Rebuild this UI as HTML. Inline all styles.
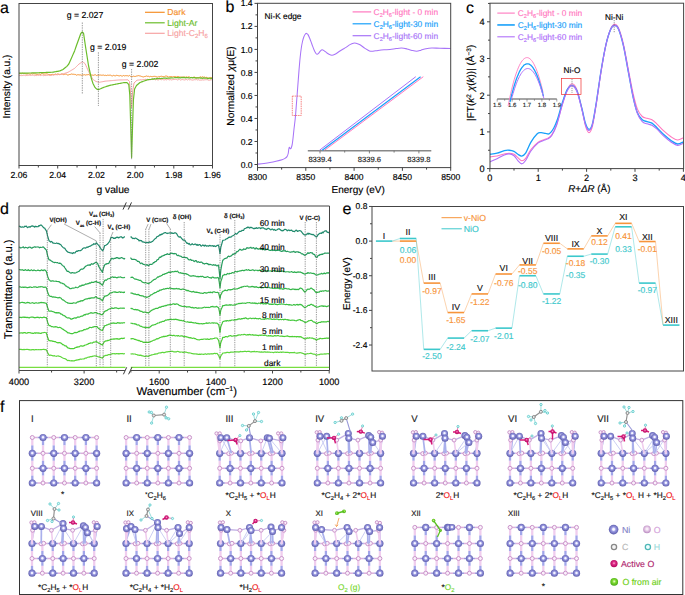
<!DOCTYPE html>
<html><head><meta charset="utf-8"><style>
html,body{margin:0;padding:0;background:#fff;}
svg{display:block;}
text{font-family:"Liberation Sans", sans-serif;stroke-width:0.15px;text-rendering:geometricPrecision;}
</style></head><body>
<svg width="685" height="595" viewBox="0 0 685 595">
<rect width="685" height="595" fill="#fff"/>
<text x="0" y="12.6" font-size="16" text-anchor="start" fill="#000"  stroke="#000">a</text>
<text x="225.6" y="12.4" font-size="16" text-anchor="start" fill="#000"  stroke="#000">b</text>
<text x="466" y="12.6" font-size="16" text-anchor="start" fill="#000"  stroke="#000">c</text>
<text x="0" y="214" font-size="16" text-anchor="start" fill="#000"  stroke="#000">d</text>
<text x="342.6" y="214" font-size="16" text-anchor="start" fill="#000"  stroke="#000">e</text>
<text x="0" y="411.6" font-size="16" text-anchor="start" fill="#000"  stroke="#000">f</text>
<path d="M19,73.36 L19.6,73.53 L20.2,73.46 L20.8,73.64 L21.4,73.76 L22,73.31 L22.6,73.05 L23.2,73.66 L23.8,73.45 L24.4,73.33 L25,73.96 L25.6,73.81 L26.2,74.06 L26.8,73.87 L27.4,73.93 L28,73.52 L28.6,73.76 L29.2,74.09 L29.8,73.95 L30.4,74.08 L31,74.09 L31.6,73.55 L32.2,73.91 L32.8,73.94 L33.4,73.7 L34,73.34 L34.6,73.92 L35.2,73.86 L35.8,74.05 L36.4,74.3 L37,74.28 L37.6,74.46 L38.2,74.08 L38.8,74.26 L39.4,74.03 L40,74.37 L40.6,74.49 L41.2,73.85 L41.8,73.57 L42.4,73.5 L43,74.15 L43.6,74 L44.2,74.1 L44.8,73.87 L45.4,73.94 L46,73.87 L46.6,73.81 L47.2,73.99 L47.8,74.09 L48.4,74.43 L49,74.4 L49.6,74.61 L50.2,74.66 L50.8,74.81 L51.4,74.6 L52,74.04 L52.6,74.4 L53.2,74.67 L53.8,74.76 L54.4,74.5 L55,74.51 L55.6,74.07 L56.2,74.41 L56.8,74.35 L57.4,74.07 L58,73.73 L58.6,74.28 L59.2,74.68 L59.8,74.07 L60.4,74.42 L61,74.25 L61.6,73.94 L62.2,73.92 L62.8,74.35 L63.4,74.67 L64,74.09 L64.6,74.32 L65.2,73.93 L65.8,74.35 L66.4,74.22 L67,74.66 L67.6,74.97 L68.2,74.71 L68.8,75.03 L69.4,74.58 L70,74.16 L70.6,74.42 L71.2,74.05 L71.8,74.02 L72.4,74.21 L73,74.49 L73.6,74.23 L74.2,74.01 L74.8,74.65 L75.4,74.48 L76,74.98 L76.6,75.18 L77.2,74.83 L77.8,74.73 L78.4,74.74 L79,74.87 L79.6,74.9 L80.2,74.89 L80.8,74.95 L81.4,75.27 L82,75.05 L82.6,74.88 L83.2,75.07 L83.8,74.73 L84.4,74.63 L85,75.2 L85.6,75.08 L86.2,75.05 L86.8,74.56 L87.4,74.69 L88,74.91 L88.6,74.52 L89.2,74.88 L89.8,75.08 L90.4,74.67 L91,74.98 L91.6,75 L92.2,75.21 L92.8,75.03 L93.4,75.27 L94,75.43 L94.6,74.87 L95.2,74.63 L95.8,75.07 L96.4,75.56 L97,75.17 L97.6,75.17 L98.2,75.3 L98.8,75.13 L99.4,75.09 L100,75.04 L100.6,75.06 L101.2,75.29 L101.8,75.14 L102.4,75.14 L103,75.51 L103.6,75.02 L104.2,75.28 L104.8,75.56 L105.4,75.32 L106,75.14 L106.6,75.57 L107.2,75.29 L107.8,75.1 L108.4,75.24 L109,75.56 L109.6,75.18 L110.2,75.2 L110.8,75.23 L111.4,75.69 L112,75.58 L112.6,75.91 L113.2,75.46 L113.8,75.39 L114.4,75.65 L115,75.99 L115.6,75.78 L116.2,75.48 L116.8,75.24 L117.4,75.49 L118,75.32 L118.6,75.8 L119.2,76.07 L119.8,75.63 L120.4,75.49 L121,75.91 L121.6,75.98 L122.2,76.17 L122.8,75.85 L123.4,75.51 L124,75.49 L124.6,75.93 L125.2,75.7 L125.8,75.65 L126.4,75.7 L127,75.73 L127.6,75.74 L128.2,76.22 L128.8,75.77 L129.4,75.42 L130,76.1 L130.6,76.38 L131.2,76.63 L131.8,76.26 L132.4,76.55 L133,76.68 L133.6,76.12 L134.2,76.31 L134.8,76.5 L135.4,76.44 L136,76.29 L136.6,76.01 L137.2,75.93 L137.8,75.79 L138.4,75.59 L139,75.96 L139.6,75.88 L140.2,76.32 L140.8,75.85 L141.4,76.4 L142,76.49 L142.6,76.75 L143.2,76.87 L143.8,76.93 L144.4,76.68 L145,76.05 L145.6,76.41 L146.2,76.07 L146.8,76.03 L147.4,76.34 L148,76.38 L148.6,76.3 L149.2,76.74 L149.8,76.68 L150.4,76.41 L151,76.2 L151.6,76.64 L152.2,76.53 L152.8,76.75 L153.4,76.48 L154,76.21 L154.6,76.39 L155.2,76.74 L155.8,76.33 L156.4,76.7 L157,77 L157.6,77.06 L158.2,77.1 L158.8,76.4 L159.4,76.61 L160,76.94 L160.6,76.37 L161.2,76.29 L161.8,76.26 L162.4,76.48 L163,76.5 L163.6,76.56 L164.2,76.87 L164.8,76.34 L165.4,76.12 L166,76.09 L166.6,76.07 L167.2,76.02 L167.8,76.82 L168.4,77.11 L169,76.57 L169.6,76.68 L170.2,76.58 L170.8,76.53 L171.4,76.54 L172,76.82 L172.6,76.91 L173.2,76.76 L173.8,76.54 L174.4,76.56 L175,76.39 L175.6,76.7 L176.2,77 L176.8,76.86 L177.4,76.52 L178,76.45 L178.6,76.59 L179.2,76.88 L179.8,77.19 L180.4,76.99 L181,77.27 L181.6,77.26 L182.2,77.08 L182.8,76.95 L183.4,77 L184,77.22 L184.6,77.08 L185.2,77.26 L185.8,77.15 L186.4,76.9 L187,77.05 L187.6,77.27 L188.2,76.82 L188.8,76.93 L189.4,76.98 L190,77.43 L190.6,77.7 L191.2,77.34 L191.8,77.64 L192.4,77.7 L193,77.26 L193.6,77.22 L194.2,76.91 L194.8,77.37 L195.4,77.48 L196,77.74 L196.6,77.79 L197.2,77.71 L197.8,77.73 L198.4,77.6 L199,77.12 L199.6,77.33 L200.2,76.91 L200.8,76.83 L201.4,77.37 L202,76.98 L202.6,76.84 L203.2,76.78 L203.8,77.46 L204.4,77.17 L205,76.9 L205.6,77.5 L206.2,77.16 L206.8,77.64 L207.4,77.74 L208,77.94 L208.6,78.15 L209.2,77.92 L209.8,78.02 L210.4,77.38 L211,77.73 L211.6,77.68 L212.2,77.84" fill="none" stroke="#f5902a" stroke-width="1" stroke-linejoin="round" />
<path d="M19,75.39 L19.81,75.47 L20.62,75.51 L21.42,75.62 L22.23,75.48 L23.04,75.61 L23.85,74.99 L24.65,75.3 L25.46,75.64 L26.27,75.44 L27.08,75.62 L27.88,75.07 L28.69,75.32 L29.5,75.17 L30.31,75.38 L31.12,75.41 L31.92,75.02 L32.73,75.17 L33.54,75.21 L34.35,75.66 L35.15,75.56 L35.96,75.14 L36.77,75.59 L37.58,75.14 L38.38,75.47 L39.19,75.13 L40,75.05 L40.83,75.64 L41.67,75.15 L42.5,75.13 L43.33,75.65 L44.17,75.55 L45,75.12 L45.83,75.57 L46.67,75.25 L47.5,75.32 L48.33,74.97 L49.17,75.46 L50,75.27 L50.83,75.44 L51.67,75.36 L52.5,74.93 L53.33,74.95 L54.17,74.79 L55,74.75 L55.88,74.6 L56.75,74.66 L57.62,74.77 L58.5,74.25 L59.38,74.62 L60.25,74.4 L61.12,74.3 L62,74.2 L62.86,73.93 L63.71,73.66 L64.57,73.39 L65.43,73.11 L66.29,72.84 L67.14,72.57 L68,72.3 L68.83,71.81 L69.65,71.33 L70.47,70.84 L71.3,70.35 L72.12,69.86 L72.95,69.38 L73.77,68.89 L74.6,68.4 L75.48,67.52 L76.36,66.64 L77.24,65.76 L78.12,64.88 L79,64 L79.88,63.45 L80.75,62.9 L81.62,62.35 L82.5,61.8 L83.33,62.37 L84.17,62.93 L85,63.5 L85.88,65.45 L86.75,67.4 L87.62,69.35 L88.5,71.3 L89.36,72.9 L90.22,74.5 L91.08,76.1 L91.94,77.7 L92.8,79.3 L93.6,79.85 L94.4,80.4 L95.2,80.95 L96,81.5 L96.85,81.7 L97.7,81.9 L98.55,82.1 L99.4,82.3 L100.33,82.12 L101.27,81.93 L102.2,81.75 L103.13,81.57 L104.07,81.38 L105,81.2 L105.84,81.12 L106.67,81.05 L107.51,80.98 L108.35,80.9 L109.19,80.83 L110.03,80.75 L110.86,80.67 L111.7,80.6 L112.54,80.53 L113.38,80.45 L114.21,80.38 L115.05,80.3 L115.89,80.22 L116.73,80.15 L117.56,80.08 L118.4,80 L119.26,79.98 L120.13,79.96 L120.99,79.95 L121.85,79.93 L122.72,79.91 L123.58,79.89 L124.45,79.87 L125.31,79.85 L126.17,79.84 L127.04,79.82 L127.9,79.8 L129.5,81.5 L130.5,92 L131.5,108 L132.6,92 L134,83 L135,82.07 L136,81.13 L137,80.2 L137.8,80.13 L138.6,80.06 L139.4,79.99 L140.2,79.81 L141,79.72 L141.8,80 L142.6,79.7 L143.4,79.51 L144.2,79.56 L145,79.64 L145.8,79.19 L146.61,79.84 L147.41,79.18 L148.21,79.69 L149.02,79.77 L149.82,79.19 L150.62,79.73 L151.43,79.44 L152.23,79.6 L153.04,79.2 L153.84,79.24 L154.64,79.33 L155.45,79.88 L156.25,79.35 L157.05,79.75 L157.86,79.88 L158.66,79.89 L159.46,79.48 L160.27,79.49 L161.07,79.61 L161.88,79.79 L162.68,79.33 L163.48,79.78 L164.29,79.82 L165.09,79.87 L165.89,79.3 L166.7,79.94 L167.5,79.35 L168.3,79.53 L169.11,79.72 L169.91,79.94 L170.71,79.54 L171.52,79.95 L172.32,79.69 L173.12,79.54 L173.93,79.54 L174.73,79.45 L175.54,79.39 L176.34,79.44 L177.14,79.82 L177.95,80.04 L178.75,79.46 L179.55,79.39 L180.36,80.05 L181.16,79.74 L181.96,79.65 L182.77,79.54 L183.57,79.79 L184.38,79.96 L185.18,79.71 L185.98,79.69 L186.79,79.44 L187.59,80.04 L188.39,79.43 L189.2,79.76 L190,80 L190.8,79.51 L191.61,79.94 L192.41,80.1 L193.21,79.88 L194.02,79.99 L194.82,79.52 L195.62,79.75 L196.43,79.56 L197.23,80.05 L198.04,79.67 L198.84,79.79 L199.64,80.17 L200.45,80.08 L201.25,80.17 L202.05,79.81 L202.86,79.83 L203.66,80.01 L204.46,79.84 L205.27,79.71 L206.07,79.79 L206.88,79.62 L207.68,79.79 L208.48,80.22 L209.29,80.2 L210.09,79.97 L210.89,79.89 L211.7,79.78 L212.5,79.9" fill="none" stroke="#f7a3a3" stroke-width="1" stroke-linejoin="round" />
<path d="M19,73.2 L19.8,73.19 L20.6,73.17 L21.4,73.16 L22.2,73.14 L23,73.12 L23.8,73.11 L24.6,73.09 L25.4,73.08 L26.2,73.06 L27,73.05 L27.8,73.04 L28.6,73.02 L29.4,73.01 L30.2,72.99 L31,72.98 L31.8,72.96 L32.6,72.95 L33.4,72.93 L34.2,72.92 L35,72.9 L35.8,72.87 L36.6,72.84 L37.4,72.8 L38.2,72.77 L39,72.74 L39.8,72.71 L40.6,72.68 L41.4,72.65 L42.2,72.61 L43,72.58 L43.8,72.55 L44.6,72.52 L45.4,72.49 L46.2,72.45 L47,72.42 L47.8,72.39 L48.6,72.36 L49.4,72.33 L50.2,72.3 L51,72.26 L51.8,72.23 L52.6,72.2 L53.48,72.05 L54.35,71.9 L55.23,71.75 L56.1,71.6 L56.98,71.45 L57.85,71.3 L58.73,71.15 L59.6,71 L60.45,70.62 L61.3,70.25 L62.15,69.88 L63,69.5 L63.9,68.78 L64.8,68.05 L65.7,67.32 L66.6,66.6 L67.7,65.3 L68.8,64 L69.7,62 L70.6,60 L71.5,58 L72.53,55.63 L73.57,53.27 L74.6,50.9 L75.4,48.6 L76.2,46.3 L77,44 L78,41.25 L79,38.5 L79.9,36 L80.8,33.5 L82.3,31.9 L83.6,33.5 L84.55,40 L85.5,46.5 L87,56 L88.5,65.5 L90,72.5 L91.4,78.6 L93,83.5 L94,85.45 L95,87.4 L95.9,88.3 L96.8,89.2 L97.6,89.4 L98.4,89.6 L99.45,89.2 L100.5,88.8 L101.38,88.42 L102.25,88.05 L103.12,87.67 L104,87.3 L104.86,87.01 L105.71,86.73 L106.57,86.44 L107.43,86.16 L108.29,85.87 L109.14,85.59 L110,85.3 L110.84,85.14 L111.68,84.98 L112.52,84.82 L113.36,84.66 L114.2,84.5 L115.04,84.34 L115.88,84.18 L116.72,84.02 L117.56,83.86 L118.4,83.7 L119.33,83.52 L120.27,83.33 L121.2,83.15 L122.13,82.97 L123.07,82.78 L124,82.6 L125,82.63 L126,82.67 L127,82.7 L127.9,83.6 L128.8,84.5 L129.8,95 L130.7,125 L131.6,157.5 L132.5,128 L133.4,100 L134.6,89 L135.55,87.25 L136.5,85.5 L137.38,84.75 L138.25,84 L139.12,83.25 L140,82.5 L140.82,82.2 L141.64,81.9 L142.47,81.6 L143.29,81.3 L144.11,81 L144.93,80.7 L145.76,80.4 L146.58,80.1 L147.4,79.8 L148.24,79.69 L149.09,79.58 L149.93,79.47 L150.78,79.33 L151.62,79.17 L152.47,78.92 L153.31,79.24 L154.16,78.61 L155,78.8 L155.83,78.99 L156.67,78.45 L157.5,78.68 L158.33,78.67 L159.17,78.27 L160,78.43 L160.83,78.57 L161.67,78.37 L162.5,78.49 L163.33,78.09 L164.17,78.09 L165,77.97 L165.83,78.17 L166.67,78.39 L167.5,78.15 L168.33,78.23 L169.17,77.96 L170,78.15 L170.83,77.73 L171.67,77.81 L172.5,78 L173.33,78 L174.17,77.79 L175,77.55 L175.83,77.63 L176.67,77.56 L177.5,77.57 L178.33,77.85 L179.17,77.45 L180,77.83 L180.8,77.84 L181.6,77.36 L182.4,77.58 L183.2,77.66 L184,77.39 L184.8,77.65 L185.6,77.96 L186.4,77.5 L187.2,77.8 L188,77.53 L188.8,77.82 L189.6,78.03 L190.4,77.63 L191.2,77.53 L192,77.59 L192.8,77.88 L193.6,77.58 L194.4,77.64 L195.2,77.9 L196,78.17 L196.8,77.89 L197.6,77.89 L198.4,78.05 L199.2,77.74 L200,78.05 L200.83,77.83 L201.67,78.12 L202.5,78.35 L203.33,77.84 L204.17,78.17 L205,78.22 L205.83,77.98 L206.67,78.07 L207.5,78.54 L208.33,78.57 L209.17,78.07 L210,78.44 L210.83,78.62 L211.67,78.22 L212.5,78.4" fill="none" stroke="#6bbd2b" stroke-width="1.2" stroke-linejoin="round" />
<line x1="82.3" y1="22.5" x2="82.3" y2="94" stroke="#555" stroke-width="0.6" stroke-dasharray="1.4,1"/>
<line x1="98.4" y1="52.3" x2="98.4" y2="106" stroke="#555" stroke-width="0.6" stroke-dasharray="1.4,1"/>
<line x1="131.6" y1="69" x2="131.6" y2="160" stroke="#777" stroke-width="0.7" stroke-dasharray="1.4,1"/>
<text x="85" y="18.4" font-size="8.7" text-anchor="middle" fill="#000"  stroke="#000">g = 2.027</text>
<text x="108.2" y="49.8" font-size="8.7" text-anchor="middle" fill="#000"  stroke="#000">g = 2.019</text>
<text x="140.1" y="67.4" font-size="8.7" text-anchor="middle" fill="#000"  stroke="#000">g = 2.002</text>
<line x1="145" y1="12.3" x2="164.7" y2="12.3" stroke="#f5902a" stroke-width="1.2" />
<text x="167.3" y="15.4" font-size="8.6" text-anchor="start" fill="#f5902a"  stroke="#f5902a">Dark</text>
<line x1="145" y1="22.8" x2="164.7" y2="22.8" stroke="#6bbd2b" stroke-width="1.2" />
<text x="167.3" y="25.9" font-size="8.6" text-anchor="start" fill="#6bbd2b"  stroke="#6bbd2b">Light-Ar</text>
<line x1="145" y1="33.3" x2="164.7" y2="33.3" stroke="#f7a3a3" stroke-width="1.2" />
<text x="167.3" y="36.4" font-size="8.6" text-anchor="start" fill="#f7a3a3"  stroke="#f7a3a3">Light-C<tspan font-size="6" dy="2">2</tspan><tspan dy="-2">H</tspan><tspan font-size="6" dy="2">6</tspan></text>
<rect x="19" y="3.5" width="193.5" height="162.0" fill="none" stroke="#444" stroke-width="1"/>
<line x1="19" y1="165.5" x2="19" y2="168.5" stroke="#444" stroke-width="1" />
<text x="19" y="178" font-size="8.7" text-anchor="middle" fill="#000"  stroke="#000">2.06</text>
<line x1="38.35" y1="165.5" x2="38.35" y2="167.5" stroke="#444" stroke-width="1" />
<line x1="57.7" y1="165.5" x2="57.7" y2="168.5" stroke="#444" stroke-width="1" />
<text x="57.7" y="178" font-size="8.7" text-anchor="middle" fill="#000"  stroke="#000">2.04</text>
<line x1="77.05" y1="165.5" x2="77.05" y2="167.5" stroke="#444" stroke-width="1" />
<line x1="96.4" y1="165.5" x2="96.4" y2="168.5" stroke="#444" stroke-width="1" />
<text x="96.4" y="178" font-size="8.7" text-anchor="middle" fill="#000"  stroke="#000">2.02</text>
<line x1="115.75" y1="165.5" x2="115.75" y2="167.5" stroke="#444" stroke-width="1" />
<line x1="135.1" y1="165.5" x2="135.1" y2="168.5" stroke="#444" stroke-width="1" />
<text x="135.1" y="178" font-size="8.7" text-anchor="middle" fill="#000"  stroke="#000">2.00</text>
<line x1="154.45" y1="165.5" x2="154.45" y2="167.5" stroke="#444" stroke-width="1" />
<line x1="173.8" y1="165.5" x2="173.8" y2="168.5" stroke="#444" stroke-width="1" />
<text x="173.8" y="178" font-size="8.7" text-anchor="middle" fill="#000"  stroke="#000">1.98</text>
<line x1="193.15" y1="165.5" x2="193.15" y2="167.5" stroke="#444" stroke-width="1" />
<line x1="212.5" y1="165.5" x2="212.5" y2="168.5" stroke="#444" stroke-width="1" />
<text x="212.5" y="178" font-size="8.7" text-anchor="middle" fill="#000"  stroke="#000">1.96</text>
<text x="113" y="193" font-size="10.3" text-anchor="middle" fill="#000"  stroke="#000">g value</text>
<text x="0" y="0" font-size="10.1" text-anchor="middle" fill="#000" transform="translate(9.9,86.6) rotate(-90)" stroke="#000">Intensity (a.u.)</text>
<path d="M257.5,164.2 C258.58,164.07 261.92,163.68 264,163.4 C266.08,163.12 268,162.85 270,162.5 C272,162.15 274,161.75 276,161.3 C278,160.85 280.5,160.28 282,159.8 C283.5,159.32 284.17,158.93 285,158.4 C285.83,157.87 286.47,157.42 287,156.6 C287.53,155.78 287.9,154.77 288.2,153.5 C288.5,152.23 288.6,150.03 288.8,149 C289,147.97 289.17,147.37 289.4,147.3 C289.63,147.23 289.93,148.42 290.2,148.6 C290.47,148.78 290.75,148.75 291,148.4 C291.25,148.05 291.48,147.27 291.7,146.5 C291.92,145.73 292.08,145.13 292.3,143.8 C292.52,142.47 292.72,140.97 293,138.5 C293.28,136.03 293.62,132.42 294,129 C294.38,125.58 294.88,122.33 295.3,118 C295.72,113.67 296.08,108.33 296.5,103 C296.92,97.67 297.38,91.43 297.8,86 C298.22,80.57 298.6,75.23 299,70.4 C299.4,65.57 299.82,60.73 300.2,57 C300.58,53.27 300.92,50.58 301.3,48 C301.68,45.42 302.08,43.33 302.5,41.5 C302.92,39.67 303.35,38.22 303.8,37 C304.25,35.78 304.73,34.8 305.2,34.2 C305.67,33.6 306.13,33.33 306.6,33.4 C307.07,33.47 307.47,33.75 308,34.6 C308.53,35.45 309.13,36.85 309.8,38.5 C310.47,40.15 311.3,42.62 312,44.5 C312.7,46.38 313.37,48.35 314,49.8 C314.63,51.25 315.27,52.45 315.8,53.2 C316.33,53.95 316.73,54.28 317.2,54.3 C317.67,54.32 318.05,53.88 318.6,53.3 C319.15,52.72 319.9,51.4 320.5,50.8 C321.1,50.2 321.62,49.73 322.2,49.7 C322.78,49.67 323.28,50.12 324,50.6 C324.72,51.08 325.67,51.98 326.5,52.6 C327.33,53.22 328.08,53.87 329,54.3 C329.92,54.73 331,55.22 332,55.2 C333,55.18 333.92,54.73 335,54.2 C336.08,53.67 337.33,52.75 338.5,52 C339.67,51.25 340.75,50.47 342,49.7 C343.25,48.93 344.67,48.25 346,47.4 C347.33,46.55 348.75,45.3 350,44.6 C351.25,43.9 352.5,43.42 353.5,43.2 C354.5,42.98 354.92,43.03 356,43.3 C357.08,43.57 358.5,43.95 360,44.8 C361.5,45.65 363.42,47.38 365,48.4 C366.58,49.42 368.17,50.43 369.5,50.9 C370.83,51.37 371.58,51.28 373,51.2 C374.42,51.12 376.17,50.63 378,50.4 C379.83,50.17 382,49.93 384,49.8 C386,49.67 388,49.8 390,49.6 C392,49.4 394.08,48.87 396,48.6 C397.92,48.33 399.67,47.95 401.5,48 C403.33,48.05 405.25,48.5 407,48.9 C408.75,49.3 410.38,50.02 412,50.4 C413.62,50.78 415.2,51.23 416.7,51.2 C418.2,51.17 419.45,50.62 421,50.2 C422.55,49.78 424.2,49.07 426,48.7 C427.8,48.33 429.47,48.07 431.8,48 C434.13,47.93 436.85,48.22 440,48.3 C443.15,48.38 448.92,48.47 450.7,48.5" fill="none" stroke="#a874f8" stroke-width="1.05" />
<rect x="292.3" y="96.1" width="8.9" height="19.4" fill="none" stroke="#f03030" stroke-width="0.6" stroke-dasharray="1.5,0.8"/>
<line x1="307.8" y1="150.7" x2="431.3" y2="150.7" stroke="#888" stroke-width="1.6" />
<line x1="320" y1="150.7" x2="320" y2="153.4" stroke="#666" stroke-width="0.8" />
<line x1="369.4" y1="150.7" x2="369.4" y2="153.4" stroke="#666" stroke-width="0.8" />
<line x1="418.9" y1="150.7" x2="418.9" y2="153.4" stroke="#666" stroke-width="0.8" />
<line x1="344.7" y1="150.7" x2="344.7" y2="152.6" stroke="#666" stroke-width="0.8" />
<line x1="394.1" y1="150.7" x2="394.1" y2="152.6" stroke="#666" stroke-width="0.8" />
<text x="320" y="161.6" font-size="7.6" text-anchor="middle" fill="#222"  stroke="#222">8339.4</text>
<text x="369.4" y="161.6" font-size="7.6" text-anchor="middle" fill="#222"  stroke="#222">8339.6</text>
<text x="418.9" y="161.6" font-size="7.6" text-anchor="middle" fill="#222"  stroke="#222">8339.8</text>
<line x1="324.6" y1="150.2" x2="423.3" y2="76.7" stroke="#ff78bf" stroke-width="1" />
<line x1="322.2" y1="150.2" x2="420.6" y2="76.7" stroke="#18a0fa" stroke-width="1.2" />
<line x1="319.6" y1="150.2" x2="415.8" y2="76.7" stroke="#a874f8" stroke-width="1" />
<line x1="352.6" y1="11.9" x2="371.2" y2="11.9" stroke="#ff78bf" stroke-width="1.2" />
<text x="373.6" y="14.9" font-size="8.4" text-anchor="start" fill="#ff78bf"  stroke="#ff78bf">C<tspan font-size="5.6" dy="2">2</tspan><tspan dy="-2">H</tspan><tspan font-size="5.6" dy="2">6</tspan><tspan dy="-2">-light - 0 min</tspan></text>
<line x1="352.6" y1="23.8" x2="371.2" y2="23.8" stroke="#18a0fa" stroke-width="1.2" />
<text x="373.6" y="26.8" font-size="8.4" text-anchor="start" fill="#18a0fa"  stroke="#18a0fa">C<tspan font-size="5.6" dy="2">2</tspan><tspan dy="-2">H</tspan><tspan font-size="5.6" dy="2">6</tspan><tspan dy="-2">-light-30 min</tspan></text>
<line x1="352.6" y1="35.7" x2="371.2" y2="35.7" stroke="#a874f8" stroke-width="1.2" />
<text x="373.6" y="38.7" font-size="8.4" text-anchor="start" fill="#a874f8"  stroke="#a874f8">C<tspan font-size="5.6" dy="2">2</tspan><tspan dy="-2">H</tspan><tspan font-size="5.6" dy="2">6</tspan><tspan dy="-2">-light-60 min</tspan></text>
<text x="264.6" y="18.9" font-size="8.3" text-anchor="start" fill="#000"  stroke="#000">Ni-K edge</text>
<rect x="257.5" y="3.3" width="193.2" height="164.29999999999998" fill="none" stroke="#444" stroke-width="1"/>
<line x1="257.5" y1="167.6" x2="257.5" y2="170.8" stroke="#444" stroke-width="1" />
<text x="257.5" y="180.4" font-size="8.6" text-anchor="middle" fill="#000"  stroke="#000">8300</text>
<line x1="281.65" y1="167.6" x2="281.65" y2="169.6" stroke="#444" stroke-width="1" />
<line x1="305.8" y1="167.6" x2="305.8" y2="170.8" stroke="#444" stroke-width="1" />
<text x="305.8" y="180.4" font-size="8.6" text-anchor="middle" fill="#000"  stroke="#000">8350</text>
<line x1="329.95" y1="167.6" x2="329.95" y2="169.6" stroke="#444" stroke-width="1" />
<line x1="354.1" y1="167.6" x2="354.1" y2="170.8" stroke="#444" stroke-width="1" />
<text x="354.1" y="180.4" font-size="8.6" text-anchor="middle" fill="#000"  stroke="#000">8400</text>
<line x1="378.25" y1="167.6" x2="378.25" y2="169.6" stroke="#444" stroke-width="1" />
<line x1="402.4" y1="167.6" x2="402.4" y2="170.8" stroke="#444" stroke-width="1" />
<text x="402.4" y="180.4" font-size="8.6" text-anchor="middle" fill="#000"  stroke="#000">8450</text>
<line x1="426.55" y1="167.6" x2="426.55" y2="169.6" stroke="#444" stroke-width="1" />
<line x1="450.7" y1="167.6" x2="450.7" y2="170.8" stroke="#444" stroke-width="1" />
<text x="450.7" y="180.4" font-size="8.6" text-anchor="middle" fill="#000"  stroke="#000">8500</text>
<line x1="257.5" y1="164.5" x2="254.5" y2="164.5" stroke="#444" stroke-width="1" />
<text x="252.6" y="167.6" font-size="8.6" text-anchor="end" fill="#000"  stroke="#000">0.0</text>
<line x1="257.5" y1="152.99" x2="255.5" y2="152.99" stroke="#444" stroke-width="1" />
<line x1="257.5" y1="141.48" x2="254.5" y2="141.48" stroke="#444" stroke-width="1" />
<text x="252.6" y="144.58" font-size="8.6" text-anchor="end" fill="#000"  stroke="#000">0.2</text>
<line x1="257.5" y1="129.97" x2="255.5" y2="129.97" stroke="#444" stroke-width="1" />
<line x1="257.5" y1="118.46" x2="254.5" y2="118.46" stroke="#444" stroke-width="1" />
<text x="252.6" y="121.56" font-size="8.6" text-anchor="end" fill="#000"  stroke="#000">0.4</text>
<line x1="257.5" y1="106.95" x2="255.5" y2="106.95" stroke="#444" stroke-width="1" />
<line x1="257.5" y1="95.44" x2="254.5" y2="95.44" stroke="#444" stroke-width="1" />
<text x="252.6" y="98.54" font-size="8.6" text-anchor="end" fill="#000"  stroke="#000">0.6</text>
<line x1="257.5" y1="83.93" x2="255.5" y2="83.93" stroke="#444" stroke-width="1" />
<line x1="257.5" y1="72.42" x2="254.5" y2="72.42" stroke="#444" stroke-width="1" />
<text x="252.6" y="75.52" font-size="8.6" text-anchor="end" fill="#000"  stroke="#000">0.8</text>
<line x1="257.5" y1="60.91" x2="255.5" y2="60.91" stroke="#444" stroke-width="1" />
<line x1="257.5" y1="49.4" x2="254.5" y2="49.4" stroke="#444" stroke-width="1" />
<text x="252.6" y="52.5" font-size="8.6" text-anchor="end" fill="#000"  stroke="#000">1.0</text>
<line x1="257.5" y1="37.89" x2="255.5" y2="37.89" stroke="#444" stroke-width="1" />
<line x1="257.5" y1="26.38" x2="254.5" y2="26.38" stroke="#444" stroke-width="1" />
<text x="252.6" y="29.48" font-size="8.6" text-anchor="end" fill="#000"  stroke="#000">1.2</text>
<line x1="257.5" y1="14.87" x2="255.5" y2="14.87" stroke="#444" stroke-width="1" />
<line x1="257.5" y1="3.36" x2="254.5" y2="3.36" stroke="#444" stroke-width="1" />
<text x="252.6" y="6.46" font-size="8.6" text-anchor="end" fill="#000"  stroke="#000">1.4</text>
<text x="358.2" y="193.4" font-size="10" text-anchor="middle" fill="#000"  stroke="#000">Energy (eV)</text>
<text font-size="10.2" text-anchor="middle" transform="translate(234.2,86) rotate(-90)" stroke="#000">Normalized <tspan font-style="italic">χ</tspan>μ(E)</text>
<clipPath id="clc"><rect x="490" y="3.2" width="193.60000000000002" height="165.4"/></clipPath>
<g clip-path="url(#clc)">
<path d="M489.8,156.86 C491.01,156.7 494.64,156.43 497.06,155.94 C499.48,155.45 502.3,154.38 504.32,153.92 C506.34,153.46 507.55,153.12 509.16,153.19 C510.77,153.25 512.55,153.55 514,154.29 C515.45,155.02 516.58,156.52 517.87,157.59 C519.16,158.66 520.45,160.59 521.74,160.71 C523.03,160.83 524.08,160.19 525.62,158.32 C527.15,156.46 528.84,152.21 530.94,149.52 C533.04,146.82 536.18,143.77 538.2,142.18 C540.22,140.59 541.43,140.65 543.04,139.97 C544.65,139.3 546.43,139 547.88,138.14 C549.33,137.28 550.3,137.1 551.75,134.84 C553.2,132.57 554.82,129.64 556.59,124.56 C558.37,119.48 560.63,110.19 562.4,104.37 C564.17,98.56 565.63,93.12 567.24,89.69 C568.85,86.27 570.47,83.82 572.08,83.82 C573.69,83.82 575.31,85.66 576.92,89.69 C578.53,93.73 580.31,101.93 581.76,108.04 C583.21,114.16 584.42,122.3 585.63,126.39 C586.84,130.49 587.89,132.63 589.02,132.63 C590.15,132.63 591.2,131.1 592.41,126.39 C593.62,121.69 594.83,113.55 596.28,104.37 C597.73,95.2 599.51,81.32 601.12,71.34 C602.73,61.37 604.35,51.71 605.96,44.55 C607.57,37.4 609.35,31.77 610.8,28.41 C612.25,25.04 613.38,24.43 614.67,24.37 C615.96,24.31 617.09,24.8 618.54,28.04 C620,31.28 621.77,37.03 623.38,43.82 C625,50.61 626.61,60.52 628.22,68.78 C629.84,77.03 631.53,86.64 633.06,93.36 C634.6,100.09 635.89,105.29 637.42,109.15 C638.95,113 640.65,114.96 642.26,116.49 C643.87,118.02 645.49,117.77 647.1,118.32 C648.71,118.87 650.33,118.87 651.94,119.79 C653.55,120.71 654.76,121.93 656.78,123.83 C658.8,125.72 661.62,128.96 664.04,131.17 C666.46,133.37 669.04,135.57 671.3,137.04 C673.56,138.51 675.58,139.85 677.59,139.97 C679.61,140.1 682.43,138.14 683.4,137.77" fill="none" stroke="#ff78bf" stroke-width="1.1" />
<path d="M489.8,154.29 C491.01,154.1 494.64,153.8 497.06,153.19 C499.48,152.57 502.3,151.11 504.32,150.62 C506.34,150.13 507.55,150.13 509.16,150.25 C510.77,150.37 512.55,150.68 514,151.35 C515.45,152.02 516.58,153.49 517.87,154.29 C519.16,155.08 520.45,156.31 521.74,156.12 C523.03,155.94 524.08,155.51 525.62,153.19 C527.15,150.86 529,145.42 530.94,142.18 C532.88,138.93 535.54,135.33 537.23,133.73 C538.93,132.14 539.73,132.7 541.1,132.63 C542.48,132.57 544.09,133.18 545.46,133.37 C546.83,133.55 547.96,134.59 549.33,133.73 C550.7,132.88 552.32,130.68 553.69,128.23 C555.06,125.78 556.11,123.34 557.56,119.05 C559.01,114.77 560.79,107.43 562.4,102.54 C564.01,97.65 565.63,92.57 567.24,89.69 C568.85,86.82 570.47,85.11 572.08,85.29 C573.69,85.47 575.31,87 576.92,90.8 C578.53,94.59 580.31,102.54 581.76,108.04 C583.21,113.55 584.42,120.28 585.63,123.83 C586.84,127.37 587.89,129.33 589.02,129.33 C590.15,129.33 591.2,128.29 592.41,123.83 C593.62,119.36 594.83,111.47 596.28,102.54 C597.73,93.61 599.51,79.91 601.12,70.24 C602.73,60.58 604.35,51.4 605.96,44.55 C607.57,37.7 609.35,32.32 610.8,29.14 C612.25,25.96 613.38,25.47 614.67,25.47 C615.96,25.47 617.09,25.78 618.54,29.14 C620,32.5 621.77,38.62 623.38,45.65 C625,52.69 626.61,62.78 628.22,71.34 C629.84,79.91 631.53,90.12 633.06,97.03 C634.6,103.95 635.89,109.02 637.42,112.82 C638.95,116.61 640.65,118.32 642.26,119.79 C643.87,121.26 645.49,121.07 647.1,121.62 C648.71,122.17 650.33,122.11 651.94,123.09 C653.55,124.07 654.76,125.54 656.78,127.5 C658.8,129.45 661.62,132.63 664.04,134.84 C666.46,137.04 669.04,139.18 671.3,140.71 C673.56,142.24 675.58,143.83 677.59,144.01 C679.61,144.19 682.43,142.18 683.4,141.81" fill="none" stroke="#18a0fa" stroke-width="1.3" />
<path d="M489.8,161.99 C491.01,161.44 494.64,159.85 497.06,158.69 C499.48,157.53 502.3,155.82 504.32,155.02 C506.34,154.23 507.55,153.8 509.16,153.92 C510.77,154.04 512.55,154.65 514,155.75 C515.45,156.86 516.58,159.18 517.87,160.53 C519.16,161.87 520.45,163.83 521.74,163.83 C523.03,163.83 524.08,162.67 525.62,160.53 C527.15,158.39 528.84,153.92 530.94,150.98 C533.04,148.05 536.18,144.62 538.2,142.91 C540.22,141.2 541.43,141.38 543.04,140.71 C544.65,140.04 546.43,139.73 547.88,138.87 C549.33,138.02 550.3,137.83 551.75,135.57 C553.2,133.31 554.82,130.49 556.59,125.29 C558.37,120.09 560.63,110.12 562.4,104.37 C564.17,98.63 565.63,93.92 567.24,90.8 C568.85,87.68 570.47,85.54 572.08,85.66 C573.69,85.78 575.31,87.62 576.92,91.53 C578.53,95.44 580.31,103.52 581.76,109.15 C583.21,114.77 584.42,121.75 585.63,125.29 C586.84,128.84 587.89,130.55 589.02,130.43 C590.15,130.31 591.2,129.09 592.41,124.56 C593.62,120.03 594.83,112.2 596.28,103.27 C597.73,94.34 599.51,80.76 601.12,70.98 C602.73,61.19 604.35,51.53 605.96,44.55 C607.57,37.58 609.35,32.32 610.8,29.14 C612.25,25.96 613.38,25.47 614.67,25.47 C615.96,25.47 617.09,25.84 618.54,29.14 C620,32.44 621.77,38.31 623.38,45.29 C625,52.26 626.61,62.41 628.22,70.98 C629.84,79.54 631.53,89.57 633.06,96.67 C634.6,103.76 635.89,109.39 637.42,113.55 C638.95,117.71 640.65,119.91 642.26,121.62 C643.87,123.34 645.49,123.21 647.1,123.83 C648.71,124.44 650.33,124.44 651.94,125.29 C653.55,126.15 654.76,127.13 656.78,128.96 C658.8,130.8 661.62,134.1 664.04,136.3 C666.46,138.51 669.04,140.65 671.3,142.18 C673.56,143.71 675.58,145.3 677.59,145.48 C679.61,145.66 682.43,143.64 683.4,143.28" fill="none" stroke="#b070fa" stroke-width="1.1" />
</g>
<line x1="614.2" y1="20" x2="614.2" y2="33" stroke="#555" stroke-width="0.6" stroke-dasharray="1.2,1"/>
<line x1="572" y1="79" x2="572" y2="93" stroke="#555" stroke-width="0.6" stroke-dasharray="1.2,1"/>
<rect x="561.5" y="78.5" width="19.5" height="16" fill="none" stroke="#f03030" stroke-width="0.7"/>
<text x="614.2" y="19.6" font-size="8.2" text-anchor="middle" fill="#000"  stroke="#000">Ni-Ni</text>
<text x="571.9" y="73.4" font-size="8.2" text-anchor="middle" fill="#000"  stroke="#000">Ni-O</text>
<line x1="497.2" y1="99" x2="556.8" y2="99" stroke="#888" stroke-width="1.4" />
<line x1="497.2" y1="99" x2="497.2" y2="101.6" stroke="#666" stroke-width="0.6" />
<line x1="504.65" y1="99" x2="504.65" y2="100.8" stroke="#666" stroke-width="0.6" />
<line x1="512.1" y1="99" x2="512.1" y2="101.6" stroke="#666" stroke-width="0.6" />
<line x1="519.55" y1="99" x2="519.55" y2="100.8" stroke="#666" stroke-width="0.6" />
<line x1="527" y1="99" x2="527" y2="101.6" stroke="#666" stroke-width="0.6" />
<line x1="534.45" y1="99" x2="534.45" y2="100.8" stroke="#666" stroke-width="0.6" />
<line x1="541.9" y1="99" x2="541.9" y2="101.6" stroke="#666" stroke-width="0.6" />
<line x1="549.35" y1="99" x2="549.35" y2="100.8" stroke="#666" stroke-width="0.6" />
<line x1="556.8" y1="99" x2="556.8" y2="101.6" stroke="#666" stroke-width="0.6" />
<text x="497.2" y="107" font-size="6" text-anchor="middle" fill="#222"  stroke="#222">1.5</text>
<text x="512.1" y="107" font-size="6" text-anchor="middle" fill="#222"  stroke="#222">1.6</text>
<text x="527" y="107" font-size="6" text-anchor="middle" fill="#222"  stroke="#222">1.7</text>
<text x="541.9" y="107" font-size="6" text-anchor="middle" fill="#222"  stroke="#222">1.8</text>
<text x="556.8" y="107" font-size="6" text-anchor="middle" fill="#222"  stroke="#222">1.9</text>
<path d="M508.1,105.89 C508.25,105.16 508.68,102.94 508.98,101.52 C509.27,100.1 509.56,98.71 509.85,97.36 C510.14,96.01 510.43,94.69 510.73,93.41 C511.02,92.12 511.31,90.87 511.6,89.66 C511.89,88.45 512.18,87.27 512.48,86.12 C512.77,84.98 513.06,83.86 513.35,82.79 C513.64,81.71 513.93,80.67 514.23,79.66 C514.52,78.65 514.81,77.68 515.1,76.74 C515.39,75.8 515.68,74.9 515.98,74.03 C516.27,73.16 516.56,72.33 516.85,71.53 C517.14,70.73 517.43,69.96 517.73,69.23 C518.02,68.5 518.31,67.8 518.6,67.14 C518.89,66.48 519.18,65.85 519.48,65.25 C519.77,64.66 520.06,64.1 520.35,63.58 C520.64,63.05 520.93,62.56 521.23,62.11 C521.52,61.65 521.81,61.23 522.1,60.85 C522.39,60.46 522.68,60.11 522.98,59.79 C523.27,59.47 523.56,59.19 523.85,58.94 C524.14,58.69 524.43,58.48 524.73,58.3 C525.02,58.12 525.31,57.98 525.6,57.86 C525.89,57.75 526.18,57.68 526.48,57.64 C526.77,57.6 527.06,57.59 527.35,57.62 C527.64,57.64 527.93,57.71 528.23,57.8 C528.52,57.9 528.81,58.03 529.1,58.2 C529.39,58.36 529.68,58.56 529.98,58.8 C530.27,59.03 530.56,59.3 530.85,59.6 C531.14,59.91 531.43,60.25 531.73,60.62 C532.02,60.99 532.31,61.4 532.6,61.84 C532.89,62.28 533.18,62.76 533.48,63.27 C533.77,63.78 534.06,64.32 534.35,64.9 C534.64,65.48 534.93,66.1 535.23,66.75 C535.52,67.39 535.81,68.08 536.1,68.79 C536.39,69.51 536.68,70.26 536.98,71.05 C537.27,71.84 537.56,72.66 537.85,73.51 C538.14,74.37 538.43,75.26 538.73,76.18 C539.02,77.11 539.31,78.07 539.6,79.06 C539.89,80.06 540.18,81.08 540.48,82.15 C540.77,83.21 541.06,84.31 541.35,85.44 C541.64,86.57 541.93,87.74 542.23,88.94 C542.52,90.14 542.95,92.02 543.1,92.64" fill="none" stroke="#ff78bf" stroke-width="0.9" />
<path d="M510,102.01 C510.14,101.42 510.56,99.6 510.83,98.43 C511.11,97.27 511.39,96.13 511.67,95.03 C511.95,93.92 512.23,92.85 512.5,91.8 C512.78,90.76 513.06,89.74 513.34,88.75 C513.62,87.76 513.9,86.8 514.17,85.88 C514.45,84.95 514.73,84.05 515.01,83.18 C515.29,82.3 515.57,81.46 515.85,80.65 C516.12,79.84 516.4,79.06 516.68,78.3 C516.96,77.55 517.24,76.83 517.51,76.13 C517.79,75.44 518.07,74.77 518.35,74.14 C518.63,73.5 518.91,72.89 519.18,72.32 C519.46,71.74 519.74,71.19 520.02,70.67 C520.3,70.16 520.58,69.67 520.86,69.21 C521.13,68.75 521.41,68.32 521.69,67.92 C521.97,67.51 522.25,67.14 522.52,66.8 C522.8,66.46 523.08,66.14 523.36,65.86 C523.64,65.58 523.92,65.32 524.19,65.1 C524.47,64.87 524.75,64.68 525.03,64.51 C525.31,64.34 525.59,64.21 525.87,64.1 C526.14,63.99 526.42,63.91 526.7,63.86 C526.98,63.81 527.26,63.79 527.53,63.8 C527.81,63.81 528.09,63.85 528.37,63.92 C528.65,63.99 528.93,64.08 529.21,64.21 C529.48,64.34 529.76,64.49 530.04,64.68 C530.32,64.87 530.6,65.08 530.88,65.32 C531.15,65.57 531.43,65.84 531.71,66.14 C531.99,66.45 532.27,66.78 532.54,67.14 C532.82,67.5 533.1,67.89 533.38,68.31 C533.66,68.73 533.94,69.18 534.22,69.66 C534.49,70.14 534.77,70.65 535.05,71.19 C535.33,71.72 535.61,72.29 535.88,72.89 C536.16,73.48 536.44,74.11 536.72,74.76 C537,75.42 537.28,76.1 537.55,76.82 C537.83,77.53 538.11,78.27 538.39,79.04 C538.67,79.82 538.95,80.62 539.23,81.45 C539.5,82.28 539.78,83.14 540.06,84.03 C540.34,84.92 540.62,85.84 540.89,86.79 C541.17,87.73 541.45,88.71 541.73,89.72 C542.01,90.72 542.29,91.76 542.56,92.83 C542.84,93.89 543.26,95.56 543.4,96.11" fill="none" stroke="#18a0fa" stroke-width="1.3" />
<path d="M511.4,99.57 C511.54,99.07 511.94,97.54 512.21,96.56 C512.48,95.59 512.75,94.64 513.02,93.71 C513.3,92.79 513.57,91.89 513.84,91.02 C514.11,90.14 514.38,89.3 514.65,88.47 C514.92,87.65 515.19,86.85 515.46,86.08 C515.73,85.31 516,84.56 516.27,83.84 C516.55,83.12 516.82,82.43 517.09,81.75 C517.36,81.08 517.63,80.44 517.9,79.82 C518.17,79.2 518.44,78.61 518.71,78.04 C518.98,77.47 519.25,76.93 519.52,76.41 C519.8,75.89 520.07,75.4 520.34,74.93 C520.61,74.47 520.88,74.02 521.15,73.61 C521.42,73.19 521.69,72.8 521.96,72.44 C522.23,72.07 522.5,71.73 522.77,71.42 C523.05,71.1 523.32,70.81 523.59,70.55 C523.86,70.29 524.13,70.05 524.4,69.84 C524.67,69.62 524.94,69.44 525.21,69.27 C525.48,69.11 525.75,68.97 526.02,68.86 C526.3,68.75 526.57,68.67 526.84,68.61 C527.11,68.55 527.38,68.51 527.65,68.5 C527.92,68.49 528.19,68.51 528.46,68.55 C528.73,68.59 529,68.66 529.27,68.75 C529.55,68.84 529.82,68.96 530.09,69.1 C530.36,69.25 530.63,69.42 530.9,69.61 C531.17,69.8 531.44,70.02 531.71,70.27 C531.98,70.51 532.25,70.78 532.52,71.08 C532.8,71.37 533.07,71.7 533.34,72.04 C533.61,72.39 533.88,72.76 534.15,73.16 C534.42,73.55 534.69,73.98 534.96,74.43 C535.23,74.87 535.5,75.35 535.77,75.85 C536.05,76.35 536.32,76.87 536.59,77.42 C536.86,77.97 537.13,78.54 537.4,79.14 C537.67,79.75 537.94,80.37 538.21,81.02 C538.48,81.67 538.75,82.35 539.02,83.05 C539.3,83.76 539.57,84.48 539.84,85.24 C540.11,85.99 540.38,86.77 540.65,87.57 C540.92,88.38 541.19,89.21 541.46,90.06 C541.73,90.92 542,91.8 542.27,92.7 C542.55,93.61 542.82,94.54 543.09,95.49 C543.36,96.45 543.76,97.95 543.9,98.44" fill="none" stroke="#b070fa" stroke-width="1.0" />
<line x1="497.3" y1="13.1" x2="514.8" y2="13.1" stroke="#ff78bf" stroke-width="1.1" />
<text x="517.8" y="16.1" font-size="8.4" text-anchor="start" fill="#ff78bf"  stroke="#ff78bf">C<tspan font-size="5.6" dy="2">2</tspan><tspan dy="-2">H</tspan><tspan font-size="5.6" dy="2">6</tspan><tspan dy="-2">-light - 0 min</tspan></text>
<line x1="497.3" y1="24.95" x2="514.8" y2="24.95" stroke="#18a0fa" stroke-width="1.6" />
<text x="517.8" y="27.95" font-size="8.4" text-anchor="start" fill="#18a0fa"  stroke="#18a0fa">C<tspan font-size="5.6" dy="2">2</tspan><tspan dy="-2">H</tspan><tspan font-size="5.6" dy="2">6</tspan><tspan dy="-2">-light-30 min</tspan></text>
<line x1="497.3" y1="36.8" x2="514.8" y2="36.8" stroke="#b070fa" stroke-width="1.1" />
<text x="517.8" y="39.8" font-size="8.4" text-anchor="start" fill="#b070fa"  stroke="#b070fa">C<tspan font-size="5.6" dy="2">2</tspan><tspan dy="-2">H</tspan><tspan font-size="5.6" dy="2">6</tspan><tspan dy="-2">-light-60 min</tspan></text>
<rect x="490" y="3.2" width="193.60000000000002" height="165.4" fill="none" stroke="#444" stroke-width="1"/>
<line x1="489.8" y1="168.6" x2="489.8" y2="171.8" stroke="#444" stroke-width="1" />
<text x="489.8" y="181.3" font-size="9.2" text-anchor="middle" fill="#000"  stroke="#000">0</text>
<line x1="514" y1="168.6" x2="514" y2="170.6" stroke="#444" stroke-width="1" />
<line x1="538.2" y1="168.6" x2="538.2" y2="171.8" stroke="#444" stroke-width="1" />
<text x="538.2" y="181.3" font-size="9.2" text-anchor="middle" fill="#000"  stroke="#000">1</text>
<line x1="562.4" y1="168.6" x2="562.4" y2="170.6" stroke="#444" stroke-width="1" />
<line x1="586.6" y1="168.6" x2="586.6" y2="171.8" stroke="#444" stroke-width="1" />
<text x="586.6" y="181.3" font-size="9.2" text-anchor="middle" fill="#000"  stroke="#000">2</text>
<line x1="610.8" y1="168.6" x2="610.8" y2="170.6" stroke="#444" stroke-width="1" />
<line x1="635" y1="168.6" x2="635" y2="171.8" stroke="#444" stroke-width="1" />
<text x="635" y="181.3" font-size="9.2" text-anchor="middle" fill="#000"  stroke="#000">3</text>
<line x1="659.2" y1="168.6" x2="659.2" y2="170.6" stroke="#444" stroke-width="1" />
<line x1="683.4" y1="168.6" x2="683.4" y2="171.8" stroke="#444" stroke-width="1" />
<text x="683.4" y="181.3" font-size="9.2" text-anchor="middle" fill="#000"  stroke="#000">4</text>
<line x1="490" y1="168.6" x2="487" y2="168.6" stroke="#444" stroke-width="1" />
<text x="484.6" y="171.9" font-size="9.2" text-anchor="end" fill="#000"  stroke="#000">0</text>
<line x1="490" y1="150.25" x2="488" y2="150.25" stroke="#444" stroke-width="1" />
<line x1="490" y1="131.9" x2="487" y2="131.9" stroke="#444" stroke-width="1" />
<text x="484.6" y="135.2" font-size="9.2" text-anchor="end" fill="#000"  stroke="#000">1</text>
<line x1="490" y1="113.55" x2="488" y2="113.55" stroke="#444" stroke-width="1" />
<line x1="490" y1="95.2" x2="487" y2="95.2" stroke="#444" stroke-width="1" />
<text x="484.6" y="98.5" font-size="9.2" text-anchor="end" fill="#000"  stroke="#000">2</text>
<line x1="490" y1="76.85" x2="488" y2="76.85" stroke="#444" stroke-width="1" />
<line x1="490" y1="58.5" x2="487" y2="58.5" stroke="#444" stroke-width="1" />
<text x="484.6" y="61.8" font-size="9.2" text-anchor="end" fill="#000"  stroke="#000">3</text>
<line x1="490" y1="40.15" x2="488" y2="40.15" stroke="#444" stroke-width="1" />
<line x1="490" y1="21.8" x2="487" y2="21.8" stroke="#444" stroke-width="1" />
<text x="484.6" y="25.1" font-size="9.2" text-anchor="end" fill="#000"  stroke="#000">4</text>
<line x1="490" y1="3.45" x2="488" y2="3.45" stroke="#444" stroke-width="1" />
<text x="589.3" y="192.2" font-size="9.8" text-anchor="middle" stroke="#000"><tspan font-style="italic">R</tspan>+<tspan font-style="italic">ΔR</tspan> (Å)</text>
<text font-size="10" text-anchor="middle" transform="translate(474.3,82.8) rotate(-90)" stroke="#000">|FT(<tspan font-style="italic">k</tspan><tspan font-size="6.5" dy="-3.5">2</tspan><tspan dy="3.5"> </tspan><tspan font-style="italic">χ</tspan>(<tspan font-style="italic">k</tspan>))| (Å<tspan font-size="6.5" dy="-3.5">−3</tspan><tspan dy="3.5">)</tspan></text>
<path d="M19,226.07 L19.73,226.34 L20.47,226.93 L21.2,227.09 L21.93,227.2 L22.67,226.81 L23.4,227.21 L24.13,226.99 L24.87,226.23 L25.6,226.5 L26.33,226.01 L27.07,227.15 L27.8,227.64 L28.53,226.93 L29.27,226.62 L30,227.2 L30.75,226.49 L31.5,226.11 L32.25,225.93 L33,226.04 L33.75,226.45 L34.5,227.06 L35.25,226.13 L36,226.82 L36.72,226.43 L37.43,226.73 L38.15,226.67 L38.87,225.6 L39.58,225.84 L40.3,225.09 L41.2,225.06 L42.1,225.87 L43,227 L43.85,227.83 L44.7,228.11 L45.55,229.71 L46.4,230.96 L47.6,235.91 L49,240.69 L49.8,241.28 L50.6,242.11 L51.4,241.47 L52.2,242.04 L53,243.09 L53.73,242.99 L54.47,243.21 L55.2,243.48 L55.93,243.28 L56.67,242.96 L57.4,243.38 L58.13,243.55 L58.87,243.43 L59.6,244.25 L60.33,244.39 L61.07,245 L61.8,246.03 L62.53,246.89 L63.27,247.72 L64,248.06 L64.8,248.17 L65.6,249.6 L66.4,250.76 L67.2,251.42 L68,252.26 L68.75,252.28 L69.5,252.5 L70.25,252.97 L71,252.74 L71.8,253.16 L72.6,253.53 L73.4,252.57 L74.2,252.99 L75,253.02 L75.71,251.89 L76.43,251.15 L77.14,251.49 L77.86,250.87 L78.57,250.58 L79.29,250.75 L80,250.67 L80.71,250.6 L81.43,250.12 L82.14,249.39 L82.86,248.44 L83.57,248.02 L84.29,247.79 L85,248.01 L85.73,248.16 L86.45,247.24 L87.18,246.93 L87.91,247.41 L88.64,246.59 L89.36,246.52 L90.09,246.13 L90.82,245.83 L91.55,245.22 L92.27,244.87 L93,244.75 L93.83,243.73 L94.65,244.1 L95.47,244.18 L96.3,242.79 L97.03,243.52 L97.77,244.44 L98.5,245.14 L99.5,246.37 L100.5,248.36 L101.6,249.38 L102.4,250.7 L103.4,249.81 L104.6,245.58 L105.4,245.38 L106.2,245.05 L107,244.56 L108,243.53 L109,242.08 L109.7,240.96 L110.4,239.09 L111.2,237.5 L111.96,237.36 L112.72,237.54 L113.48,238.32 L114.24,238.06 L115,238.46 L115.71,237.75 L116.43,237.23 L117.14,237.67 L117.86,237.05 L118.57,237.98 L119.29,237.42 L120,236.99 L120.71,236.79 L121.43,236.73 L122.14,237.63 L122.86,238.05 L123.57,237.54 L124.29,236.82 L125,237" fill="none" stroke="#1f8a6c" stroke-width="1.2" stroke-linejoin="round" />
<path d="M130.5,237.12 L131.28,236.84 L132.05,238.03 L132.82,238.6 L133.6,238.29 L134.38,238.61 L135.15,238.22 L135.92,238.22 L136.7,238.47 L137.5,239.52 L138.3,239.48 L139.1,240.87 L139.9,240.33 L140.7,240.57 L141.5,240.61 L142.3,241.82 L143.1,241.86 L143.9,242.21 L144.7,242.29 L145.44,242.76 L146.18,242.65 L146.92,242.36 L147.66,242.62 L148.4,242.59 L149.27,241.85 L150.13,242.39 L151,242.14 L151.8,241.66 L152.6,241.48 L153.4,240.36 L154.2,239.57 L154.9,238.91 L155.6,238.24 L156.3,237.99 L157,236.53 L157.75,236.4 L158.5,236.17 L159.25,235.51 L160,234.48 L160.71,235.04 L161.43,234.07 L162.14,234.37 L162.86,233.73 L163.57,233.15 L164.29,232.99 L165,232.61 L165.76,232.56 L166.51,233.28 L167.27,233.56 L168.03,233.06 L168.79,233.22 L169.54,232.96 L170.3,232.81 L171.04,233.37 L171.78,232.74 L172.52,233.33 L173.26,233.3 L174,233.28 L174.72,232.73 L175.44,232.92 L176.16,233.2 L176.88,234.07 L177.6,235.61 L178.45,236.5 L179.3,237.15 L180.15,236.67 L181,237.71 L181.8,238.67 L182.6,239.51 L183.4,240.23 L184.2,239.94 L184.9,240.21 L185.6,241.6 L186.3,242.44 L187,243.36 L187.75,243.2 L188.5,244.02 L189.25,243.45 L190,244.68 L190.71,244.99 L191.43,244.35 L192.14,243.74 L192.86,244.27 L193.57,244.74 L194.29,244.48 L195,243.98 L195.71,244.17 L196.43,245.11 L197.14,244.44 L197.86,245.49 L198.57,244.93 L199.29,244.69 L200,244.51 L200.71,245.74 L201.43,246.14 L202.14,245.44 L202.86,244.85 L203.57,245.47 L204.29,246.09 L205,245.05 L205.71,245.59 L206.43,246.16 L207.14,245.81 L207.86,245.86 L208.57,246.25 L209.29,245.58 L210,245.39 L210.71,245.89 L211.42,245.94 L212.12,245.95 L212.83,245.66 L213.54,246.45 L214.25,245.81 L214.96,246.15 L215.67,246.62 L216.38,246.07 L217.08,245.35 L217.79,245.32 L218.5,245.08 L219.3,249.11 L220,253.77 L220.8,247.39 L221.8,243.81 L222.8,240.25 L223.64,240.25 L224.48,240.02 L225.32,239.71 L226.16,238.86 L227,238.73 L227.72,238.35 L228.44,237.37 L229.15,237.42 L229.87,236.9 L230.59,237.04 L231.31,237 L232.03,236.05 L232.75,235.77 L233.46,235.49 L234.18,234.96 L234.9,234.17 L235.63,233.42 L236.36,234.19 L237.09,233.78 L237.81,232.82 L238.54,232.44 L239.27,231.34 L240,231.22 L240.73,231.44 L241.45,231.06 L242.18,230.25 L242.91,230.51 L243.64,230.32 L244.36,228.76 L245.09,228.47 L245.82,228.21 L246.55,227.65 L247.27,227.74 L248,226.87 L248.71,227.62 L249.41,228.12 L250.12,227.16 L250.82,227.76 L251.53,227.39 L252.24,227.84 L252.94,228.13 L253.65,228.71 L254.35,228.71 L255.06,228.06 L255.76,228.42 L256.47,227.73 L257.18,228.33 L257.88,228.17 L258.59,227.91 L259.29,227.8 L260,227.76 L260.71,228.64 L261.43,227.97 L262.14,227.94 L262.86,227.89 L263.57,227.85 L264.29,228.73 L265,228.89 L265.71,229.1 L266.43,229.57 L267.14,229.11 L267.86,228.34 L268.57,228.29 L269.29,228.79 L270,229.32 L270.71,229.87 L271.43,229.5 L272.14,228.96 L272.86,229.32 L273.57,230.01 L274.29,229.41 L275,230.1 L275.71,230.37 L276.43,230.01 L277.14,229.76 L277.86,229.16 L278.57,228.92 L279.29,228.75 L280,229.57 L280.73,230.07 L281.45,230.72 L282.18,230.42 L282.91,230.92 L283.64,230.26 L284.36,229.61 L285.09,229.27 L285.82,229.51 L286.55,229.99 L287.27,230.9 L288,230.25 L288.73,229.93 L289.45,230.56 L290.18,230.34 L290.91,230.53 L291.64,230.02 L292.36,230.9 L293.09,231.38 L293.82,231.35 L294.55,231.64 L295.27,230.87 L296,230.15 L296.7,230.35 L297.4,231.38 L298.1,231.2 L298.8,230.79 L299.5,230.61 L300.33,230.76 L301.17,231.36 L302,232.48 L302.75,233.52 L303.5,234.19 L304.25,234.91 L305,234.8 L305.75,235.04 L306.5,234.12 L307.25,234.03 L308,233.07 L308.7,234.14 L309.4,233.44 L310.1,233.88 L310.8,234.19 L311.5,234.31 L312.33,234.6 L313.17,234.36 L314,235.02 L314.77,235.93 L315.53,236.11 L316.3,237.02 L317.04,236.47 L317.78,234.75 L318.52,234.67 L319.26,233.46 L320,233.52 L320.8,233.01 L321.6,233.36 L322.4,232.1 L323.2,232.77 L324,231.5 L324.79,231.09 L325.57,230.82 L326.36,230.87 L327.14,232.16 L327.93,232.42 L328.71,232.62 L329.5,231.7" fill="none" stroke="#1f8a6c" stroke-width="1.2" stroke-linejoin="round" />
<path d="M19,246.97 L19.73,247.29 L20.45,247.93 L21.18,247.79 L21.91,247.51 L22.64,247.18 L23.36,246.84 L24.09,247.83 L24.82,247.91 L25.55,247.3 L26.27,247.51 L27,247.75 L27.73,248.11 L28.45,247.45 L29.18,247.24 L29.91,247 L30.64,247.43 L31.36,248.05 L32.09,248.06 L32.82,247.29 L33.55,247.3 L34.27,246.93 L35,246.9 L35.75,247.28 L36.5,246.98 L37.25,247 L38,246.96 L38.75,247.16 L39.5,247.79 L40.25,247.22 L41,247.46 L41.75,247.27 L42.5,247.04 L43.25,246.94 L44,247.51 L44.8,248.56 L45.6,249.28 L46.4,250.21 L47.6,255.58 L49,259.87 L49.8,259.84 L50.6,260.44 L51.4,260.92 L52.2,261.52 L53,262.1 L53.73,262.22 L54.47,262.6 L55.2,262.45 L55.93,262.49 L56.67,262.75 L57.4,262.56 L58.13,262.97 L58.87,263.32 L59.6,263.09 L60.33,263.33 L61.07,263.84 L61.8,264.72 L62.53,265.38 L63.27,265.92 L64,266.37 L64.8,267.76 L65.6,268.84 L66.4,270.2 L67.2,271.38 L68,271.22 L68.75,271.63 L69.5,272.47 L70.25,272.76 L71,273.21 L71.8,272.65 L72.6,272.52 L73.4,273.01 L74.2,272.89 L75,273.04 L75.71,272.84 L76.43,272.54 L77.14,272.13 L77.86,271.81 L78.57,271.44 L79.29,271.12 L80,270.1 L80.71,269.47 L81.43,269.04 L82.14,269.07 L82.86,269.14 L83.57,268.55 L84.29,267.78 L85,266.8 L85.73,266.29 L86.45,265.79 L87.18,265.5 L87.91,264.99 L88.64,265.1 L89.36,264.82 L90.09,265.35 L90.82,264.32 L91.55,263.63 L92.27,264.2 L93,264.25 L93.83,263.55 L94.65,263.11 L95.47,262.48 L96.3,262.11 L97.03,263.01 L97.77,263.77 L98.5,265.85 L99.5,267.72 L100.5,269.42 L101.6,270.83 L102.4,272.41 L103.4,268.07 L104.6,265.07 L105.4,264.14 L106.2,264.26 L107,263.53 L108,263.63 L109,263.11 L109.7,261.29 L110.4,260.42 L111.2,259.01 L111.96,258.21 L112.72,258.76 L113.48,258.99 L114.24,258.26 L115,258.5 L115.71,258.12 L116.43,257.6 L117.14,257.95 L117.86,257.67 L118.57,258.43 L119.29,258.59 L120,258.04 L120.71,258.03 L121.43,257.59 L122.14,257.78 L122.86,258.18 L123.57,258.63 L124.29,258.98 L125,258.2" fill="none" stroke="#259c5e" stroke-width="1.2" stroke-linejoin="round" />
<path d="M130.5,257.72 L131.28,258.76 L132.05,259.46 L132.82,259.3 L133.6,259.29 L134.38,259.39 L135.15,259.48 L135.92,259.89 L136.7,260.25 L137.5,261.52 L138.3,261.42 L139.1,261.63 L139.9,262.92 L140.7,263.68 L141.5,263.05 L142.3,263.27 L143.1,264.4 L143.9,264.26 L144.7,264.69 L145.44,264.98 L146.18,265.14 L146.92,264.53 L147.66,265.25 L148.4,265.75 L149.27,264.98 L150.13,264.28 L151,264.23 L151.8,264.3 L152.6,264.02 L153.4,262.68 L154.2,262.62 L154.9,261.74 L155.6,261.63 L156.3,261.16 L157,259.93 L157.75,259.66 L158.5,259.16 L159.25,257.6 L160,257 L160.71,257.36 L161.43,256.37 L162.14,256.03 L162.86,255.94 L163.57,255.34 L164.29,255.45 L165,254.51 L165.76,254.64 L166.51,254.53 L167.27,253.7 L168.03,254.26 L168.79,254.38 L169.54,254.4 L170.3,253.45 L171.04,253.52 L171.78,253.02 L172.52,253.54 L173.26,253.56 L174,253.89 L174.72,253.46 L175.44,253.68 L176.16,253.78 L176.88,255.17 L177.6,255.59 L178.45,255.23 L179.3,256.02 L180.15,256.12 L181,256.27 L181.8,256.97 L182.6,257.33 L183.4,257.3 L184.2,257.19 L184.9,257.42 L185.6,257.66 L186.3,257.65 L187,257.77 L187.75,258.58 L188.5,259.64 L189.25,259.78 L190,259.81 L190.71,259.38 L191.43,260.49 L192.14,260.26 L192.86,260.26 L193.57,260.92 L194.29,261.52 L195,260.87 L195.71,260.67 L196.43,260.9 L197.14,262.12 L197.86,262.09 L198.57,261.67 L199.29,262.32 L200,262.51 L200.71,262.14 L201.43,262.03 L202.14,262.48 L202.86,263.52 L203.57,263.32 L204.29,264.07 L205,263.66 L205.71,263.51 L206.43,263.26 L207.14,263.9 L207.86,263.67 L208.57,264.69 L209.29,264.77 L210,264.1 L210.71,264.65 L211.42,264.73 L212.12,265.06 L212.83,265.18 L213.54,264.64 L214.25,264.95 L214.96,265.34 L215.67,264.83 L216.38,265.71 L217.08,265.91 L217.79,265.36 L218.5,265.05 L219.3,271.61 L220,279.01 L220.8,270.17 L221.8,264.67 L222.8,260.15 L223.64,259.71 L224.48,258.71 L225.32,258.42 L226.16,258.15 L227,257.84 L227.72,256.77 L228.44,256.07 L229.15,256.4 L229.87,256.67 L230.59,256.01 L231.31,255.96 L232.03,255.05 L232.75,254.19 L233.46,254.28 L234.18,253.6 L234.9,253.86 L235.63,253.46 L236.36,252.1 L237.09,251.6 L237.81,251.72 L238.54,250.51 L239.27,249.94 L240,249.18 L240.73,249.71 L241.45,250.16 L242.18,249.87 L242.91,249.87 L243.64,248.85 L244.36,249.1 L245.09,249.32 L245.82,249.06 L246.55,248.05 L247.27,247.62 L248,248.16 L248.71,248.2 L249.41,247.89 L250.12,247.61 L250.82,247.25 L251.53,248.1 L252.24,248.24 L252.94,247.75 L253.65,247.57 L254.35,248.66 L255.06,249.04 L255.76,248.05 L256.47,247.9 L257.18,248.8 L257.88,248.64 L258.59,249.15 L259.29,248.91 L260,248.71 L260.71,249.42 L261.43,248.91 L262.14,249.56 L262.86,249.64 L263.57,248.87 L264.29,249.65 L265,250.02 L265.71,249.13 L266.43,249.35 L267.14,249.42 L267.86,249.18 L268.57,249.75 L269.29,250.26 L270,250.44 L270.71,250.46 L271.43,250 L272.14,250.15 L272.86,250.53 L273.57,250.02 L274.29,250.42 L275,250.2 L275.71,250.76 L276.43,250.31 L277.14,250.41 L277.86,250.37 L278.57,250 L279.29,250.33 L280,250.82 L280.73,250.93 L281.45,251.42 L282.18,251.47 L282.91,250.66 L283.64,250.87 L284.36,250.93 L285.09,250.44 L285.82,251.49 L286.55,251.56 L287.27,251.22 L288,251.52 L288.73,251.73 L289.45,252 L290.18,252.3 L290.91,252.06 L291.64,251.93 L292.36,252 L293.09,251.62 L293.82,251.25 L294.55,252.08 L295.27,252.43 L296,251.78 L296.7,251.92 L297.4,251.87 L298.1,251.74 L298.8,252.5 L299.5,252.46 L300.33,252.61 L301.17,253.39 L302,253.97 L302.75,253.97 L303.5,254.69 L304.25,254.93 L305,255.37 L305.75,254.75 L306.5,254.2 L307.25,253.48 L308,252.65 L308.7,253.48 L309.4,253.17 L310.1,252.64 L310.8,252.6 L311.5,253.02 L312.33,252.85 L313.17,254.18 L314,254.38 L314.77,254.8 L315.53,256.78 L316.3,257.25 L317.04,257.38 L317.78,256.02 L318.52,255.23 L319.26,255.31 L320,254.36 L320.8,254.69 L321.6,254.18 L322.4,254.48 L323.2,253.73 L324,253.56 L324.79,253.15 L325.57,253.02 L326.36,253.21 L327.14,252.95 L327.93,253.22 L328.71,252.99 L329.5,253.2" fill="none" stroke="#259c5e" stroke-width="1.2" stroke-linejoin="round" />
<path d="M19,269.74 L19.73,269.5 L20.45,269.98 L21.18,269.76 L21.91,270.05 L22.64,269.71 L23.36,270.4 L24.09,270.38 L24.82,269.99 L25.55,269.61 L26.27,270.24 L27,270.56 L27.73,270.13 L28.45,269.73 L29.18,270.45 L29.91,270.66 L30.64,270.32 L31.36,269.83 L32.09,270.29 L32.82,270.69 L33.55,270.19 L34.27,270.06 L35,270.52 L35.75,270.56 L36.5,270.73 L37.25,270.5 L38,270 L38.75,270.52 L39.5,270.57 L40.25,270.64 L41,270.12 L41.75,269.88 L42.5,270.44 L43.25,270.6 L44,269.83 L44.8,270.05 L45.6,270.51 L46.4,271.54 L47.6,276.13 L49,279.86 L49.8,280.36 L50.6,281.14 L51.4,281.1 L52.2,280.82 L53,280.89 L53.73,281.09 L54.47,281.25 L55.2,281.24 L55.93,281.17 L56.67,281.45 L57.4,281.49 L58.13,281.55 L58.87,281.51 L59.6,282.03 L60.33,282.79 L61.07,282.93 L61.8,282.98 L62.53,283.56 L63.27,283.68 L64,284.03 L64.8,284.73 L65.6,286.02 L66.4,286.04 L67.2,286.84 L68,287.05 L68.75,287.46 L69.5,288.38 L70.25,288.75 L71,288.66 L71.8,288.23 L72.6,287.99 L73.4,288.12 L74.2,288.01 L75,287.73 L75.71,287.16 L76.43,287.52 L77.14,287.73 L77.86,287.61 L78.57,286.95 L79.29,286.43 L80,285.77 L80.71,286.22 L81.43,285.69 L82.14,284.96 L82.86,285.4 L83.57,285.1 L84.29,284.92 L85,284.48 L85.73,283.88 L86.45,284.1 L87.18,284 L87.91,283.61 L88.64,283.75 L89.36,282.92 L90.09,283.25 L90.82,282.87 L91.55,282.13 L92.27,282.43 L93,282.45 L93.83,282.33 L94.65,281.79 L95.47,281.64 L96.3,281.47 L97.03,282.08 L97.77,282.33 L98.5,282.43 L99.5,282.89 L100.5,283.33 L101.6,284.64 L102.4,285.25 L103.4,282.95 L104.6,280.4 L105.4,279.95 L106.2,280.36 L107,279.64 L108,278.76 L109,278.7 L109.7,278.5 L110.4,278 L111.2,277.24 L111.96,277.05 L112.72,276.81 L113.48,277.43 L114.24,277.44 L115,277.02 L115.71,277.51 L116.43,277.57 L117.14,277.82 L117.86,277.33 L118.57,277.19 L119.29,277.27 L120,277.03 L120.71,276.93 L121.43,277.52 L122.14,277.65 L122.86,277.77 L123.57,277.68 L124.29,277.54 L125,277.2" fill="none" stroke="#2eae50" stroke-width="1.2" stroke-linejoin="round" />
<path d="M130.5,277.6 L131.28,277.28 L132.05,277.21 L132.82,277.31 L133.6,278.13 L134.38,278.69 L135.15,279.19 L135.92,279.21 L136.7,279.31 L137.5,279.71 L138.3,279.91 L139.1,280.29 L139.9,280.28 L140.7,280.41 L141.5,281.43 L142.3,281.96 L143.1,282.51 L143.9,282.68 L144.7,282.78 L145.44,282.4 L146.18,283.02 L146.92,283 L147.66,283.4 L148.4,283.55 L149.27,283.13 L150.13,282.55 L151,282.23 L151.8,281.27 L152.6,280.8 L153.4,280.05 L154.2,279.46 L154.9,279.36 L155.6,278.95 L156.3,278.33 L157,277.68 L157.75,276.95 L158.5,277.08 L159.25,276.52 L160,276.08 L160.71,276.11 L161.43,275.5 L162.14,275.24 L162.86,274.38 L163.57,274.37 L164.29,274.32 L165,273.72 L165.76,273.65 L166.51,273.21 L167.27,273.04 L168.03,272.56 L168.79,272.1 L169.54,272.4 L170.3,272.1 L171.03,272.34 L171.76,271.85 L172.49,271.58 L173.22,271.75 L173.95,271.87 L174.68,271.39 L175.41,271.22 L176.14,271.67 L176.87,271.27 L177.6,271.22 L178.33,272.22 L179.07,272.74 L179.8,273.02 L180.53,272.64 L181.27,273.29 L182,273.07 L182.73,273.54 L183.47,273.33 L184.2,274.02 L184.92,273.68 L185.65,273.57 L186.38,273.81 L187.1,274.45 L187.82,274.32 L188.55,275 L189.28,275.57 L190,275.93 L190.71,276.09 L191.43,276.04 L192.14,275.9 L192.86,275.91 L193.57,275.7 L194.29,275.93 L195,276.13 L195.71,276.16 L196.43,276.61 L197.14,276.73 L197.86,276.35 L198.57,276.83 L199.29,276.51 L200,276.61 L200.71,276.26 L201.43,276.74 L202.14,276.34 L202.86,276.31 L203.57,277.05 L204.29,277.43 L205,277.22 L205.71,277.44 L206.43,277.26 L207.14,276.76 L207.86,276.71 L208.57,277.19 L209.29,277.6 L210,277.49 L210.71,277.9 L211.42,278.06 L212.12,277.24 L212.83,277 L213.54,277.49 L214.25,277.98 L214.96,277.83 L215.67,277.96 L216.38,277.87 L217.08,277.9 L217.79,277.35 L218.5,277.91 L219.3,282.41 L220,288.02 L220.8,281.67 L221.8,278.75 L222.8,275.32 L223.64,275.21 L224.48,274.41 L225.32,274.65 L226.16,274.77 L227,273.92 L227.72,273.42 L228.44,273.83 L229.15,273.98 L229.87,273.28 L230.59,273.48 L231.31,273.37 L232.03,272.58 L232.75,272.69 L233.46,273 L234.18,272.42 L234.9,271.73 L235.63,271.32 L236.36,271.67 L237.09,272.01 L237.81,271.26 L238.54,271.3 L239.27,271.07 L240,270.79 L240.73,270.87 L241.45,270.62 L242.18,270.41 L242.91,270.39 L243.64,270.63 L244.36,270.55 L245.09,270.15 L245.82,270.01 L246.55,269.64 L247.27,270.21 L248,270 L248.71,269.66 L249.41,270.34 L250.12,270.3 L250.82,270.51 L251.53,270.19 L252.24,269.9 L252.94,269.8 L253.65,270.18 L254.35,270.66 L255.06,270.21 L255.76,270.24 L256.47,270.26 L257.18,270.4 L257.88,270.68 L258.59,270.62 L259.29,269.99 L260,270.43 L260.71,270.39 L261.43,270.86 L262.14,270.97 L262.86,270.98 L263.57,271.22 L264.29,271.2 L265,270.59 L265.71,271.08 L266.43,270.94 L267.14,270.84 L267.86,270.61 L268.57,271.03 L269.29,270.99 L270,270.98 L270.71,270.94 L271.43,271.35 L272.14,271.14 L272.86,271.17 L273.57,270.55 L274.29,270.33 L275,270.61 L275.71,271.16 L276.43,271.39 L277.14,271.23 L277.86,271 L278.57,271.21 L279.29,271.64 L280,271.2 L280.73,271.42 L281.45,270.92 L282.18,271.17 L282.91,271.01 L283.64,271.74 L284.36,271.61 L285.09,271.79 L285.82,272.03 L286.55,271.76 L287.27,271.73 L288,271.74 L288.73,271.95 L289.45,272.16 L290.18,271.97 L290.91,271.85 L291.64,271.56 L292.36,272 L293.09,272.37 L293.82,272.34 L294.55,271.83 L295.27,272.42 L296,272.24 L296.7,272.53 L297.4,271.95 L298.1,272.18 L298.8,271.87 L299.5,272.21 L300.33,271.95 L301.17,272.57 L302,272.55 L302.75,273.37 L303.5,273.46 L304.25,274.03 L305,274.19 L305.75,273.71 L306.5,273.32 L307.25,273.28 L308,272.52 L308.7,273.16 L309.4,273.09 L310.1,273.04 L310.8,272.83 L311.5,273.25 L312.33,273.46 L313.17,273.33 L314,273.64 L314.77,273.92 L315.53,274.79 L316.3,274.97 L317.04,274.75 L317.78,274.86 L318.52,274.47 L319.26,274.05 L320,274.09 L320.73,273.75 L321.46,273.35 L322.19,273.79 L322.92,273.92 L323.65,273.37 L324.38,273.08 L325.12,273.68 L325.85,273.54 L326.58,272.88 L327.31,272.72 L328.04,273.25 L328.77,272.66 L329.5,273" fill="none" stroke="#2eae50" stroke-width="1.2" stroke-linejoin="round" />
<path d="M19,286.63 L19.73,286.94 L20.45,286.9 L21.18,287.35 L21.91,287.27 L22.64,287.16 L23.36,287.49 L24.09,287.05 L24.82,287.38 L25.55,287.13 L26.27,287.27 L27,287.59 L27.73,287.58 L28.45,287.4 L29.18,287.52 L29.91,286.86 L30.64,286.97 L31.36,287.41 L32.09,287.49 L32.82,287.26 L33.55,286.97 L34.27,286.97 L35,287.05 L35.75,286.78 L36.5,287.4 L37.25,287.38 L38,287.25 L38.75,286.88 L39.5,286.84 L40.25,286.9 L41,286.68 L41.75,286.74 L42.5,286.79 L43.25,287.13 L44,287.41 L44.8,286.99 L45.6,287.1 L46.4,287.94 L47.6,292.02 L49,295.63 L49.8,296.11 L50.6,296.39 L51.4,296.34 L52.2,296.93 L53,297.24 L53.73,296.74 L54.47,297.23 L55.2,297.18 L55.93,297.31 L56.67,297.5 L57.4,297.69 L58.13,297.96 L58.87,297.56 L59.6,297.46 L60.33,297.82 L61.07,298.19 L61.8,299.13 L62.53,299.82 L63.27,299.9 L64,300.48 L64.8,301.13 L65.6,301.76 L66.4,302.23 L67.2,302.54 L68,303.17 L68.75,302.99 L69.5,303.28 L70.25,303.23 L71,303.44 L71.8,303.33 L72.6,303.33 L73.4,302.82 L74.2,302.95 L75,303 L75.71,303.18 L76.43,302.92 L77.14,302.16 L77.86,301.93 L78.57,302.01 L79.29,301.29 L80,301.55 L80.71,300.77 L81.43,300.88 L82.14,300.67 L82.86,300.79 L83.57,300.16 L84.29,299.7 L85,299.25 L85.73,299.07 L86.45,298.92 L87.18,298.98 L87.91,298.62 L88.64,298.27 L89.36,298.63 L90.09,297.95 L90.82,298.36 L91.55,297.78 L92.27,297.89 L93,297.79 L93.83,297.85 L94.65,297.6 L95.47,296.71 L96.3,296.93 L97.03,297.74 L97.77,298.18 L98.5,298.4 L99.5,298.57 L100.5,299.04 L101.6,299.95 L102.4,300.82 L103.4,298.5 L104.6,296.13 L105.4,296.13 L106.2,295.81 L107,295.66 L108,295.08 L109,294.35 L109.7,293.2 L110.4,293.02 L111.2,292.78 L112,292.72 L112.72,292.3 L113.44,292.03 L114.17,291.84 L114.89,292.11 L115.61,291.96 L116.33,292.45 L117.06,292.47 L117.78,292.29 L118.5,292.18 L119.22,291.91 L119.94,291.83 L120.67,292.48 L121.39,292.09 L122.11,292.26 L122.83,292.36 L123.56,292.55 L124.28,292.1 L125,292.3" fill="none" stroke="#34b648" stroke-width="1.2" stroke-linejoin="round" />
<path d="M130.5,292.81 L131.28,293.07 L132.05,293.01 L132.82,293.66 L133.6,293.84 L134.38,294.05 L135.15,293.96 L135.92,294.37 L136.7,294.55 L137.43,294.66 L138.15,294.41 L138.88,294.76 L139.61,295.51 L140.34,295.58 L141.06,295.59 L141.79,295.96 L142.52,295.81 L143.25,296.06 L143.97,296.71 L144.7,296.83 L145.44,296.77 L146.18,297.31 L146.92,297.16 L147.66,297.07 L148.4,296.73 L149.27,296.34 L150.13,295.67 L151,294.79 L151.8,294.76 L152.6,294.13 L153.4,293.48 L154.2,293.18 L154.92,292.54 L155.65,292.63 L156.38,292.21 L157.1,291.58 L157.82,291.21 L158.55,291.34 L159.28,290.87 L160,289.97 L160.71,290.27 L161.43,289.87 L162.14,289.48 L162.86,289.36 L163.57,288.93 L164.29,289.04 L165,288.92 L165.76,288.7 L166.51,288.56 L167.27,288.3 L168.03,288.45 L168.79,288.57 L169.54,287.85 L170.3,288.01 L171.03,288.34 L171.76,288.67 L172.49,288.65 L173.22,288.84 L173.95,288.66 L174.68,288.82 L175.41,288.82 L176.14,288.42 L176.87,288.71 L177.6,288.78 L178.33,288.81 L179.07,288.63 L179.8,289.25 L180.53,289.45 L181.27,289.58 L182,289.2 L182.73,289.06 L183.47,289.08 L184.2,289.33 L184.92,289.55 L185.65,290.12 L186.38,290.16 L187.1,290.83 L187.82,290.37 L188.55,290.61 L189.28,291.26 L190,291.31 L190.75,291.54 L191.49,291.87 L192.24,291.89 L192.98,291.57 L193.73,291.41 L194.48,292.27 L195.22,292.19 L195.97,292.33 L196.72,292.1 L197.46,292.45 L198.21,292.54 L198.95,292.49 L199.7,293.01 L200.44,293.13 L201.17,293.09 L201.91,293.26 L202.64,293.42 L203.38,293.36 L204.11,292.62 L204.85,292.7 L205.59,292.85 L206.32,293.08 L207.06,292.84 L207.79,292.64 L208.53,292.4 L209.26,292.22 L210,292.67 L210.72,292.08 L211.44,292.45 L212.16,292.78 L212.88,292.04 L213.6,291.83 L214.32,291.79 L215.04,292.23 L215.76,292.36 L216.48,292.47 L217.2,292.2 L217.9,292.59 L218.6,293.05 L219.4,296.07 L220,298.74 L220.7,294.91 L221.4,293.99 L222.1,292.18 L222.8,291.37 L223.64,291 L224.48,290.39 L225.32,290.13 L226.16,290.47 L227,290.75 L227.77,290.06 L228.54,289.66 L229.31,289.71 L230.08,290.07 L230.85,289.62 L231.62,289.56 L232.39,289.35 L233.16,288.96 L233.93,288.83 L234.7,288.93 L235.43,289.03 L236.17,288.99 L236.9,288.79 L237.63,288.78 L238.37,288.35 L239.1,288.08 L239.83,287.89 L240.57,287.31 L241.3,287.55 L242.03,286.72 L242.77,286.94 L243.5,286.49 L244.22,286.23 L244.93,286.26 L245.65,286.48 L246.37,286.23 L247.09,286.07 L247.8,286.19 L248.52,286.89 L249.24,287.01 L249.96,286.71 L250.67,286.93 L251.39,286.6 L252.11,286.41 L252.83,286.64 L253.54,286.67 L254.26,287.26 L254.98,286.73 L255.7,287.14 L256.41,286.72 L257.13,287.34 L257.85,287.43 L258.57,287.68 L259.28,287.52 L260,287 L260.71,287.56 L261.43,287.81 L262.14,287.72 L262.86,287.73 L263.57,287.73 L264.29,287.52 L265,287.32 L265.71,287.25 L266.43,287.53 L267.14,287.42 L267.86,287.71 L268.57,287.53 L269.29,287.3 L270,287.93 L270.71,288 L271.43,287.99 L272.14,288.16 L272.86,288.46 L273.57,288.26 L274.29,287.99 L275,288.51 L275.71,287.94 L276.43,288.09 L277.14,288.3 L277.86,288.04 L278.57,288.04 L279.29,288.68 L280,288.9 L280.73,288.37 L281.46,288.72 L282.18,289.04 L282.91,288.9 L283.64,289.1 L284.37,288.59 L285.1,288.54 L285.82,288.37 L286.55,288.68 L287.28,289 L288.01,288.84 L288.74,288.8 L289.46,289.16 L290.19,289.48 L290.92,289.63 L291.65,289.42 L292.38,288.96 L293.1,289.18 L293.83,288.99 L294.56,289.55 L295.29,289.18 L296.02,289.76 L296.74,289.31 L297.47,289.42 L298.2,289.7 L299.1,289.07 L300,288.2 L301,288.17 L302,288.7 L302.75,289.75 L303.5,290.4 L304.25,291.56 L305,292.17 L305.75,291.33 L306.5,290.25 L307.25,289.52 L308,288.99 L308.75,289.29 L309.5,289.25 L310.25,288.64 L311,288.03 L311.75,288.33 L312.5,289.01 L313.25,289.6 L314,289.82 L314.8,291.15 L315.6,291.99 L316.4,292.74 L317.12,292.21 L317.84,292.28 L318.56,292.13 L319.28,292.04 L320,291.27 L320.73,291 L321.46,291.4 L322.19,291.02 L322.92,290.94 L323.65,291.17 L324.38,290.73 L325.12,290.73 L325.85,290.48 L326.58,291.15 L327.31,291.07 L328.04,291.25 L328.77,290.78 L329.5,290.8" fill="none" stroke="#34b648" stroke-width="1.2" stroke-linejoin="round" />
<path d="M19,303.2 L19.73,302.73 L20.45,302.8 L21.18,302.49 L21.91,302.28 L22.64,302.31 L23.36,302.76 L24.09,302.6 L24.82,302.92 L25.55,303.09 L26.27,303.02 L27,302.56 L27.73,302.43 L28.45,302.54 L29.18,302.66 L29.91,303.2 L30.64,303.25 L31.36,303.02 L32.09,302.69 L32.82,302.77 L33.55,303.28 L34.27,303.42 L35,303.01 L35.75,302.83 L36.5,302.77 L37.25,303.03 L38,303.27 L38.75,302.78 L39.5,302.9 L40.25,302.44 L41,302.74 L41.75,302.41 L42.5,302.73 L43.25,302.56 L44,302.94 L44.8,302.88 L45.6,303.26 L46.4,303.34 L47.6,307.51 L49,311.24 L49.8,311.21 L50.6,311.08 L51.4,311.03 L52.2,311.52 L53,311.69 L53.73,311.8 L54.47,312.34 L55.2,312.57 L55.93,312.87 L56.67,312.57 L57.4,312.87 L58.13,312.69 L58.87,312.89 L59.6,312.87 L60.33,313.52 L61.07,314.18 L61.8,314.12 L62.53,314.73 L63.27,315.48 L64,315.71 L64.8,315.84 L65.6,316.76 L66.4,317.29 L67.2,317.86 L68,317.97 L68.75,317.93 L69.5,317.99 L70.25,318.55 L71,319.18 L71.8,319.12 L72.6,318.61 L73.4,318.38 L74.2,317.97 L75,317.7 L75.71,318.15 L76.43,317.93 L77.14,317.35 L77.86,316.93 L78.57,317.04 L79.29,317.15 L80,316.82 L80.71,316.44 L81.43,316.19 L82.14,316.23 L82.86,315.92 L83.57,315.23 L84.29,314.61 L85,315.04 L85.71,314.26 L86.43,314.2 L87.14,314.05 L87.86,314.08 L88.57,313.85 L89.29,313.24 L90,313.25 L90.79,312.61 L91.58,312.87 L92.36,313.2 L93.15,313.18 L93.94,312.99 L94.72,312.67 L95.51,312.7 L96.3,312.68 L97.03,313.12 L97.77,313.56 L98.5,313.76 L99.5,313.66 L100.5,314.18 L101.45,314.67 L102.4,314.63 L103.4,313.46 L104.6,311.27 L105.4,311.22 L106.2,310.55 L107,310.53 L107.85,309.79 L108.7,309.3 L109.55,308.94 L110.4,308.7 L111.2,308.28 L112,307.83 L112.72,308.51 L113.44,308.34 L114.17,308.17 L114.89,307.91 L115.61,307.81 L116.33,307.81 L117.06,308.28 L117.78,308.39 L118.5,308.58 L119.22,308.39 L119.94,308.27 L120.67,308 L121.39,308.26 L122.11,308.05 L122.83,308.3 L123.56,308.1 L124.28,308.26 L125,308.1" fill="none" stroke="#3bbf42" stroke-width="1.2" stroke-linejoin="round" />
<path d="M130.5,308.18 L131.28,308.57 L132.05,308.38 L132.82,308.97 L133.6,309.32 L134.38,309.64 L135.15,309.58 L135.92,309.4 L136.7,309.88 L137.43,309.64 L138.15,310.09 L138.88,310.07 L139.61,310.81 L140.34,311.07 L141.06,311.53 L141.79,311.3 L142.52,311.91 L143.25,312.37 L143.97,312.12 L144.7,312.16 L145.44,312.1 L146.18,312.28 L146.92,312.81 L147.66,312.49 L148.4,313.15 L149.27,312.36 L150.13,311.55 L151,310.82 L151.8,310.21 L152.6,310.03 L153.4,309.28 L154.2,309.21 L154.92,308.86 L155.65,308.41 L156.38,308.38 L157.1,308.34 L157.82,308.38 L158.55,307.57 L159.28,307.46 L160,306.95 L160.71,307.29 L161.43,306.6 L162.14,306.44 L162.86,306.39 L163.57,306.33 L164.29,305.8 L165,305.94 L165.76,305.44 L166.51,305.63 L167.27,305.08 L168.03,304.78 L168.79,304.84 L169.54,304.63 L170.3,304.32 L171.04,304.49 L171.79,304.61 L172.53,303.97 L173.28,303.82 L174.02,303.85 L174.77,304.42 L175.51,304.29 L176.26,303.81 L177,304.08 L177.75,304.19 L178.5,304.5 L179.25,305.53 L180,305.67 L180.75,305.8 L181.5,306.06 L182.4,306.33 L183.3,306.49 L184.2,306.38 L184.92,306.35 L185.65,306.52 L186.38,307.08 L187.1,306.87 L187.82,306.79 L188.55,306.8 L189.28,306.71 L190,307.05 L190.75,307.41 L191.49,307.68 L192.24,307.39 L192.98,307.54 L193.73,308.07 L194.48,307.92 L195.22,307.67 L195.97,307.52 L196.72,308.14 L197.46,308.28 L198.21,307.89 L198.95,308.27 L199.7,307.96 L200.44,308.02 L201.17,308.1 L201.91,307.97 L202.64,307.96 L203.38,307.47 L204.11,307.25 L204.85,307.22 L205.59,307.57 L206.32,307.4 L207.06,307.52 L207.79,307.45 L208.53,307.45 L209.26,307.56 L210,307.23 L210.7,306.88 L211.4,306.58 L212.1,306.77 L212.8,306.37 L213.5,306.84 L214.2,306.97 L214.9,306.72 L215.6,306.83 L216.3,306.44 L217,306.64 L217.8,307.21 L218.6,307.8 L219.4,311.42 L220,315.28 L220.7,310.57 L221.4,308.77 L222.1,307.27 L222.8,305.47 L223.64,305.7 L224.48,305.34 L225.32,305.15 L226.16,304.9 L227,305.13 L227.77,305.11 L228.54,305.24 L229.31,304.72 L230.08,305.34 L230.85,304.68 L231.62,304.98 L232.39,305.2 L233.16,305.23 L233.93,304.94 L234.7,304.87 L235.43,304.93 L236.17,304.34 L236.9,304.03 L237.63,304 L238.37,303.66 L239.1,303.26 L239.83,303.75 L240.57,303.31 L241.3,303.47 L242.03,303.1 L242.77,303 L243.5,303.23 L244.22,303.14 L244.93,303.24 L245.65,303.35 L246.37,302.99 L247.09,302.7 L247.8,302.74 L248.52,302.74 L249.24,302.5 L249.96,302.7 L250.67,303.05 L251.39,303.22 L252.11,302.91 L252.83,303.14 L253.54,303.13 L254.26,303.3 L254.98,302.87 L255.7,303.53 L256.41,303.2 L257.13,303.76 L257.85,303.59 L258.57,303.1 L259.28,303.24 L260,303.26 L260.71,303.79 L261.43,303.32 L262.14,303.31 L262.86,303.79 L263.57,303.94 L264.29,303.38 L265,303.88 L265.71,303.59 L266.43,303.84 L267.14,303.44 L267.86,303.32 L268.57,303.91 L269.29,304.08 L270,304.39 L270.71,304.05 L271.43,304.34 L272.14,304.1 L272.86,304.33 L273.57,304.22 L274.29,303.86 L275,303.92 L275.71,304.46 L276.43,304.36 L277.14,304.55 L277.86,304.54 L278.57,304.35 L279.29,304.12 L280,303.96 L280.72,304.21 L281.44,303.91 L282.16,303.98 L282.88,304.23 L283.6,303.95 L284.32,304.24 L285.04,304.49 L285.76,304.57 L286.48,304.33 L287.2,304.48 L287.92,304.53 L288.64,304.95 L289.36,304.6 L290.08,304.94 L290.8,304.74 L291.52,305.11 L292.24,305.22 L292.96,305.04 L293.68,304.58 L294.4,304.6 L295.12,305.17 L295.84,304.86 L296.56,304.52 L297.28,304.44 L298,305.11 L299,304.55 L300,304.41 L301,304.68 L302,305.07 L302.75,306.05 L303.5,306.63 L304.25,307.36 L305,307.65 L305.75,306.99 L306.5,306.78 L307.25,306.14 L308,305.3 L308.75,305.4 L309.5,305.47 L310.25,304.67 L311,304.28 L311.75,304.36 L312.5,305.13 L313.25,305.05 L314,305.75 L314.8,306.35 L315.6,306.44 L316.4,307.27 L317.12,307.16 L317.84,306.99 L318.56,306.85 L319.28,306.44 L320,306.32 L320.73,306.02 L321.46,305.93 L322.19,306.16 L322.92,305.82 L323.65,306.42 L324.38,306.12 L325.12,306.16 L325.85,306.31 L326.58,306.65 L327.31,306.34 L328.04,306.01 L328.77,305.88 L329.5,306.1" fill="none" stroke="#3bbf42" stroke-width="1.2" stroke-linejoin="round" />
<path d="M19,317.44 L19.73,317.46 L20.45,317.45 L21.18,317.37 L21.91,317.61 L22.64,317.15 L23.36,317.1 L24.09,317.34 L24.82,317.08 L25.55,317.38 L26.27,317.28 L27,317.63 L27.73,317.32 L28.45,317.65 L29.18,317.87 L29.91,317.44 L30.64,317.25 L31.36,317 L32.09,317.11 L32.82,317.13 L33.55,317.36 L34.27,317.83 L35,317.47 L35.75,317.65 L36.5,317.42 L37.25,317.3 L38,317.16 L38.75,317.58 L39.5,317.84 L40.25,317.34 L41,317.52 L41.75,317.59 L42.5,317.58 L43.25,317.33 L44,317 L44.8,317.49 L45.6,317.57 L46.4,317.64 L47.6,322.21 L49,325.61 L49.8,325.7 L50.6,325.89 L51.4,326.62 L52.2,326.62 L53,326.76 L53.73,327.06 L54.47,326.87 L55.2,326.65 L55.93,326.79 L56.67,326.74 L57.4,327.31 L58.13,327.65 L58.87,327.52 L59.6,327.24 L60.33,327.56 L61.07,327.97 L61.8,328.45 L62.53,329.17 L63.27,329.31 L64,329.97 L64.8,330.53 L65.6,330.89 L66.4,331.39 L67.2,332.26 L68,332.95 L68.75,332.78 L69.5,333.03 L70.25,333.52 L71,333.53 L71.8,333.6 L72.6,333.66 L73.4,333.25 L74.2,332.78 L75,332.42 L75.71,332.56 L76.43,332.76 L77.14,332.41 L77.86,331.92 L78.57,331.38 L79.29,331.56 L80,330.95 L80.71,331 L81.43,330.97 L82.14,330.68 L82.86,330.64 L83.57,329.87 L84.29,329.44 L85,329.82 L85.71,329.41 L86.43,328.89 L87.14,328.89 L87.86,328.8 L88.57,328.18 L89.29,327.65 L90,327.28 L90.79,327.47 L91.58,327.66 L92.36,327.15 L93.15,327.1 L93.94,326.69 L94.72,326.55 L95.51,326.54 L96.3,326.52 L97.03,326.69 L97.77,327.68 L98.5,328.37 L99.5,328.95 L100.5,329.72 L101.45,330.16 L102.4,330.52 L103.4,328.14 L104.6,325.88 L105.4,325.47 L106.2,325.3 L107,324.91 L107.85,324.63 L108.7,324.21 L109.55,324.12 L110.4,323.73 L111.2,323.52 L112,323.01 L112.72,323.29 L113.44,322.9 L114.17,323.37 L114.89,323.07 L115.61,323.3 L116.33,323.48 L117.06,322.89 L117.78,322.69 L118.5,322.88 L119.22,323.15 L119.94,322.84 L120.67,323.21 L121.39,322.94 L122.11,322.95 L122.83,323.06 L123.56,322.75 L124.28,322.68 L125,323" fill="none" stroke="#43c73b" stroke-width="1.2" stroke-linejoin="round" />
<path d="M130.5,323.06 L131.28,323.23 L132.05,323.34 L132.82,323.76 L133.6,323.77 L134.38,323.66 L135.15,324.12 L135.92,323.95 L136.7,324.75 L137.43,325.04 L138.15,324.79 L138.88,324.97 L139.61,325.83 L140.34,326.19 L141.06,326.36 L141.79,326.42 L142.52,326.94 L143.25,327.28 L143.97,327.02 L144.7,327.63 L145.44,327.4 L146.18,327.73 L146.92,327.31 L147.66,327.77 L148.4,327.49 L149.27,327.36 L150.13,327.02 L151,326.19 L151.8,325.46 L152.6,324.99 L153.4,325.07 L154.2,324.71 L154.92,324.54 L155.65,324.39 L156.38,323.74 L157.1,323.64 L157.82,323 L158.55,322.98 L159.28,322.83 L160,322.22 L160.71,322.18 L161.43,322.1 L162.14,321.57 L162.86,321.26 L163.57,321.28 L164.29,321.26 L165,320.47 L165.76,319.97 L166.51,320.19 L167.27,320 L168.03,319.51 L168.79,319.91 L169.54,319.36 L170.3,319.35 L171.04,319.11 L171.79,319.64 L172.53,319.48 L173.28,319.26 L174.02,319.65 L174.77,319.42 L175.51,319.21 L176.26,319.36 L177,319.87 L177.72,319.56 L178.44,320.05 L179.16,320.07 L179.88,320.53 L180.6,320.44 L181.32,320.38 L182.04,320.75 L182.76,320.83 L183.48,320.56 L184.2,321.12 L184.92,321.47 L185.65,321.77 L186.38,322.03 L187.1,321.88 L187.82,321.71 L188.55,322.24 L189.28,322.37 L190,322.12 L190.75,322.38 L191.49,322.18 L192.24,322.58 L192.98,322.48 L193.73,322.91 L194.48,323.03 L195.22,322.72 L195.97,322.94 L196.72,323.45 L197.46,323.23 L198.21,323.73 L198.95,323.42 L199.7,323.82 L200.44,323.77 L201.17,323.49 L201.91,323.82 L202.64,323.88 L203.38,323.6 L204.11,323.67 L204.85,323.46 L205.59,323.29 L206.32,322.84 L207.06,323.4 L207.79,322.98 L208.53,323.18 L209.26,322.75 L210,323.05 L210.7,323.26 L211.4,323.03 L212.1,322.81 L212.8,322.84 L213.5,323.15 L214.2,322.92 L214.9,322.98 L215.6,323.03 L216.3,323 L217,323.11 L217.8,323.96 L218.6,324.35 L219.4,328.25 L220,332.31 L220.7,327.05 L221.4,325.12 L222.1,323.48 L222.8,321.69 L223.64,321.32 L224.48,321.06 L225.32,320.74 L226.16,321.14 L227,320.64 L227.77,320.71 L228.54,320.89 L229.31,320.68 L230.08,320.44 L230.85,320.65 L231.62,320.04 L232.39,320 L233.16,319.99 L233.93,320.28 L234.7,319.65 L235.43,319.92 L236.17,319.48 L236.9,319.78 L237.63,319.22 L238.37,319.18 L239.1,318.69 L239.83,319.09 L240.57,319.19 L241.3,318.69 L242.03,318.87 L242.77,318.5 L243.5,318.25 L244.22,318.61 L244.93,318.01 L245.65,317.79 L246.37,318.44 L247.09,318.69 L247.8,318.84 L248.52,318.85 L249.24,318.26 L249.96,318.24 L250.67,318.15 L251.39,318.6 L252.11,318.53 L252.83,318.27 L253.54,318.24 L254.26,318.65 L254.98,318.31 L255.7,318.22 L256.41,318.67 L257.13,318.76 L257.85,318.68 L258.57,318.86 L259.28,318.49 L260,318.37 L260.71,318.97 L261.43,319.27 L262.14,319.23 L262.86,319.22 L263.57,319.11 L264.29,319.44 L265,318.89 L265.71,318.66 L266.43,318.94 L267.14,318.72 L267.86,318.63 L268.57,318.82 L269.29,319.02 L270,318.97 L270.71,318.93 L271.43,319.12 L272.14,319.36 L272.86,319.52 L273.57,319.03 L274.29,319.15 L275,319.54 L275.71,319.24 L276.43,319.1 L277.14,319.1 L277.86,319.26 L278.57,319.72 L279.29,319.69 L280,319.45 L280.72,319.46 L281.44,319.75 L282.16,319.52 L282.88,319.36 L283.6,319.85 L284.32,319.46 L285.04,319.43 L285.76,319.45 L286.48,319.71 L287.2,319.54 L287.92,320.09 L288.64,319.84 L289.36,320.24 L290.08,320.22 L290.8,320.45 L291.52,320.19 L292.24,320.22 L292.96,320.06 L293.68,320.24 L294.4,320.3 L295.12,320.66 L295.84,320.76 L296.56,320.81 L297.28,320.33 L298,320.06 L299,319.75 L300,319.51 L301,320.48 L302,320.55 L302.75,320.97 L303.5,321.45 L304.25,321.8 L305,322.42 L305.75,322.53 L306.5,322.01 L307.25,321.7 L308,321.2 L308.75,320.72 L309.5,320.73 L310.25,320.49 L311,320.24 L311.75,320.38 L312.5,321.09 L313.25,321.8 L314,322.16 L314.8,322.22 L315.6,322.74 L316.4,323.48 L317.12,323.53 L317.84,322.92 L318.56,322.48 L319.28,322.47 L320,322.29 L320.73,322.32 L321.46,321.68 L322.19,322.01 L322.92,321.69 L323.65,321.79 L324.38,321.89 L325.12,321.74 L325.85,321.78 L326.58,321.85 L327.31,321.51 L328.04,321.21 L328.77,321.72 L329.5,321.5" fill="none" stroke="#43c73b" stroke-width="1.2" stroke-linejoin="round" />
<path d="M19,332.96 L19.73,333.07 L20.45,332.97 L21.18,332.94 L21.91,332.82 L22.64,333.15 L23.36,332.86 L24.09,332.62 L24.82,332.59 L25.55,332.87 L26.27,333.23 L27,333.12 L27.73,332.71 L28.45,332.71 L29.18,332.6 L29.91,332.72 L30.64,332.79 L31.36,333.26 L32.09,333.13 L32.82,333.34 L33.55,333.42 L34.27,332.94 L35,332.76 L35.75,333.28 L36.5,332.77 L37.25,332.89 L38,333.19 L38.75,332.88 L39.5,333.14 L40.25,333.33 L41,333.37 L41.75,332.95 L42.5,332.76 L43.25,332.73 L44,332.47 L44.8,332.5 L45.6,332.75 L46.4,332.9 L47.6,337.32 L49,340.68 L49.8,340.57 L50.6,340.82 L51.4,340.87 L52.2,340.91 L53,341.47 L53.73,341.46 L54.47,341.55 L55.2,341.59 L55.93,341.99 L56.67,342.36 L57.4,342.68 L58.13,342.86 L58.87,342.48 L59.6,342.69 L60.33,342.89 L61.07,343.1 L61.8,343.71 L62.53,344.54 L63.27,344.68 L64,345.1 L64.8,345.83 L65.6,345.91 L66.4,346.19 L67.2,347.27 L68,348.02 L68.75,348.08 L69.5,348.32 L70.25,348.57 L71,348.64 L71.8,348.71 L72.6,348.58 L73.4,348.6 L74.2,348.45 L75,347.74 L75.71,347.61 L76.43,347.13 L77.14,347.31 L77.86,346.74 L78.57,346.91 L79.29,346.88 L80,346.19 L80.71,345.82 L81.43,345.88 L82.14,346.12 L82.86,346.1 L83.57,345.81 L84.29,345.6 L85,345.02 L85.71,344.99 L86.43,344.68 L87.14,344.33 L87.86,344.22 L88.57,343.55 L89.29,343.37 L90,343.28 L90.79,342.89 L91.58,342.98 L92.36,343.07 L93.15,342.41 L93.94,342.03 L94.72,342.04 L95.51,341.83 L96.3,341.45 L97.03,341.97 L97.77,342.33 L98.5,343.1 L99.5,343.17 L100.5,344.09 L101.45,344.44 L102.4,345.07 L103.4,343.2 L104.6,341.52 L105.4,341.14 L106.2,340.74 L107,340.98 L107.85,340.25 L108.7,340.55 L109.55,339.98 L110.4,339.68 L111.2,339.5 L112,339.05 L112.72,339.27 L113.44,338.94 L114.17,339.15 L114.89,338.84 L115.61,338.85 L116.33,338.9 L117.06,338.61 L117.78,339.05 L118.5,339.16 L119.22,338.88 L119.94,339.07 L120.67,338.51 L121.39,338.19 L122.11,338.57 L122.83,338.38 L123.56,338.32 L124.28,338.05 L125,338.3" fill="none" stroke="#4cce34" stroke-width="1.2" stroke-linejoin="round" />
<path d="M130.5,338.61 L131.28,338.88 L132.05,338.49 L132.82,338.58 L133.6,338.74 L134.38,339.29 L135.15,339.44 L135.92,339.67 L136.7,340.02 L137.43,340.19 L138.15,340.59 L138.88,340.33 L139.61,340.76 L140.34,341.34 L141.06,341.46 L141.79,341.26 L142.52,341.89 L143.25,342.36 L143.97,342.18 L144.7,342.38 L145.44,342.38 L146.18,342.15 L146.92,342.47 L147.66,342.4 L148.4,342.31 L149.27,342.12 L150.13,341.93 L151,341.38 L151.8,341.13 L152.6,340.76 L153.4,340.26 L154.2,340.19 L154.92,339.91 L155.65,339.5 L156.38,339.02 L157.1,338.61 L157.82,338.8 L158.55,338.57 L159.28,338.04 L160,337.52 L160.71,337.49 L161.43,337.03 L162.14,336.75 L162.86,336.78 L163.57,336.35 L164.29,336.67 L165,336.17 L165.76,336.5 L166.51,336.27 L167.27,335.67 L168.03,335.84 L168.79,335.34 L169.54,335.04 L170.3,335.19 L171.04,335.35 L171.79,335.45 L172.53,335.69 L173.28,335.36 L174.02,335.42 L174.77,335.72 L175.51,335.95 L176.26,335.77 L177,335.67 L177.72,336.07 L178.44,335.55 L179.16,335.95 L179.88,336.23 L180.6,335.95 L181.32,335.74 L182.04,335.94 L182.76,336.13 L183.48,336.71 L184.2,336.64 L184.92,336.4 L185.65,336.77 L186.38,336.68 L187.1,337.11 L187.82,337.06 L188.55,337.64 L189.28,337.65 L190,337.84 L190.75,337.65 L191.49,338.04 L192.24,338.39 L192.98,338.23 L193.73,338.07 L194.48,338.58 L195.22,338.55 L195.97,339 L196.72,339.39 L197.46,339.65 L198.21,339.75 L198.95,339.8 L199.7,339.82 L200.44,339.5 L201.17,339.34 L201.91,339.33 L202.64,339.35 L203.38,339.19 L204.11,339.01 L204.85,339.01 L205.59,339.07 L206.32,339.31 L207.06,338.92 L207.79,339.13 L208.53,339.34 L209.26,339.42 L210,339.1 L210.7,338.69 L211.4,338.97 L212.1,338.91 L212.8,338.72 L213.5,338.52 L214.2,338.35 L214.9,338.06 L215.6,338.01 L216.3,338 L217,338.06 L217.8,339.03 L218.6,340.46 L219.4,344.38 L220,347.71 L220.7,342.96 L221.4,340.94 L222.1,339.53 L222.8,337.28 L223.64,337.46 L224.48,337.29 L225.32,336.68 L226.16,336.54 L227,336.79 L227.77,336.86 L228.54,336.17 L229.31,335.86 L230.08,335.72 L230.85,335.68 L231.62,336.2 L232.39,336.27 L233.16,335.96 L233.93,335.94 L234.7,335.79 L235.43,335.86 L236.17,335.96 L236.9,335.68 L237.63,335.16 L238.37,335.16 L239.1,334.76 L239.83,334.99 L240.57,335.07 L241.3,334.69 L242.03,334.76 L242.77,334.75 L243.5,334.64 L244.22,334.33 L244.93,334.48 L245.65,334.82 L246.37,334.96 L247.09,335.04 L247.8,334.54 L248.52,334.98 L249.24,334.57 L249.96,334.4 L250.67,334.88 L251.39,335.01 L252.11,334.8 L252.83,334.67 L253.54,335.12 L254.26,335 L254.98,335.2 L255.7,334.94 L256.41,335.17 L257.13,335.36 L257.85,335.33 L258.57,335.66 L259.28,335.31 L260,334.99 L260.71,335.34 L261.43,335.12 L262.14,335.09 L262.86,335.27 L263.57,335.31 L264.29,335.33 L265,335.2 L265.71,335.11 L266.43,335.72 L267.14,335.97 L267.86,335.87 L268.57,335.58 L269.29,335.93 L270,335.87 L270.71,335.65 L271.43,335.9 L272.14,336.11 L272.86,336.1 L273.57,336.26 L274.29,335.72 L275,335.66 L275.71,335.92 L276.43,335.83 L277.14,335.72 L277.86,335.71 L278.57,335.71 L279.29,336.04 L280,336.24 L280.72,336.06 L281.44,336.12 L282.16,336.14 L282.88,336.4 L283.6,336.43 L284.32,336.54 L285.04,336.34 L285.76,336.22 L286.48,336.07 L287.2,335.9 L287.92,336.14 L288.64,336.33 L289.36,336.61 L290.08,336.66 L290.8,336.49 L291.52,336.53 L292.24,336.47 L292.96,336.55 L293.68,336.74 L294.4,336.45 L295.12,336.74 L295.84,336.56 L296.56,337.01 L297.28,336.55 L298,336.61 L299,336.83 L300,336.67 L301,336.82 L302,337.55 L302.75,337.74 L303.5,338.42 L304.25,338.55 L305,338.98 L305.75,338.9 L306.5,338.23 L307.25,337.91 L308,338.19 L308.75,338.24 L309.5,337.68 L310.25,338.01 L311,337.98 L311.75,338.19 L312.5,338.03 L313.25,338.46 L314,338.96 L314.8,338.93 L315.6,339.38 L316.4,340.24 L317.12,339.76 L317.84,339.14 L318.56,339.18 L319.28,338.93 L320,338.31 L320.73,338.44 L321.46,338.73 L322.19,338.6 L322.92,338.61 L323.65,338.52 L324.38,338.33 L325.12,338.44 L325.85,338.2 L326.58,338.11 L327.31,338.13 L328.04,338.33 L328.77,338.05 L329.5,337.9" fill="none" stroke="#4cce34" stroke-width="1.2" stroke-linejoin="round" />
<path d="M19,349.34 L19.73,349.36 L20.45,349.3 L21.18,349.23 L21.91,349.66 L22.64,349.7 L23.36,349.62 L24.09,349.39 L24.82,349.74 L25.55,349.52 L26.27,349.41 L27,349.52 L27.73,349.43 L28.45,349.55 L29.18,349.64 L29.91,349.99 L30.64,349.79 L31.36,349.86 L32.09,349.59 L32.82,349.57 L33.55,349.62 L34.27,350.01 L35,349.7 L35.75,349.56 L36.5,349.59 L37.25,349.69 L38,349.75 L38.75,349.52 L39.5,349.73 L40.25,349.6 L41,349.69 L41.75,349.61 L42.5,349.49 L43.25,349.36 L44,349.26 L44.8,349.7 L45.6,349.67 L46.4,349.93 L47.6,352.45 L49,355.14 L49.8,355.33 L50.6,355.05 L51.4,355.46 L52.2,355.49 L53,355.87 L53.73,355.93 L54.47,355.68 L55.2,356.04 L55.93,356.22 L56.67,356.29 L57.4,356.02 L58.13,355.88 L58.87,356.23 L59.6,356.35 L60.33,356.5 L61.07,356.91 L61.8,357.51 L62.53,357.74 L63.27,358.23 L64,358.47 L64.8,358.58 L65.6,358.97 L66.4,359.57 L67.2,360.15 L68,360.68 L68.75,360.32 L69.5,360.71 L70.25,360.75 L71,360.97 L71.8,360.58 L72.6,360.84 L73.4,360.74 L74.2,360.88 L75,360.43 L75.71,360.39 L76.43,360.13 L77.14,359.89 L77.86,360.03 L78.57,359.63 L79.29,359.62 L80,359.17 L80.71,359.09 L81.43,359.29 L82.14,358.99 L82.86,359.01 L83.57,358.97 L84.29,358.89 L85,358.18 L85.71,358.19 L86.43,358.11 L87.14,357.52 L87.86,357.27 L88.57,357.22 L89.29,357.24 L90,356.67 L90.79,356.49 L91.58,356.64 L92.36,356.36 L93.15,356.14 L93.94,355.97 L94.72,355.74 L95.51,356.03 L96.3,355.75 L97.03,356.21 L97.77,356.59 L98.5,356.81 L99.5,356.88 L100.5,357.35 L101.45,357.75 L102.4,358.17 L103.4,356.61 L104.6,355.85 L105.4,355.44 L106.2,355.3 L107,355.38 L107.85,354.9 L108.7,354.54 L109.55,354.58 L110.4,354.4 L111.2,354.27 L112,353.82 L112.72,353.59 L113.44,353.75 L114.17,353.54 L114.89,353.93 L115.61,353.9 L116.33,353.64 L117.06,353.52 L117.78,353.8 L118.5,353.68 L119.22,353.86 L119.94,353.67 L120.67,353.52 L121.39,353.59 L122.11,353.47 L122.83,353.66 L123.56,353.85 L124.28,353.77 L125,353.6" fill="none" stroke="#5ed63c" stroke-width="1.2" stroke-linejoin="round" />
<path d="M130.5,353.79 L131.28,354.04 L132.05,353.79 L132.82,353.83 L133.6,354.03 L134.38,353.99 L135.15,354.01 L135.92,354.49 L136.7,354.5 L137.43,354.85 L138.15,355.19 L138.88,355.12 L139.61,355.37 L140.34,355.13 L141.06,355.59 L141.79,355.45 L142.52,355.89 L143.25,355.96 L143.97,356.34 L144.7,356.42 L145.44,356.3 L146.18,356.05 L146.92,355.92 L147.66,356.32 L148.4,356.36 L149.27,355.78 L150.13,355.37 L151,355.19 L151.8,354.94 L152.6,354.72 L153.4,354.49 L154.2,354.43 L154.92,353.87 L155.65,354.07 L156.38,353.93 L157.1,353.99 L157.82,353.45 L158.55,353.07 L159.28,352.99 L160,352.82 L160.71,352.89 L161.43,352.69 L162.14,352.36 L162.86,352.31 L163.57,352.61 L164.29,352.66 L165,352.43 L165.76,352.07 L166.51,351.77 L167.27,352 L168.03,351.62 L168.79,351.49 L169.54,351.56 L170.3,351.29 L171.04,351.4 L171.79,351.22 L172.53,351.32 L173.28,351.63 L174.02,351.8 L174.77,351.86 L175.51,351.79 L176.26,351.96 L177,351.51 L177.72,351.44 L178.44,351.51 L179.16,351.92 L179.88,352.12 L180.6,352.09 L181.32,352 L182.04,352 L182.76,352.38 L183.48,352.38 L184.2,352.18 L184.92,352.08 L185.65,352.14 L186.38,352.21 L187.1,352.52 L187.82,352.64 L188.55,352.99 L189.28,352.81 L190,353 L190.75,353.01 L191.49,353.51 L192.24,353.68 L192.98,353.68 L193.73,353.97 L194.48,353.73 L195.22,354 L195.97,353.81 L196.72,354.21 L197.46,354.13 L198.21,354.4 L198.95,354.4 L199.7,354.16 L200.44,354.4 L201.17,354.17 L201.91,354.15 L202.64,354.27 L203.38,354.47 L204.11,354.1 L204.85,354.03 L205.59,353.88 L206.32,354.28 L207.06,354.26 L207.79,353.84 L208.53,353.82 L209.26,354.16 L210,353.77 L210.7,353.9 L211.4,353.88 L212.1,353.7 L212.8,353.99 L213.5,353.66 L214.2,353.47 L214.9,353.41 L215.6,353.65 L216.3,353.49 L217,353.41 L217.8,354.46 L218.6,355.18 L219.4,357.47 L220,358.6 L220.7,356.22 L221.4,355.03 L222.1,354.12 L222.8,353.03 L223.64,353 L224.48,352.91 L225.32,352.93 L226.16,352.68 L227,352.44 L227.77,352.23 L228.54,352.57 L229.31,352.71 L230.08,352.4 L230.85,352.1 L231.62,352.16 L232.39,352.15 L233.16,352.24 L233.93,351.94 L234.7,351.84 L235.43,351.77 L236.17,351.92 L236.9,351.74 L237.63,351.78 L238.37,351.88 L239.1,352.11 L239.83,351.65 L240.57,351.45 L241.3,351.75 L242.03,351.62 L242.77,351.59 L243.5,351.54 L244.22,351.36 L244.93,351.24 L245.65,351.3 L246.37,351.73 L247.09,351.51 L247.8,351.4 L248.52,351.35 L249.24,351.34 L249.96,351.78 L250.67,351.92 L251.39,351.92 L252.11,351.63 L252.83,351.51 L253.54,351.6 L254.26,351.42 L254.98,351.67 L255.7,351.78 L256.41,351.69 L257.13,351.65 L257.85,351.75 L258.57,351.96 L259.28,351.88 L260,352.09 L260.71,352.16 L261.43,351.93 L262.14,352.16 L262.86,352.15 L263.57,352.13 L264.29,351.86 L265,351.84 L265.71,352.2 L266.43,352.14 L267.14,352.06 L267.86,351.96 L268.57,352.14 L269.29,352.01 L270,352.23 L270.71,352.31 L271.43,352.26 L272.14,352.24 L272.86,352.48 L273.57,352.6 L274.29,352.24 L275,352.13 L275.71,352.21 L276.43,352.41 L277.14,352.07 L277.86,352.21 L278.57,352.29 L279.29,352.33 L280,352.2 L280.72,352.03 L281.44,352.39 L282.16,352.11 L282.88,352.02 L283.6,352.1 L284.32,352.24 L285.04,352.28 L285.76,352.42 L286.48,352.35 L287.2,352.24 L287.92,352.33 L288.64,352.54 L289.36,352.83 L290.08,352.63 L290.8,352.63 L291.52,352.59 L292.24,352.7 L292.96,352.64 L293.68,352.63 L294.4,352.39 L295.12,352.73 L295.84,352.98 L296.56,353.14 L297.28,353.1 L298,352.94 L299,352.9 L300,352.48 L301,352.73 L302,353.06 L302.75,353.34 L303.5,353.6 L304.25,354.08 L305,354.55 L305.75,354.32 L306.5,353.95 L307.25,353.67 L308,353.77 L308.75,353.75 L309.5,353.52 L310.25,353.37 L311,353.18 L311.75,353.56 L312.5,353.75 L313.25,354.25 L314,354.01 L314.8,354.3 L315.6,354.8 L316.4,355.28 L317.12,355.05 L317.84,354.74 L318.56,354.7 L319.28,354.6 L320,354.27 L320.73,354.16 L321.46,354.19 L322.19,354.14 L322.92,354.27 L323.65,354.02 L324.38,353.9 L325.12,354.1 L325.85,353.8 L326.58,353.94 L327.31,353.77 L328.04,353.67 L328.77,353.87 L329.5,353.6" fill="none" stroke="#5ed63c" stroke-width="1.2" stroke-linejoin="round" />
<line x1="19" y1="367.4" x2="125.5" y2="367.4" stroke="#78de40" stroke-width="1.3" />
<line x1="130.8" y1="367.4" x2="329.5" y2="367.4" stroke="#78de40" stroke-width="1.3" />
<line x1="47.3" y1="230.5" x2="47.3" y2="366.5" stroke="#555" stroke-width="0.6" stroke-dasharray="1.3,1"/>
<line x1="96.3" y1="240.8" x2="96.3" y2="366.5" stroke="#555" stroke-width="0.6" stroke-dasharray="1.3,1"/>
<line x1="100" y1="232.7" x2="100" y2="366.5" stroke="#555" stroke-width="0.6" stroke-dasharray="1.3,1"/>
<line x1="103.1" y1="218.9" x2="103.1" y2="366.5" stroke="#555" stroke-width="0.6" stroke-dasharray="1.3,1"/>
<line x1="110.7" y1="237.1" x2="110.7" y2="366.5" stroke="#555" stroke-width="0.6" stroke-dasharray="1.3,1"/>
<line x1="145.7" y1="228.9" x2="145.7" y2="366.5" stroke="#555" stroke-width="0.6" stroke-dasharray="1.3,1"/>
<line x1="148.9" y1="228.9" x2="148.9" y2="366.5" stroke="#555" stroke-width="0.6" stroke-dasharray="1.3,1"/>
<line x1="170.3" y1="228.9" x2="170.3" y2="366.5" stroke="#555" stroke-width="0.6" stroke-dasharray="1.3,1"/>
<line x1="184.2" y1="222" x2="184.2" y2="366.5" stroke="#555" stroke-width="0.6" stroke-dasharray="1.3,1"/>
<line x1="220" y1="234.5" x2="220" y2="366.5" stroke="#555" stroke-width="0.6" stroke-dasharray="1.3,1"/>
<line x1="234.8" y1="220" x2="234.8" y2="366.5" stroke="#555" stroke-width="0.6" stroke-dasharray="1.3,1"/>
<line x1="305.2" y1="222" x2="305.2" y2="366.5" stroke="#555" stroke-width="0.6" stroke-dasharray="1.3,1"/>
<line x1="316.4" y1="222" x2="316.4" y2="366.5" stroke="#555" stroke-width="0.6" stroke-dasharray="1.3,1"/>
<line x1="51.4" y1="224.7" x2="47.3" y2="230.5" stroke="#777" stroke-width="0.6" />
<line x1="64.1" y1="224" x2="96.2" y2="240.8" stroke="#777" stroke-width="0.6" />
<line x1="94.7" y1="226.6" x2="99.9" y2="232.7" stroke="#777" stroke-width="0.6" />
<line x1="113" y1="232" x2="110.8" y2="237.1" stroke="#777" stroke-width="0.6" />
<line x1="148.1" y1="224.1" x2="145.9" y2="228.9" stroke="#777" stroke-width="0.6" />
<line x1="151" y1="224.1" x2="149.2" y2="228.9" stroke="#777" stroke-width="0.6" />
<line x1="166.8" y1="223.8" x2="170.3" y2="228.9" stroke="#777" stroke-width="0.6" />
<text x="49.5" y="222.1" font-size="6.1" text-anchor="start" fill="#111" font-weight="bold" stroke="#111">V(OH)</text>
<text x="75.8" y="225.4" font-size="6.1" text-anchor="start" fill="#111" font-weight="bold" stroke="#111">V<tspan font-size="4" dy="1.3">as</tspan><tspan dy="-1.3"> (C-H)</tspan></text>
<text x="88.9" y="216" font-size="6.1" text-anchor="start" fill="#111" font-weight="bold" stroke="#111">V<tspan font-size="4" dy="1.3">as</tspan><tspan dy="-1.3"> (CH</tspan><tspan font-size="4" dy="1.3">3</tspan><tspan dy="-1.3">)</tspan></text>
<text x="107.4" y="229.1" font-size="6.1" text-anchor="start" fill="#111" font-weight="bold" stroke="#111">V<tspan font-size="4" dy="1.3">s</tspan><tspan dy="-1.3"> (C-H)</tspan></text>
<text x="146.2" y="221.8" font-size="6.1" text-anchor="start" fill="#111" font-weight="bold" stroke="#111">V (C=C)</text>
<text x="172.7" y="219.1" font-size="6.1" text-anchor="start" fill="#111" font-weight="bold" stroke="#111">δ (OH)</text>
<text x="206.4" y="233" font-size="6.1" text-anchor="start" fill="#111" font-weight="bold" stroke="#111">V<tspan font-size="4" dy="1.3">s</tspan><tspan dy="-1.3"> (C-H)</tspan></text>
<text x="224" y="218" font-size="6.1" text-anchor="start" fill="#111" font-weight="bold" stroke="#111">δ (CH<tspan font-size="4" dy="1.3">3</tspan><tspan dy="-1.3">)</tspan></text>
<text x="299.5" y="219.7" font-size="6.1" text-anchor="start" fill="#111" font-weight="bold" stroke="#111">V (C-C)</text>
<text x="272.2" y="226.1" font-size="8.4" text-anchor="middle" fill="#000"  stroke="#000">60 min</text>
<text x="272.2" y="250.2" font-size="8.4" text-anchor="middle" fill="#000"  stroke="#000">40 min</text>
<text x="272.2" y="271.6" font-size="8.4" text-anchor="middle" fill="#000"  stroke="#000">30 min</text>
<text x="272.2" y="288" font-size="8.4" text-anchor="middle" fill="#000"  stroke="#000">20 min</text>
<text x="272.2" y="303.3" font-size="8.4" text-anchor="middle" fill="#000"  stroke="#000">15 min</text>
<text x="272.2" y="318.4" font-size="8.4" text-anchor="middle" fill="#000"  stroke="#000">8 min</text>
<text x="272.2" y="333.8" font-size="8.4" text-anchor="middle" fill="#000"  stroke="#000">5 min</text>
<text x="272.2" y="350.2" font-size="8.4" text-anchor="middle" fill="#000"  stroke="#000">1 min</text>
<text x="272.2" y="366.3" font-size="8.4" text-anchor="middle" fill="#000"  stroke="#000">dark</text>
<path d="M19,206 L329.5,206 L329.5,370.5 L131,370.5 M124.6,370.5 L19,370.5 Z" fill="none" stroke="#444" stroke-width="1"/>
<line x1="19" y1="206" x2="19" y2="370.5" stroke="#444" stroke-width="1" />
<line x1="123.4" y1="374.3" x2="126.7" y2="367.3" stroke="#222" stroke-width="0.9" />
<line x1="123" y1="209.6" x2="126.3" y2="202.4" stroke="#222" stroke-width="0.9" />
<line x1="128.6" y1="374.3" x2="131.9" y2="367.3" stroke="#222" stroke-width="0.9" />
<line x1="128.2" y1="209.6" x2="131.5" y2="202.4" stroke="#222" stroke-width="0.9" />
<line x1="19" y1="370.5" x2="19" y2="373.5" stroke="#444" stroke-width="1" />
<text x="19" y="385" font-size="9.2" text-anchor="middle" fill="#000"  stroke="#000">4000</text>
<line x1="51.55" y1="370.5" x2="51.55" y2="372.5" stroke="#444" stroke-width="1" />
<line x1="84.1" y1="370.5" x2="84.1" y2="373.5" stroke="#444" stroke-width="1" />
<text x="84.1" y="385" font-size="9.2" text-anchor="middle" fill="#000"  stroke="#000">3200</text>
<line x1="116.65" y1="370.5" x2="116.65" y2="372.5" stroke="#444" stroke-width="1" />
<line x1="130.87" y1="370.5" x2="130.87" y2="372.5" stroke="#444" stroke-width="1" />
<line x1="159.2" y1="370.5" x2="159.2" y2="373.5" stroke="#444" stroke-width="1" />
<text x="159.2" y="385" font-size="9.2" text-anchor="middle" fill="#000"  stroke="#000">1600</text>
<line x1="187.53" y1="370.5" x2="187.53" y2="372.5" stroke="#444" stroke-width="1" />
<line x1="215.87" y1="370.5" x2="215.87" y2="373.5" stroke="#444" stroke-width="1" />
<text x="215.87" y="385" font-size="9.2" text-anchor="middle" fill="#000"  stroke="#000">1400</text>
<line x1="244.2" y1="370.5" x2="244.2" y2="372.5" stroke="#444" stroke-width="1" />
<line x1="272.53" y1="370.5" x2="272.53" y2="373.5" stroke="#444" stroke-width="1" />
<text x="272.53" y="385" font-size="9.2" text-anchor="middle" fill="#000"  stroke="#000">1200</text>
<line x1="300.87" y1="370.5" x2="300.87" y2="372.5" stroke="#444" stroke-width="1" />
<line x1="329.2" y1="370.5" x2="329.2" y2="373.5" stroke="#444" stroke-width="1" />
<text x="329.2" y="385" font-size="9.2" text-anchor="middle" fill="#000"  stroke="#000">1000</text>
<text x="186.7" y="394.8" font-size="11.3" text-anchor="middle" stroke="#000">Wavenumber (cm<tspan font-size="7" dy="-4">−1</tspan><tspan dy="4">)</tspan></text>
<text font-size="11.2" text-anchor="middle" transform="translate(12.2,289.3) rotate(-90)" stroke="#000">Transmittance (a.u.)</text>
<line x1="392.3" y1="241.1" x2="399.83" y2="241.1" stroke="#f7943a" stroke-width="0.55" opacity="0.75"/>
<line x1="416.23" y1="241.1" x2="423.76" y2="283.1" stroke="#f7943a" stroke-width="0.55" opacity="0.75"/>
<line x1="440.16" y1="283.1" x2="447.69" y2="312.54" stroke="#f7943a" stroke-width="0.55" opacity="0.75"/>
<line x1="464.09" y1="312.54" x2="471.62" y2="293.93" stroke="#f7943a" stroke-width="0.55" opacity="0.75"/>
<line x1="488.02" y1="293.93" x2="495.55" y2="274.01" stroke="#f7943a" stroke-width="0.55" opacity="0.75"/>
<line x1="511.95" y1="274.01" x2="519.48" y2="264.92" stroke="#f7943a" stroke-width="0.55" opacity="0.75"/>
<line x1="535.88" y1="264.92" x2="543.41" y2="243.26" stroke="#f7943a" stroke-width="0.55" opacity="0.75"/>
<line x1="559.81" y1="243.26" x2="567.34" y2="248.89" stroke="#f7943a" stroke-width="0.55" opacity="0.75"/>
<line x1="583.74" y1="248.89" x2="591.27" y2="235.9" stroke="#f7943a" stroke-width="0.55" opacity="0.75"/>
<line x1="607.67" y1="235.9" x2="615.2" y2="223.35" stroke="#f7943a" stroke-width="0.55" opacity="0.75"/>
<line x1="631.6" y1="223.35" x2="639.13" y2="241.53" stroke="#f7943a" stroke-width="0.55" opacity="0.75"/>
<line x1="655.53" y1="241.53" x2="663.06" y2="325.1" stroke="#f7943a" stroke-width="0.55" opacity="0.75"/>
<line x1="392.3" y1="241.1" x2="399.83" y2="238.5" stroke="#3cc8cc" stroke-width="0.55" opacity="0.75"/>
<line x1="416.23" y1="238.5" x2="423.76" y2="349.35" stroke="#3cc8cc" stroke-width="0.55" opacity="0.75"/>
<line x1="440.16" y1="349.35" x2="447.69" y2="338.09" stroke="#3cc8cc" stroke-width="0.55" opacity="0.75"/>
<line x1="464.09" y1="338.09" x2="471.62" y2="330.73" stroke="#3cc8cc" stroke-width="0.55" opacity="0.75"/>
<line x1="488.02" y1="330.73" x2="495.55" y2="328.13" stroke="#3cc8cc" stroke-width="0.55" opacity="0.75"/>
<line x1="511.95" y1="328.13" x2="519.48" y2="275.74" stroke="#3cc8cc" stroke-width="0.55" opacity="0.75"/>
<line x1="535.88" y1="275.74" x2="543.41" y2="293.93" stroke="#3cc8cc" stroke-width="0.55" opacity="0.75"/>
<line x1="559.81" y1="293.93" x2="567.34" y2="256.25" stroke="#3cc8cc" stroke-width="0.55" opacity="0.75"/>
<line x1="583.74" y1="256.25" x2="591.27" y2="254.09" stroke="#3cc8cc" stroke-width="0.55" opacity="0.75"/>
<line x1="607.67" y1="254.09" x2="615.2" y2="226.81" stroke="#3cc8cc" stroke-width="0.55" opacity="0.75"/>
<line x1="631.6" y1="226.81" x2="639.13" y2="283.1" stroke="#3cc8cc" stroke-width="0.55" opacity="0.75"/>
<line x1="655.53" y1="283.1" x2="663.06" y2="325.1" stroke="#3cc8cc" stroke-width="0.55" opacity="0.75"/>
<line x1="399.83" y1="241.1" x2="416.23" y2="241.1" stroke="#f7943a" stroke-width="1.6" />
<line x1="423.76" y1="283.1" x2="440.16" y2="283.1" stroke="#f7943a" stroke-width="1.6" />
<line x1="447.69" y1="312.54" x2="464.09" y2="312.54" stroke="#f7943a" stroke-width="1.6" />
<line x1="471.62" y1="293.93" x2="488.02" y2="293.93" stroke="#f7943a" stroke-width="1.6" />
<line x1="495.55" y1="274.01" x2="511.95" y2="274.01" stroke="#f7943a" stroke-width="1.6" />
<line x1="519.48" y1="264.92" x2="535.88" y2="264.92" stroke="#f7943a" stroke-width="1.6" />
<line x1="543.41" y1="243.26" x2="559.81" y2="243.26" stroke="#f7943a" stroke-width="1.6" />
<line x1="567.34" y1="248.89" x2="583.74" y2="248.89" stroke="#f7943a" stroke-width="1.6" />
<line x1="591.27" y1="235.9" x2="607.67" y2="235.9" stroke="#f7943a" stroke-width="1.6" />
<line x1="615.2" y1="223.35" x2="631.6" y2="223.35" stroke="#f7943a" stroke-width="1.6" />
<line x1="639.13" y1="241.53" x2="655.53" y2="241.53" stroke="#f7943a" stroke-width="1.6" />
<line x1="375.9" y1="241.1" x2="392.3" y2="241.1" stroke="#3cc8cc" stroke-width="1.6" />
<line x1="399.83" y1="238.5" x2="416.23" y2="238.5" stroke="#3cc8cc" stroke-width="1.6" />
<line x1="423.76" y1="349.35" x2="440.16" y2="349.35" stroke="#3cc8cc" stroke-width="1.6" />
<line x1="447.69" y1="338.09" x2="464.09" y2="338.09" stroke="#3cc8cc" stroke-width="1.6" />
<line x1="471.62" y1="330.73" x2="488.02" y2="330.73" stroke="#3cc8cc" stroke-width="1.6" />
<line x1="495.55" y1="328.13" x2="511.95" y2="328.13" stroke="#3cc8cc" stroke-width="1.6" />
<line x1="519.48" y1="275.74" x2="535.88" y2="275.74" stroke="#3cc8cc" stroke-width="1.6" />
<line x1="543.41" y1="293.93" x2="559.81" y2="293.93" stroke="#3cc8cc" stroke-width="1.6" />
<line x1="567.34" y1="256.25" x2="583.74" y2="256.25" stroke="#3cc8cc" stroke-width="1.6" />
<line x1="591.27" y1="254.09" x2="607.67" y2="254.09" stroke="#3cc8cc" stroke-width="1.6" />
<line x1="615.2" y1="226.81" x2="631.6" y2="226.81" stroke="#3cc8cc" stroke-width="1.6" />
<line x1="639.13" y1="283.1" x2="655.53" y2="283.1" stroke="#3cc8cc" stroke-width="1.6" />
<line x1="663.06" y1="325.1" x2="679.46" y2="325.1" stroke="#3cc8cc" stroke-width="1.6" />
<text x="384.1" y="238.8" font-size="8.8" text-anchor="middle" fill="#111"  stroke="#111">I</text>
<text x="408.03" y="235.2" font-size="8.8" text-anchor="middle" fill="#111"  stroke="#111">II</text>
<text x="431.96" y="280.3" font-size="8.8" text-anchor="middle" fill="#111"  stroke="#111">III</text>
<text x="455.89" y="310.3" font-size="8.8" text-anchor="middle" fill="#111"  stroke="#111">IV</text>
<text x="479.82" y="290.9" font-size="8.8" text-anchor="middle" fill="#111"  stroke="#111">V</text>
<text x="503.75" y="270.6" font-size="8.8" text-anchor="middle" fill="#111"  stroke="#111">VI</text>
<text x="527.68" y="263.6" font-size="8.8" text-anchor="middle" fill="#111"  stroke="#111">VII</text>
<text x="551.61" y="240.8" font-size="8.8" text-anchor="middle" fill="#111"  stroke="#111">VIII</text>
<text x="575.54" y="246.6" font-size="8.8" text-anchor="middle" fill="#111"  stroke="#111">IX</text>
<text x="599.47" y="233.9" font-size="8.8" text-anchor="middle" fill="#111"  stroke="#111">X</text>
<text x="623.4" y="220.2" font-size="8.8" text-anchor="middle" fill="#111"  stroke="#111">XI</text>
<text x="647.33" y="239.5" font-size="8.8" text-anchor="middle" fill="#111"  stroke="#111">XII</text>
<text x="671.26" y="322.7" font-size="8.8" text-anchor="middle" fill="#111"  stroke="#111">XIII</text>
<text x="408.03" y="252.6" font-size="8.5" text-anchor="middle" fill="#3cc8cc"  stroke="#3cc8cc">0.06</text>
<text x="408.03" y="262.9" font-size="8.5" text-anchor="middle" fill="#f7943a"  stroke="#f7943a">0.00</text>
<text x="431.96" y="294.2" font-size="8.5" text-anchor="middle" fill="#f7943a"  stroke="#f7943a">-0.97</text>
<text x="431.96" y="358.9" font-size="8.5" text-anchor="middle" fill="#3cc8cc"  stroke="#3cc8cc">-2.50</text>
<text x="455.89" y="322.9" font-size="8.5" text-anchor="middle" fill="#f7943a"  stroke="#f7943a">-1.65</text>
<text x="455.89" y="349.8" font-size="8.5" text-anchor="middle" fill="#3cc8cc"  stroke="#3cc8cc">-2.24</text>
<text x="479.82" y="304.9" font-size="8.5" text-anchor="middle" fill="#f7943a"  stroke="#f7943a">-1.22</text>
<text x="479.82" y="341.7" font-size="8.5" text-anchor="middle" fill="#3cc8cc"  stroke="#3cc8cc">-2.07</text>
<text x="503.75" y="285.6" font-size="8.5" text-anchor="middle" fill="#f7943a"  stroke="#f7943a">-0.76</text>
<text x="503.75" y="338.5" font-size="8.5" text-anchor="middle" fill="#3cc8cc"  stroke="#3cc8cc">-2.01</text>
<text x="527.68" y="273.6" font-size="8.5" text-anchor="middle" fill="#f7943a"  stroke="#f7943a">-0.55</text>
<text x="527.68" y="288.4" font-size="8.5" text-anchor="middle" fill="#3cc8cc"  stroke="#3cc8cc">-0.80</text>
<text x="551.61" y="253.9" font-size="8.5" text-anchor="middle" fill="#f7943a"  stroke="#f7943a">-0.05</text>
<text x="551.61" y="304.3" font-size="8.5" text-anchor="middle" fill="#3cc8cc"  stroke="#3cc8cc">-1.22</text>
<text x="575.54" y="265.7" font-size="8.5" text-anchor="middle" fill="#f7943a"  stroke="#f7943a">-0.18</text>
<text x="575.54" y="277.5" font-size="8.5" text-anchor="middle" fill="#3cc8cc"  stroke="#3cc8cc">-0.35</text>
<text x="599.47" y="245.4" font-size="8.5" text-anchor="middle" fill="#f7943a"  stroke="#f7943a">0.12</text>
<text x="599.47" y="264.3" font-size="8.5" text-anchor="middle" fill="#3cc8cc"  stroke="#3cc8cc">-0.30</text>
<text x="623.4" y="238.9" font-size="8.5" text-anchor="middle" fill="#f7943a"  stroke="#f7943a">0.41</text>
<text x="623.4" y="251.7" font-size="8.5" text-anchor="middle" fill="#3cc8cc"  stroke="#3cc8cc">0.33</text>
<text x="647.33" y="252.4" font-size="8.5" text-anchor="middle" fill="#f7943a"  stroke="#f7943a">-0.01</text>
<text x="647.33" y="293.2" font-size="8.5" text-anchor="middle" fill="#3cc8cc"  stroke="#3cc8cc">-0.97</text>
<line x1="441.5" y1="217.7" x2="461.8" y2="217.7" stroke="#f7943a" stroke-width="1" />
<line x1="441.5" y1="228.8" x2="461.8" y2="228.8" stroke="#3cc8cc" stroke-width="1" />
<text x="463.7" y="220.8" font-size="8.7" text-anchor="start" fill="#f7943a"  stroke="#f7943a">v-NiO</text>
<text x="463.7" y="231.9" font-size="8.7" text-anchor="start" fill="#3cc8cc"  stroke="#3cc8cc">NiO</text>
<rect x="372" y="206.5" width="311.5" height="164.5" fill="none" stroke="#444" stroke-width="1"/>
<line x1="372" y1="206.46" x2="369" y2="206.46" stroke="#444" stroke-width="1" />
<text x="367.4" y="209.46" font-size="8.5" text-anchor="end" fill="#000"  stroke="#000">0.8</text>
<line x1="372" y1="223.78" x2="370" y2="223.78" stroke="#444" stroke-width="1" />
<line x1="372" y1="241.1" x2="369" y2="241.1" stroke="#444" stroke-width="1" />
<text x="367.4" y="244.1" font-size="8.5" text-anchor="end" fill="#000"  stroke="#000">0.0</text>
<line x1="372" y1="258.42" x2="370" y2="258.42" stroke="#444" stroke-width="1" />
<line x1="372" y1="275.74" x2="369" y2="275.74" stroke="#444" stroke-width="1" />
<text x="367.4" y="278.74" font-size="8.5" text-anchor="end" fill="#000"  stroke="#000">-0.8</text>
<line x1="372" y1="293.06" x2="370" y2="293.06" stroke="#444" stroke-width="1" />
<line x1="372" y1="310.38" x2="369" y2="310.38" stroke="#444" stroke-width="1" />
<text x="367.4" y="313.38" font-size="8.5" text-anchor="end" fill="#000"  stroke="#000">-1.6</text>
<line x1="372" y1="327.7" x2="370" y2="327.7" stroke="#444" stroke-width="1" />
<line x1="372" y1="345.02" x2="369" y2="345.02" stroke="#444" stroke-width="1" />
<text x="367.4" y="348.02" font-size="8.5" text-anchor="end" fill="#000"  stroke="#000">-2.4</text>
<text font-size="9.9" text-anchor="middle" transform="translate(350.3,283.6) rotate(-90)" stroke="#000">Energy (eV)</text>
<defs>
<radialGradient id="gni" cx="0.5" cy="0.47" r="0.55"><stop offset="0" stop-color="#ffffff"/><stop offset="0.2" stop-color="#f0f0ff"/><stop offset="0.42" stop-color="#9c9ce2"/><stop offset="1" stop-color="#5454a6"/></radialGradient>
<radialGradient id="gac" cx="0.5" cy="0.45" r="0.55"><stop offset="0" stop-color="#ffb0d8"/><stop offset="0.35" stop-color="#e0308a"/><stop offset="1" stop-color="#b0005a"/></radialGradient>
<radialGradient id="ggr" cx="0.5" cy="0.45" r="0.55"><stop offset="0" stop-color="#f0ffe0"/><stop offset="0.4" stop-color="#80dc30"/><stop offset="1" stop-color="#48a818"/></radialGradient>
<radialGradient id="gol" cx="0.5" cy="0.45" r="0.55"><stop offset="0" stop-color="#ffffff"/><stop offset="0.4" stop-color="#ecd4ec"/><stop offset="1" stop-color="#b888c0"/></radialGradient>
</defs>
<line x1="32.3" y1="437.5" x2="37.66" y2="437.5" stroke="#dcb0dc" stroke-width="1.5" />
<line x1="37.66" y1="437.5" x2="43.02" y2="437.5" stroke="#9a9ade" stroke-width="1.5" />
<line x1="32.3" y1="437.5" x2="32.3" y2="445.4" stroke="#f0cdee" stroke-width="2.3" />
<line x1="32.3" y1="445.4" x2="32.3" y2="453.3" stroke="#a2a6ea" stroke-width="2.3" />
<line x1="43.02" y1="437.5" x2="48.38" y2="437.5" stroke="#9a9ade" stroke-width="1.5" />
<line x1="48.38" y1="437.5" x2="53.74" y2="437.5" stroke="#dcb0dc" stroke-width="1.5" />
<line x1="43.02" y1="437.5" x2="43.02" y2="445.4" stroke="#a2a6ea" stroke-width="2.3" />
<line x1="43.02" y1="445.4" x2="43.02" y2="453.3" stroke="#f0cdee" stroke-width="2.3" />
<line x1="53.74" y1="437.5" x2="59.1" y2="437.5" stroke="#dcb0dc" stroke-width="1.5" />
<line x1="59.1" y1="437.5" x2="64.46" y2="437.5" stroke="#9a9ade" stroke-width="1.5" />
<line x1="53.74" y1="437.5" x2="53.74" y2="445.4" stroke="#f0cdee" stroke-width="2.3" />
<line x1="53.74" y1="445.4" x2="53.74" y2="453.3" stroke="#a2a6ea" stroke-width="2.3" />
<line x1="64.46" y1="437.5" x2="69.82" y2="437.5" stroke="#9a9ade" stroke-width="1.5" />
<line x1="69.82" y1="437.5" x2="75.18" y2="437.5" stroke="#dcb0dc" stroke-width="1.5" />
<line x1="64.46" y1="437.5" x2="64.46" y2="445.4" stroke="#a2a6ea" stroke-width="2.3" />
<line x1="64.46" y1="445.4" x2="64.46" y2="453.3" stroke="#f0cdee" stroke-width="2.3" />
<line x1="75.18" y1="437.5" x2="80.54" y2="437.5" stroke="#dcb0dc" stroke-width="1.5" />
<line x1="80.54" y1="437.5" x2="85.9" y2="437.5" stroke="#9a9ade" stroke-width="1.5" />
<line x1="75.18" y1="437.5" x2="75.18" y2="445.4" stroke="#f0cdee" stroke-width="2.3" />
<line x1="75.18" y1="445.4" x2="75.18" y2="453.3" stroke="#a2a6ea" stroke-width="2.3" />
<line x1="85.9" y1="437.5" x2="91.26" y2="437.5" stroke="#9a9ade" stroke-width="1.5" />
<line x1="91.26" y1="437.5" x2="96.62" y2="437.5" stroke="#dcb0dc" stroke-width="1.5" />
<line x1="85.9" y1="437.5" x2="85.9" y2="445.4" stroke="#a2a6ea" stroke-width="2.3" />
<line x1="85.9" y1="445.4" x2="85.9" y2="453.3" stroke="#f0cdee" stroke-width="2.3" />
<line x1="96.62" y1="437.5" x2="96.62" y2="445.4" stroke="#f0cdee" stroke-width="2.3" />
<line x1="96.62" y1="445.4" x2="96.62" y2="453.3" stroke="#a2a6ea" stroke-width="2.3" />
<line x1="32.3" y1="453.3" x2="37.66" y2="453.3" stroke="#9a9ade" stroke-width="1.5" />
<line x1="37.66" y1="453.3" x2="43.02" y2="453.3" stroke="#dcb0dc" stroke-width="1.5" />
<line x1="32.3" y1="453.3" x2="32.3" y2="460.8" stroke="#a2a6ea" stroke-width="2.3" />
<line x1="32.3" y1="460.8" x2="32.3" y2="468.3" stroke="#f0cdee" stroke-width="2.3" />
<line x1="43.02" y1="453.3" x2="48.38" y2="453.3" stroke="#dcb0dc" stroke-width="1.5" />
<line x1="48.38" y1="453.3" x2="53.74" y2="453.3" stroke="#9a9ade" stroke-width="1.5" />
<line x1="43.02" y1="453.3" x2="43.02" y2="460.8" stroke="#f0cdee" stroke-width="2.3" />
<line x1="43.02" y1="460.8" x2="43.02" y2="468.3" stroke="#a2a6ea" stroke-width="2.3" />
<line x1="53.74" y1="453.3" x2="59.1" y2="453.3" stroke="#9a9ade" stroke-width="1.5" />
<line x1="59.1" y1="453.3" x2="64.46" y2="453.3" stroke="#dcb0dc" stroke-width="1.5" />
<line x1="53.74" y1="453.3" x2="53.74" y2="460.8" stroke="#a2a6ea" stroke-width="2.3" />
<line x1="53.74" y1="460.8" x2="53.74" y2="468.3" stroke="#f0cdee" stroke-width="2.3" />
<line x1="64.46" y1="453.3" x2="69.82" y2="453.3" stroke="#dcb0dc" stroke-width="1.5" />
<line x1="69.82" y1="453.3" x2="75.18" y2="453.3" stroke="#9a9ade" stroke-width="1.5" />
<line x1="64.46" y1="453.3" x2="64.46" y2="460.8" stroke="#f0cdee" stroke-width="2.3" />
<line x1="64.46" y1="460.8" x2="64.46" y2="468.3" stroke="#a2a6ea" stroke-width="2.3" />
<line x1="75.18" y1="453.3" x2="80.54" y2="453.3" stroke="#9a9ade" stroke-width="1.5" />
<line x1="80.54" y1="453.3" x2="85.9" y2="453.3" stroke="#dcb0dc" stroke-width="1.5" />
<line x1="75.18" y1="453.3" x2="75.18" y2="460.8" stroke="#a2a6ea" stroke-width="2.3" />
<line x1="75.18" y1="460.8" x2="75.18" y2="468.3" stroke="#f0cdee" stroke-width="2.3" />
<line x1="85.9" y1="453.3" x2="91.26" y2="453.3" stroke="#dcb0dc" stroke-width="1.5" />
<line x1="91.26" y1="453.3" x2="96.62" y2="453.3" stroke="#9a9ade" stroke-width="1.5" />
<line x1="85.9" y1="453.3" x2="85.9" y2="460.8" stroke="#f0cdee" stroke-width="2.3" />
<line x1="85.9" y1="460.8" x2="85.9" y2="468.3" stroke="#a2a6ea" stroke-width="2.3" />
<line x1="96.62" y1="453.3" x2="96.62" y2="460.8" stroke="#a2a6ea" stroke-width="2.3" />
<line x1="96.62" y1="460.8" x2="96.62" y2="468.3" stroke="#f0cdee" stroke-width="2.3" />
<line x1="32.3" y1="468.3" x2="37.66" y2="468.3" stroke="#dcb0dc" stroke-width="1.5" />
<line x1="37.66" y1="468.3" x2="43.02" y2="468.3" stroke="#9a9ade" stroke-width="1.5" />
<line x1="32.3" y1="468.3" x2="32.3" y2="475.65" stroke="#f0cdee" stroke-width="2.3" />
<line x1="32.3" y1="475.65" x2="32.3" y2="483" stroke="#a2a6ea" stroke-width="2.3" />
<line x1="43.02" y1="468.3" x2="48.38" y2="468.3" stroke="#9a9ade" stroke-width="1.5" />
<line x1="48.38" y1="468.3" x2="53.74" y2="468.3" stroke="#dcb0dc" stroke-width="1.5" />
<line x1="43.02" y1="468.3" x2="43.02" y2="475.65" stroke="#a2a6ea" stroke-width="2.3" />
<line x1="43.02" y1="475.65" x2="43.02" y2="483" stroke="#f0cdee" stroke-width="2.3" />
<line x1="53.74" y1="468.3" x2="59.1" y2="468.3" stroke="#dcb0dc" stroke-width="1.5" />
<line x1="59.1" y1="468.3" x2="64.46" y2="468.3" stroke="#9a9ade" stroke-width="1.5" />
<line x1="53.74" y1="468.3" x2="53.74" y2="475.65" stroke="#f0cdee" stroke-width="2.3" />
<line x1="53.74" y1="475.65" x2="53.74" y2="483" stroke="#a2a6ea" stroke-width="2.3" />
<line x1="64.46" y1="468.3" x2="69.82" y2="468.3" stroke="#9a9ade" stroke-width="1.5" />
<line x1="69.82" y1="468.3" x2="75.18" y2="468.3" stroke="#dcb0dc" stroke-width="1.5" />
<line x1="64.46" y1="468.3" x2="64.46" y2="475.65" stroke="#a2a6ea" stroke-width="2.3" />
<line x1="64.46" y1="475.65" x2="64.46" y2="483" stroke="#f0cdee" stroke-width="2.3" />
<line x1="75.18" y1="468.3" x2="80.54" y2="468.3" stroke="#dcb0dc" stroke-width="1.5" />
<line x1="80.54" y1="468.3" x2="85.9" y2="468.3" stroke="#9a9ade" stroke-width="1.5" />
<line x1="75.18" y1="468.3" x2="75.18" y2="475.65" stroke="#f0cdee" stroke-width="2.3" />
<line x1="75.18" y1="475.65" x2="75.18" y2="483" stroke="#a2a6ea" stroke-width="2.3" />
<line x1="85.9" y1="468.3" x2="91.26" y2="468.3" stroke="#9a9ade" stroke-width="1.5" />
<line x1="91.26" y1="468.3" x2="96.62" y2="468.3" stroke="#dcb0dc" stroke-width="1.5" />
<line x1="85.9" y1="468.3" x2="85.9" y2="475.65" stroke="#a2a6ea" stroke-width="2.3" />
<line x1="85.9" y1="475.65" x2="85.9" y2="483" stroke="#f0cdee" stroke-width="2.3" />
<line x1="96.62" y1="468.3" x2="96.62" y2="475.65" stroke="#f0cdee" stroke-width="2.3" />
<line x1="96.62" y1="475.65" x2="96.62" y2="483" stroke="#a2a6ea" stroke-width="2.3" />
<line x1="32.3" y1="483" x2="37.66" y2="483" stroke="#9a9ade" stroke-width="1.5" />
<line x1="37.66" y1="483" x2="43.02" y2="483" stroke="#dcb0dc" stroke-width="1.5" />
<line x1="43.02" y1="483" x2="48.38" y2="483" stroke="#dcb0dc" stroke-width="1.5" />
<line x1="48.38" y1="483" x2="53.74" y2="483" stroke="#9a9ade" stroke-width="1.5" />
<line x1="53.74" y1="483" x2="59.1" y2="483" stroke="#9a9ade" stroke-width="1.5" />
<line x1="59.1" y1="483" x2="64.46" y2="483" stroke="#dcb0dc" stroke-width="1.5" />
<line x1="64.46" y1="483" x2="69.82" y2="483" stroke="#dcb0dc" stroke-width="1.5" />
<line x1="69.82" y1="483" x2="75.18" y2="483" stroke="#9a9ade" stroke-width="1.5" />
<line x1="75.18" y1="483" x2="80.54" y2="483" stroke="#9a9ade" stroke-width="1.5" />
<line x1="80.54" y1="483" x2="85.9" y2="483" stroke="#dcb0dc" stroke-width="1.5" />
<line x1="85.9" y1="483" x2="91.26" y2="483" stroke="#dcb0dc" stroke-width="1.5" />
<line x1="91.26" y1="483" x2="96.62" y2="483" stroke="#9a9ade" stroke-width="1.5" />
<circle cx="32.3" cy="437.5" r="2.0" fill="#fbf0fb" stroke="#c994c9" stroke-width="1"/>
<circle cx="53.74" cy="437.5" r="2.0" fill="#fbf0fb" stroke="#c994c9" stroke-width="1"/>
<circle cx="75.18" cy="437.5" r="2.0" fill="#fbf0fb" stroke="#c994c9" stroke-width="1"/>
<circle cx="96.62" cy="437.5" r="2.0" fill="#fbf0fb" stroke="#c994c9" stroke-width="1"/>
<circle cx="43.02" cy="453.3" r="2.0" fill="#fbf0fb" stroke="#c994c9" stroke-width="1"/>
<circle cx="64.46" cy="453.3" r="2.0" fill="#fbf0fb" stroke="#c994c9" stroke-width="1"/>
<circle cx="85.9" cy="453.3" r="2.0" fill="#fbf0fb" stroke="#c994c9" stroke-width="1"/>
<circle cx="32.3" cy="468.3" r="2.0" fill="#fbf0fb" stroke="#c994c9" stroke-width="1"/>
<circle cx="53.74" cy="468.3" r="2.0" fill="#fbf0fb" stroke="#c994c9" stroke-width="1"/>
<circle cx="75.18" cy="468.3" r="2.0" fill="#fbf0fb" stroke="#c994c9" stroke-width="1"/>
<circle cx="96.62" cy="468.3" r="2.0" fill="#fbf0fb" stroke="#c994c9" stroke-width="1"/>
<circle cx="43.02" cy="483" r="2.0" fill="#fbf0fb" stroke="#c994c9" stroke-width="1"/>
<circle cx="64.46" cy="483" r="2.0" fill="#fbf0fb" stroke="#c994c9" stroke-width="1"/>
<circle cx="85.9" cy="483" r="2.0" fill="#fbf0fb" stroke="#c994c9" stroke-width="1"/>
<circle cx="43.02" cy="437.5" r="3.6" fill="url(#gni)"/>
<circle cx="64.46" cy="437.5" r="3.6" fill="url(#gni)"/>
<circle cx="85.9" cy="437.5" r="3.6" fill="url(#gni)"/>
<circle cx="32.3" cy="453.3" r="3.6" fill="url(#gni)"/>
<circle cx="53.74" cy="453.3" r="3.6" fill="url(#gni)"/>
<circle cx="75.18" cy="453.3" r="3.6" fill="url(#gni)"/>
<circle cx="96.62" cy="453.3" r="3.6" fill="url(#gni)"/>
<circle cx="43.02" cy="468.3" r="3.6" fill="url(#gni)"/>
<circle cx="64.46" cy="468.3" r="3.6" fill="url(#gni)"/>
<circle cx="85.9" cy="468.3" r="3.6" fill="url(#gni)"/>
<circle cx="32.3" cy="483" r="3.6" fill="url(#gni)"/>
<circle cx="53.74" cy="483" r="3.6" fill="url(#gni)"/>
<circle cx="75.18" cy="483" r="3.6" fill="url(#gni)"/>
<circle cx="96.62" cy="483" r="3.6" fill="url(#gni)"/>
<line x1="126.1" y1="437.5" x2="131.39" y2="437.5" stroke="#dcb0dc" stroke-width="1.5" />
<line x1="131.39" y1="437.5" x2="136.68" y2="437.5" stroke="#9a9ade" stroke-width="1.5" />
<line x1="126.1" y1="437.5" x2="126.1" y2="445.4" stroke="#f0cdee" stroke-width="2.3" />
<line x1="126.1" y1="445.4" x2="126.1" y2="453.3" stroke="#a2a6ea" stroke-width="2.3" />
<line x1="136.68" y1="437.5" x2="141.97" y2="437.5" stroke="#9a9ade" stroke-width="1.5" />
<line x1="141.97" y1="437.5" x2="147.26" y2="437.5" stroke="#dcb0dc" stroke-width="1.5" />
<line x1="136.68" y1="437.5" x2="136.68" y2="445.4" stroke="#a2a6ea" stroke-width="2.3" />
<line x1="136.68" y1="445.4" x2="136.68" y2="453.3" stroke="#f0cdee" stroke-width="2.3" />
<line x1="147.26" y1="437.5" x2="152.55" y2="437.5" stroke="#dcb0dc" stroke-width="1.5" />
<line x1="152.55" y1="437.5" x2="157.84" y2="437.5" stroke="#9a9ade" stroke-width="1.5" />
<line x1="147.26" y1="437.5" x2="147.26" y2="445.4" stroke="#f0cdee" stroke-width="2.3" />
<line x1="147.26" y1="445.4" x2="147.26" y2="453.3" stroke="#a2a6ea" stroke-width="2.3" />
<line x1="157.84" y1="437.5" x2="163.13" y2="437.5" stroke="#9a9ade" stroke-width="1.5" />
<line x1="163.13" y1="437.5" x2="168.42" y2="437.5" stroke="#dcb0dc" stroke-width="1.5" />
<line x1="157.84" y1="437.5" x2="157.84" y2="445.4" stroke="#a2a6ea" stroke-width="2.3" />
<line x1="157.84" y1="445.4" x2="157.84" y2="453.3" stroke="#f0cdee" stroke-width="2.3" />
<line x1="168.42" y1="437.5" x2="173.71" y2="437.5" stroke="#dcb0dc" stroke-width="1.5" />
<line x1="173.71" y1="437.5" x2="179" y2="437.5" stroke="#9a9ade" stroke-width="1.5" />
<line x1="168.42" y1="437.5" x2="168.42" y2="445.4" stroke="#f0cdee" stroke-width="2.3" />
<line x1="168.42" y1="445.4" x2="168.42" y2="453.3" stroke="#a2a6ea" stroke-width="2.3" />
<line x1="179" y1="437.5" x2="184.29" y2="437.5" stroke="#9a9ade" stroke-width="1.5" />
<line x1="184.29" y1="437.5" x2="189.58" y2="437.5" stroke="#dcb0dc" stroke-width="1.5" />
<line x1="179" y1="437.5" x2="179" y2="445.4" stroke="#a2a6ea" stroke-width="2.3" />
<line x1="179" y1="445.4" x2="179" y2="453.3" stroke="#f0cdee" stroke-width="2.3" />
<line x1="189.58" y1="437.5" x2="189.58" y2="445.4" stroke="#f0cdee" stroke-width="2.3" />
<line x1="189.58" y1="445.4" x2="189.58" y2="453.3" stroke="#a2a6ea" stroke-width="2.3" />
<line x1="126.1" y1="453.3" x2="131.39" y2="453.3" stroke="#9a9ade" stroke-width="1.5" />
<line x1="131.39" y1="453.3" x2="136.68" y2="453.3" stroke="#dcb0dc" stroke-width="1.5" />
<line x1="126.1" y1="453.3" x2="126.1" y2="460.8" stroke="#a2a6ea" stroke-width="2.3" />
<line x1="126.1" y1="460.8" x2="126.1" y2="468.3" stroke="#f0cdee" stroke-width="2.3" />
<line x1="136.68" y1="453.3" x2="141.97" y2="453.3" stroke="#dcb0dc" stroke-width="1.5" />
<line x1="141.97" y1="453.3" x2="147.26" y2="453.3" stroke="#9a9ade" stroke-width="1.5" />
<line x1="136.68" y1="453.3" x2="136.68" y2="460.8" stroke="#f0cdee" stroke-width="2.3" />
<line x1="136.68" y1="460.8" x2="136.68" y2="468.3" stroke="#a2a6ea" stroke-width="2.3" />
<line x1="147.26" y1="453.3" x2="152.55" y2="453.3" stroke="#9a9ade" stroke-width="1.5" />
<line x1="152.55" y1="453.3" x2="157.84" y2="453.3" stroke="#dcb0dc" stroke-width="1.5" />
<line x1="147.26" y1="453.3" x2="147.26" y2="460.8" stroke="#a2a6ea" stroke-width="2.3" />
<line x1="147.26" y1="460.8" x2="147.26" y2="468.3" stroke="#f0cdee" stroke-width="2.3" />
<line x1="157.84" y1="453.3" x2="163.13" y2="453.3" stroke="#dcb0dc" stroke-width="1.5" />
<line x1="163.13" y1="453.3" x2="168.42" y2="453.3" stroke="#9a9ade" stroke-width="1.5" />
<line x1="157.84" y1="453.3" x2="157.84" y2="460.8" stroke="#f0cdee" stroke-width="2.3" />
<line x1="157.84" y1="460.8" x2="157.84" y2="468.3" stroke="#a2a6ea" stroke-width="2.3" />
<line x1="168.42" y1="453.3" x2="173.71" y2="453.3" stroke="#9a9ade" stroke-width="1.5" />
<line x1="173.71" y1="453.3" x2="179" y2="453.3" stroke="#dcb0dc" stroke-width="1.5" />
<line x1="168.42" y1="453.3" x2="168.42" y2="460.8" stroke="#a2a6ea" stroke-width="2.3" />
<line x1="168.42" y1="460.8" x2="168.42" y2="468.3" stroke="#f0cdee" stroke-width="2.3" />
<line x1="179" y1="453.3" x2="184.29" y2="453.3" stroke="#dcb0dc" stroke-width="1.5" />
<line x1="184.29" y1="453.3" x2="189.58" y2="453.3" stroke="#9a9ade" stroke-width="1.5" />
<line x1="179" y1="453.3" x2="179" y2="460.8" stroke="#f0cdee" stroke-width="2.3" />
<line x1="179" y1="460.8" x2="179" y2="468.3" stroke="#a2a6ea" stroke-width="2.3" />
<line x1="189.58" y1="453.3" x2="189.58" y2="460.8" stroke="#a2a6ea" stroke-width="2.3" />
<line x1="189.58" y1="460.8" x2="189.58" y2="468.3" stroke="#f0cdee" stroke-width="2.3" />
<line x1="126.1" y1="468.3" x2="131.39" y2="468.3" stroke="#dcb0dc" stroke-width="1.5" />
<line x1="131.39" y1="468.3" x2="136.68" y2="468.3" stroke="#9a9ade" stroke-width="1.5" />
<line x1="126.1" y1="468.3" x2="126.1" y2="475.65" stroke="#f0cdee" stroke-width="2.3" />
<line x1="126.1" y1="475.65" x2="126.1" y2="483" stroke="#a2a6ea" stroke-width="2.3" />
<line x1="136.68" y1="468.3" x2="141.97" y2="468.3" stroke="#9a9ade" stroke-width="1.5" />
<line x1="141.97" y1="468.3" x2="147.26" y2="468.3" stroke="#dcb0dc" stroke-width="1.5" />
<line x1="136.68" y1="468.3" x2="136.68" y2="475.65" stroke="#a2a6ea" stroke-width="2.3" />
<line x1="136.68" y1="475.65" x2="136.68" y2="483" stroke="#f0cdee" stroke-width="2.3" />
<line x1="147.26" y1="468.3" x2="152.55" y2="468.3" stroke="#dcb0dc" stroke-width="1.5" />
<line x1="152.55" y1="468.3" x2="157.84" y2="468.3" stroke="#9a9ade" stroke-width="1.5" />
<line x1="147.26" y1="468.3" x2="147.26" y2="475.65" stroke="#f0cdee" stroke-width="2.3" />
<line x1="147.26" y1="475.65" x2="147.26" y2="483" stroke="#a2a6ea" stroke-width="2.3" />
<line x1="157.84" y1="468.3" x2="163.13" y2="468.3" stroke="#9a9ade" stroke-width="1.5" />
<line x1="163.13" y1="468.3" x2="168.42" y2="468.3" stroke="#dcb0dc" stroke-width="1.5" />
<line x1="157.84" y1="468.3" x2="157.84" y2="475.65" stroke="#a2a6ea" stroke-width="2.3" />
<line x1="157.84" y1="475.65" x2="157.84" y2="483" stroke="#f0cdee" stroke-width="2.3" />
<line x1="168.42" y1="468.3" x2="173.71" y2="468.3" stroke="#dcb0dc" stroke-width="1.5" />
<line x1="173.71" y1="468.3" x2="179" y2="468.3" stroke="#9a9ade" stroke-width="1.5" />
<line x1="168.42" y1="468.3" x2="168.42" y2="475.65" stroke="#f0cdee" stroke-width="2.3" />
<line x1="168.42" y1="475.65" x2="168.42" y2="483" stroke="#a2a6ea" stroke-width="2.3" />
<line x1="179" y1="468.3" x2="184.29" y2="468.3" stroke="#9a9ade" stroke-width="1.5" />
<line x1="184.29" y1="468.3" x2="189.58" y2="468.3" stroke="#dcb0dc" stroke-width="1.5" />
<line x1="179" y1="468.3" x2="179" y2="475.65" stroke="#a2a6ea" stroke-width="2.3" />
<line x1="179" y1="475.65" x2="179" y2="483" stroke="#f0cdee" stroke-width="2.3" />
<line x1="189.58" y1="468.3" x2="189.58" y2="475.65" stroke="#f0cdee" stroke-width="2.3" />
<line x1="189.58" y1="475.65" x2="189.58" y2="483" stroke="#a2a6ea" stroke-width="2.3" />
<line x1="126.1" y1="483" x2="131.39" y2="483" stroke="#9a9ade" stroke-width="1.5" />
<line x1="131.39" y1="483" x2="136.68" y2="483" stroke="#dcb0dc" stroke-width="1.5" />
<line x1="136.68" y1="483" x2="141.97" y2="483" stroke="#dcb0dc" stroke-width="1.5" />
<line x1="141.97" y1="483" x2="147.26" y2="483" stroke="#9a9ade" stroke-width="1.5" />
<line x1="147.26" y1="483" x2="152.55" y2="483" stroke="#9a9ade" stroke-width="1.5" />
<line x1="152.55" y1="483" x2="157.84" y2="483" stroke="#dcb0dc" stroke-width="1.5" />
<line x1="157.84" y1="483" x2="163.13" y2="483" stroke="#dcb0dc" stroke-width="1.5" />
<line x1="163.13" y1="483" x2="168.42" y2="483" stroke="#9a9ade" stroke-width="1.5" />
<line x1="168.42" y1="483" x2="173.71" y2="483" stroke="#9a9ade" stroke-width="1.5" />
<line x1="173.71" y1="483" x2="179" y2="483" stroke="#dcb0dc" stroke-width="1.5" />
<line x1="179" y1="483" x2="184.29" y2="483" stroke="#dcb0dc" stroke-width="1.5" />
<line x1="184.29" y1="483" x2="189.58" y2="483" stroke="#9a9ade" stroke-width="1.5" />
<circle cx="126.1" cy="437.5" r="2.0" fill="#fbf0fb" stroke="#c994c9" stroke-width="1"/>
<circle cx="147.26" cy="437.5" r="2.0" fill="#fbf0fb" stroke="#c994c9" stroke-width="1"/>
<circle cx="168.42" cy="437.5" r="2.0" fill="#fbf0fb" stroke="#c994c9" stroke-width="1"/>
<circle cx="189.58" cy="437.5" r="2.0" fill="#fbf0fb" stroke="#c994c9" stroke-width="1"/>
<circle cx="136.68" cy="453.3" r="2.0" fill="#fbf0fb" stroke="#c994c9" stroke-width="1"/>
<circle cx="157.84" cy="453.3" r="2.0" fill="#fbf0fb" stroke="#c994c9" stroke-width="1"/>
<circle cx="179" cy="453.3" r="2.0" fill="#fbf0fb" stroke="#c994c9" stroke-width="1"/>
<circle cx="126.1" cy="468.3" r="2.0" fill="#fbf0fb" stroke="#c994c9" stroke-width="1"/>
<circle cx="147.26" cy="468.3" r="2.0" fill="#fbf0fb" stroke="#c994c9" stroke-width="1"/>
<circle cx="168.42" cy="468.3" r="2.0" fill="#fbf0fb" stroke="#c994c9" stroke-width="1"/>
<circle cx="189.58" cy="468.3" r="2.0" fill="#fbf0fb" stroke="#c994c9" stroke-width="1"/>
<circle cx="136.68" cy="483" r="2.0" fill="#fbf0fb" stroke="#c994c9" stroke-width="1"/>
<circle cx="157.84" cy="483" r="2.0" fill="#fbf0fb" stroke="#c994c9" stroke-width="1"/>
<circle cx="179" cy="483" r="2.0" fill="#fbf0fb" stroke="#c994c9" stroke-width="1"/>
<circle cx="136.68" cy="437.5" r="3.6" fill="url(#gni)"/>
<circle cx="157.84" cy="437.5" r="3.6" fill="url(#gni)"/>
<circle cx="179" cy="437.5" r="3.6" fill="url(#gni)"/>
<circle cx="126.1" cy="453.3" r="3.6" fill="url(#gni)"/>
<circle cx="147.26" cy="453.3" r="3.6" fill="url(#gni)"/>
<circle cx="168.42" cy="453.3" r="3.6" fill="url(#gni)"/>
<circle cx="189.58" cy="453.3" r="3.6" fill="url(#gni)"/>
<circle cx="136.68" cy="468.3" r="3.6" fill="url(#gni)"/>
<circle cx="157.84" cy="468.3" r="3.6" fill="url(#gni)"/>
<circle cx="179" cy="468.3" r="3.6" fill="url(#gni)"/>
<circle cx="126.1" cy="483" r="3.6" fill="url(#gni)"/>
<circle cx="147.26" cy="483" r="3.6" fill="url(#gni)"/>
<circle cx="168.42" cy="483" r="3.6" fill="url(#gni)"/>
<circle cx="189.58" cy="483" r="3.6" fill="url(#gni)"/>
<line x1="219.7" y1="453.3" x2="224.89" y2="453.3" stroke="#9a9ade" stroke-width="1.5" />
<line x1="224.89" y1="453.3" x2="230.08" y2="453.3" stroke="#dcb0dc" stroke-width="1.5" />
<line x1="219.7" y1="453.3" x2="219.7" y2="460.8" stroke="#a2a6ea" stroke-width="2.3" />
<line x1="219.7" y1="460.8" x2="219.7" y2="468.3" stroke="#f0cdee" stroke-width="2.3" />
<line x1="230.08" y1="453.3" x2="235.27" y2="453.3" stroke="#dcb0dc" stroke-width="1.5" />
<line x1="235.27" y1="453.3" x2="240.46" y2="453.3" stroke="#9a9ade" stroke-width="1.5" />
<line x1="230.08" y1="453.3" x2="230.08" y2="460.8" stroke="#f0cdee" stroke-width="2.3" />
<line x1="230.08" y1="460.8" x2="230.08" y2="468.3" stroke="#a2a6ea" stroke-width="2.3" />
<line x1="240.46" y1="453.3" x2="245.65" y2="453.3" stroke="#9a9ade" stroke-width="1.5" />
<line x1="245.65" y1="453.3" x2="250.84" y2="453.3" stroke="#dcb0dc" stroke-width="1.5" />
<line x1="240.46" y1="453.3" x2="240.46" y2="460.8" stroke="#a2a6ea" stroke-width="2.3" />
<line x1="240.46" y1="460.8" x2="240.46" y2="468.3" stroke="#f0cdee" stroke-width="2.3" />
<line x1="250.84" y1="453.3" x2="256.03" y2="453.3" stroke="#dcb0dc" stroke-width="1.5" />
<line x1="256.03" y1="453.3" x2="261.22" y2="453.3" stroke="#9a9ade" stroke-width="1.5" />
<line x1="250.84" y1="453.3" x2="250.84" y2="460.8" stroke="#f0cdee" stroke-width="2.3" />
<line x1="250.84" y1="460.8" x2="250.84" y2="468.3" stroke="#a2a6ea" stroke-width="2.3" />
<line x1="261.22" y1="453.3" x2="266.41" y2="453.3" stroke="#9a9ade" stroke-width="1.5" />
<line x1="266.41" y1="453.3" x2="271.6" y2="453.3" stroke="#dcb0dc" stroke-width="1.5" />
<line x1="261.22" y1="453.3" x2="261.22" y2="460.8" stroke="#a2a6ea" stroke-width="2.3" />
<line x1="261.22" y1="460.8" x2="261.22" y2="468.3" stroke="#f0cdee" stroke-width="2.3" />
<line x1="271.6" y1="453.3" x2="276.79" y2="453.3" stroke="#dcb0dc" stroke-width="1.5" />
<line x1="276.79" y1="453.3" x2="281.98" y2="453.3" stroke="#9a9ade" stroke-width="1.5" />
<line x1="271.6" y1="453.3" x2="271.6" y2="460.8" stroke="#f0cdee" stroke-width="2.3" />
<line x1="271.6" y1="460.8" x2="271.6" y2="468.3" stroke="#a2a6ea" stroke-width="2.3" />
<line x1="281.98" y1="453.3" x2="281.98" y2="460.8" stroke="#a2a6ea" stroke-width="2.3" />
<line x1="281.98" y1="460.8" x2="281.98" y2="468.3" stroke="#f0cdee" stroke-width="2.3" />
<line x1="219.7" y1="468.3" x2="224.89" y2="468.3" stroke="#dcb0dc" stroke-width="1.5" />
<line x1="224.89" y1="468.3" x2="230.08" y2="468.3" stroke="#9a9ade" stroke-width="1.5" />
<line x1="219.7" y1="468.3" x2="219.7" y2="475.65" stroke="#f0cdee" stroke-width="2.3" />
<line x1="219.7" y1="475.65" x2="219.7" y2="483" stroke="#a2a6ea" stroke-width="2.3" />
<line x1="230.08" y1="468.3" x2="235.27" y2="468.3" stroke="#9a9ade" stroke-width="1.5" />
<line x1="235.27" y1="468.3" x2="240.46" y2="468.3" stroke="#dcb0dc" stroke-width="1.5" />
<line x1="230.08" y1="468.3" x2="230.08" y2="475.65" stroke="#a2a6ea" stroke-width="2.3" />
<line x1="230.08" y1="475.65" x2="230.08" y2="483" stroke="#f0cdee" stroke-width="2.3" />
<line x1="240.46" y1="468.3" x2="245.65" y2="468.3" stroke="#dcb0dc" stroke-width="1.5" />
<line x1="245.65" y1="468.3" x2="250.84" y2="468.3" stroke="#9a9ade" stroke-width="1.5" />
<line x1="240.46" y1="468.3" x2="240.46" y2="475.65" stroke="#f0cdee" stroke-width="2.3" />
<line x1="240.46" y1="475.65" x2="240.46" y2="483" stroke="#a2a6ea" stroke-width="2.3" />
<line x1="250.84" y1="468.3" x2="256.03" y2="468.3" stroke="#9a9ade" stroke-width="1.5" />
<line x1="256.03" y1="468.3" x2="261.22" y2="468.3" stroke="#dcb0dc" stroke-width="1.5" />
<line x1="250.84" y1="468.3" x2="250.84" y2="475.65" stroke="#a2a6ea" stroke-width="2.3" />
<line x1="250.84" y1="475.65" x2="250.84" y2="483" stroke="#f0cdee" stroke-width="2.3" />
<line x1="261.22" y1="468.3" x2="266.41" y2="468.3" stroke="#dcb0dc" stroke-width="1.5" />
<line x1="266.41" y1="468.3" x2="271.6" y2="468.3" stroke="#9a9ade" stroke-width="1.5" />
<line x1="261.22" y1="468.3" x2="261.22" y2="475.65" stroke="#f0cdee" stroke-width="2.3" />
<line x1="261.22" y1="475.65" x2="261.22" y2="483" stroke="#a2a6ea" stroke-width="2.3" />
<line x1="271.6" y1="468.3" x2="276.79" y2="468.3" stroke="#9a9ade" stroke-width="1.5" />
<line x1="276.79" y1="468.3" x2="281.98" y2="468.3" stroke="#dcb0dc" stroke-width="1.5" />
<line x1="271.6" y1="468.3" x2="271.6" y2="475.65" stroke="#a2a6ea" stroke-width="2.3" />
<line x1="271.6" y1="475.65" x2="271.6" y2="483" stroke="#f0cdee" stroke-width="2.3" />
<line x1="281.98" y1="468.3" x2="281.98" y2="475.65" stroke="#f0cdee" stroke-width="2.3" />
<line x1="281.98" y1="475.65" x2="281.98" y2="483" stroke="#a2a6ea" stroke-width="2.3" />
<line x1="219.7" y1="483" x2="224.89" y2="483" stroke="#9a9ade" stroke-width="1.5" />
<line x1="224.89" y1="483" x2="230.08" y2="483" stroke="#dcb0dc" stroke-width="1.5" />
<line x1="230.08" y1="483" x2="235.27" y2="483" stroke="#dcb0dc" stroke-width="1.5" />
<line x1="235.27" y1="483" x2="240.46" y2="483" stroke="#9a9ade" stroke-width="1.5" />
<line x1="240.46" y1="483" x2="245.65" y2="483" stroke="#9a9ade" stroke-width="1.5" />
<line x1="245.65" y1="483" x2="250.84" y2="483" stroke="#dcb0dc" stroke-width="1.5" />
<line x1="250.84" y1="483" x2="256.03" y2="483" stroke="#dcb0dc" stroke-width="1.5" />
<line x1="256.03" y1="483" x2="261.22" y2="483" stroke="#9a9ade" stroke-width="1.5" />
<line x1="261.22" y1="483" x2="266.41" y2="483" stroke="#9a9ade" stroke-width="1.5" />
<line x1="266.41" y1="483" x2="271.6" y2="483" stroke="#dcb0dc" stroke-width="1.5" />
<line x1="271.6" y1="483" x2="276.79" y2="483" stroke="#dcb0dc" stroke-width="1.5" />
<line x1="276.79" y1="483" x2="281.98" y2="483" stroke="#9a9ade" stroke-width="1.5" />
<circle cx="228.78" cy="453.6" r="2.0" fill="#fbf0fb" stroke="#c994c9" stroke-width="1"/>
<circle cx="231.38" cy="453.1" r="2.0" fill="#fbf0fb" stroke="#c994c9" stroke-width="1"/>
<circle cx="249.54" cy="453.6" r="2.0" fill="#fbf0fb" stroke="#c994c9" stroke-width="1"/>
<circle cx="252.14" cy="453.1" r="2.0" fill="#fbf0fb" stroke="#c994c9" stroke-width="1"/>
<circle cx="270.3" cy="453.6" r="2.0" fill="#fbf0fb" stroke="#c994c9" stroke-width="1"/>
<circle cx="272.9" cy="453.1" r="2.0" fill="#fbf0fb" stroke="#c994c9" stroke-width="1"/>
<circle cx="219.7" cy="468.3" r="2.0" fill="#fbf0fb" stroke="#c994c9" stroke-width="1"/>
<circle cx="240.46" cy="468.3" r="2.0" fill="#fbf0fb" stroke="#c994c9" stroke-width="1"/>
<circle cx="261.22" cy="468.3" r="2.0" fill="#fbf0fb" stroke="#c994c9" stroke-width="1"/>
<circle cx="281.98" cy="468.3" r="2.0" fill="#fbf0fb" stroke="#c994c9" stroke-width="1"/>
<circle cx="230.08" cy="483" r="2.0" fill="#fbf0fb" stroke="#c994c9" stroke-width="1"/>
<circle cx="250.84" cy="483" r="2.0" fill="#fbf0fb" stroke="#c994c9" stroke-width="1"/>
<circle cx="271.6" cy="483" r="2.0" fill="#fbf0fb" stroke="#c994c9" stroke-width="1"/>
<circle cx="219.7" cy="453.3" r="3.6" fill="url(#gni)"/>
<circle cx="240.46" cy="453.3" r="3.6" fill="url(#gni)"/>
<circle cx="261.22" cy="453.3" r="3.6" fill="url(#gni)"/>
<circle cx="281.98" cy="453.3" r="3.6" fill="url(#gni)"/>
<circle cx="230.08" cy="468.3" r="3.6" fill="url(#gni)"/>
<circle cx="250.84" cy="468.3" r="3.6" fill="url(#gni)"/>
<circle cx="271.6" cy="468.3" r="3.6" fill="url(#gni)"/>
<circle cx="219.7" cy="483" r="3.6" fill="url(#gni)"/>
<circle cx="240.46" cy="483" r="3.6" fill="url(#gni)"/>
<circle cx="261.22" cy="483" r="3.6" fill="url(#gni)"/>
<circle cx="281.98" cy="483" r="3.6" fill="url(#gni)"/>
<line x1="317.3" y1="453.3" x2="322.58" y2="453.3" stroke="#9a9ade" stroke-width="1.5" />
<line x1="322.58" y1="453.3" x2="327.85" y2="453.3" stroke="#dcb0dc" stroke-width="1.5" />
<line x1="317.3" y1="453.3" x2="317.3" y2="460.8" stroke="#a2a6ea" stroke-width="2.3" />
<line x1="317.3" y1="460.8" x2="317.3" y2="468.3" stroke="#f0cdee" stroke-width="2.3" />
<line x1="327.85" y1="453.3" x2="333.12" y2="453.3" stroke="#dcb0dc" stroke-width="1.5" />
<line x1="333.12" y1="453.3" x2="338.4" y2="453.3" stroke="#9a9ade" stroke-width="1.5" />
<line x1="327.85" y1="453.3" x2="327.85" y2="460.8" stroke="#f0cdee" stroke-width="2.3" />
<line x1="327.85" y1="460.8" x2="327.85" y2="468.3" stroke="#a2a6ea" stroke-width="2.3" />
<line x1="338.4" y1="453.3" x2="343.68" y2="453.3" stroke="#9a9ade" stroke-width="1.5" />
<line x1="343.68" y1="453.3" x2="348.95" y2="453.3" stroke="#dcb0dc" stroke-width="1.5" />
<line x1="338.4" y1="453.3" x2="338.4" y2="460.8" stroke="#a2a6ea" stroke-width="2.3" />
<line x1="338.4" y1="460.8" x2="338.4" y2="468.3" stroke="#f0cdee" stroke-width="2.3" />
<line x1="348.95" y1="453.3" x2="354.23" y2="453.3" stroke="#dcb0dc" stroke-width="1.5" />
<line x1="354.23" y1="453.3" x2="359.5" y2="453.3" stroke="#9a9ade" stroke-width="1.5" />
<line x1="348.95" y1="453.3" x2="348.95" y2="460.8" stroke="#f0cdee" stroke-width="2.3" />
<line x1="348.95" y1="460.8" x2="348.95" y2="468.3" stroke="#a2a6ea" stroke-width="2.3" />
<line x1="359.5" y1="453.3" x2="364.77" y2="453.3" stroke="#9a9ade" stroke-width="1.5" />
<line x1="364.77" y1="453.3" x2="370.05" y2="453.3" stroke="#dcb0dc" stroke-width="1.5" />
<line x1="359.5" y1="453.3" x2="359.5" y2="460.8" stroke="#a2a6ea" stroke-width="2.3" />
<line x1="359.5" y1="460.8" x2="359.5" y2="468.3" stroke="#f0cdee" stroke-width="2.3" />
<line x1="370.05" y1="453.3" x2="375.33" y2="453.3" stroke="#dcb0dc" stroke-width="1.5" />
<line x1="375.33" y1="453.3" x2="380.6" y2="453.3" stroke="#9a9ade" stroke-width="1.5" />
<line x1="370.05" y1="453.3" x2="370.05" y2="460.8" stroke="#f0cdee" stroke-width="2.3" />
<line x1="370.05" y1="460.8" x2="370.05" y2="468.3" stroke="#a2a6ea" stroke-width="2.3" />
<line x1="380.6" y1="453.3" x2="380.6" y2="460.8" stroke="#a2a6ea" stroke-width="2.3" />
<line x1="380.6" y1="460.8" x2="380.6" y2="468.3" stroke="#f0cdee" stroke-width="2.3" />
<line x1="317.3" y1="468.3" x2="322.58" y2="468.3" stroke="#dcb0dc" stroke-width="1.5" />
<line x1="322.58" y1="468.3" x2="327.85" y2="468.3" stroke="#9a9ade" stroke-width="1.5" />
<line x1="317.3" y1="468.3" x2="317.3" y2="475.65" stroke="#f0cdee" stroke-width="2.3" />
<line x1="317.3" y1="475.65" x2="317.3" y2="483" stroke="#a2a6ea" stroke-width="2.3" />
<line x1="327.85" y1="468.3" x2="333.12" y2="468.3" stroke="#9a9ade" stroke-width="1.5" />
<line x1="333.12" y1="468.3" x2="338.4" y2="468.3" stroke="#dcb0dc" stroke-width="1.5" />
<line x1="327.85" y1="468.3" x2="327.85" y2="475.65" stroke="#a2a6ea" stroke-width="2.3" />
<line x1="327.85" y1="475.65" x2="327.85" y2="483" stroke="#f0cdee" stroke-width="2.3" />
<line x1="338.4" y1="468.3" x2="343.68" y2="468.3" stroke="#dcb0dc" stroke-width="1.5" />
<line x1="343.68" y1="468.3" x2="348.95" y2="468.3" stroke="#9a9ade" stroke-width="1.5" />
<line x1="338.4" y1="468.3" x2="338.4" y2="475.65" stroke="#f0cdee" stroke-width="2.3" />
<line x1="338.4" y1="475.65" x2="338.4" y2="483" stroke="#a2a6ea" stroke-width="2.3" />
<line x1="348.95" y1="468.3" x2="354.23" y2="468.3" stroke="#9a9ade" stroke-width="1.5" />
<line x1="354.23" y1="468.3" x2="359.5" y2="468.3" stroke="#dcb0dc" stroke-width="1.5" />
<line x1="348.95" y1="468.3" x2="348.95" y2="475.65" stroke="#a2a6ea" stroke-width="2.3" />
<line x1="348.95" y1="475.65" x2="348.95" y2="483" stroke="#f0cdee" stroke-width="2.3" />
<line x1="359.5" y1="468.3" x2="364.77" y2="468.3" stroke="#dcb0dc" stroke-width="1.5" />
<line x1="364.77" y1="468.3" x2="370.05" y2="468.3" stroke="#9a9ade" stroke-width="1.5" />
<line x1="359.5" y1="468.3" x2="359.5" y2="475.65" stroke="#f0cdee" stroke-width="2.3" />
<line x1="359.5" y1="475.65" x2="359.5" y2="483" stroke="#a2a6ea" stroke-width="2.3" />
<line x1="370.05" y1="468.3" x2="375.33" y2="468.3" stroke="#9a9ade" stroke-width="1.5" />
<line x1="375.33" y1="468.3" x2="380.6" y2="468.3" stroke="#dcb0dc" stroke-width="1.5" />
<line x1="370.05" y1="468.3" x2="370.05" y2="475.65" stroke="#a2a6ea" stroke-width="2.3" />
<line x1="370.05" y1="475.65" x2="370.05" y2="483" stroke="#f0cdee" stroke-width="2.3" />
<line x1="380.6" y1="468.3" x2="380.6" y2="475.65" stroke="#f0cdee" stroke-width="2.3" />
<line x1="380.6" y1="475.65" x2="380.6" y2="483" stroke="#a2a6ea" stroke-width="2.3" />
<line x1="317.3" y1="483" x2="322.58" y2="483" stroke="#9a9ade" stroke-width="1.5" />
<line x1="322.58" y1="483" x2="327.85" y2="483" stroke="#dcb0dc" stroke-width="1.5" />
<line x1="327.85" y1="483" x2="333.12" y2="483" stroke="#dcb0dc" stroke-width="1.5" />
<line x1="333.12" y1="483" x2="338.4" y2="483" stroke="#9a9ade" stroke-width="1.5" />
<line x1="338.4" y1="483" x2="343.68" y2="483" stroke="#9a9ade" stroke-width="1.5" />
<line x1="343.68" y1="483" x2="348.95" y2="483" stroke="#dcb0dc" stroke-width="1.5" />
<line x1="348.95" y1="483" x2="354.23" y2="483" stroke="#dcb0dc" stroke-width="1.5" />
<line x1="354.23" y1="483" x2="359.5" y2="483" stroke="#9a9ade" stroke-width="1.5" />
<line x1="359.5" y1="483" x2="364.77" y2="483" stroke="#9a9ade" stroke-width="1.5" />
<line x1="364.77" y1="483" x2="370.05" y2="483" stroke="#dcb0dc" stroke-width="1.5" />
<line x1="370.05" y1="483" x2="375.33" y2="483" stroke="#dcb0dc" stroke-width="1.5" />
<line x1="375.33" y1="483" x2="380.6" y2="483" stroke="#9a9ade" stroke-width="1.5" />
<circle cx="326.55" cy="453.6" r="2.0" fill="#fbf0fb" stroke="#c994c9" stroke-width="1"/>
<circle cx="329.15" cy="453.1" r="2.0" fill="#fbf0fb" stroke="#c994c9" stroke-width="1"/>
<circle cx="347.65" cy="453.6" r="2.0" fill="#fbf0fb" stroke="#c994c9" stroke-width="1"/>
<circle cx="350.25" cy="453.1" r="2.0" fill="#fbf0fb" stroke="#c994c9" stroke-width="1"/>
<circle cx="368.75" cy="453.6" r="2.0" fill="#fbf0fb" stroke="#c994c9" stroke-width="1"/>
<circle cx="371.35" cy="453.1" r="2.0" fill="#fbf0fb" stroke="#c994c9" stroke-width="1"/>
<circle cx="317.3" cy="468.3" r="2.0" fill="#fbf0fb" stroke="#c994c9" stroke-width="1"/>
<circle cx="338.4" cy="468.3" r="2.0" fill="#fbf0fb" stroke="#c994c9" stroke-width="1"/>
<circle cx="359.5" cy="468.3" r="2.0" fill="#fbf0fb" stroke="#c994c9" stroke-width="1"/>
<circle cx="380.6" cy="468.3" r="2.0" fill="#fbf0fb" stroke="#c994c9" stroke-width="1"/>
<circle cx="327.85" cy="483" r="2.0" fill="#fbf0fb" stroke="#c994c9" stroke-width="1"/>
<circle cx="348.95" cy="483" r="2.0" fill="#fbf0fb" stroke="#c994c9" stroke-width="1"/>
<circle cx="370.05" cy="483" r="2.0" fill="#fbf0fb" stroke="#c994c9" stroke-width="1"/>
<circle cx="317.3" cy="453.3" r="3.6" fill="url(#gni)"/>
<circle cx="338.4" cy="453.3" r="3.6" fill="url(#gni)"/>
<circle cx="359.5" cy="453.3" r="3.6" fill="url(#gni)"/>
<circle cx="380.6" cy="453.3" r="3.6" fill="url(#gni)"/>
<circle cx="327.85" cy="468.3" r="3.6" fill="url(#gni)"/>
<circle cx="348.95" cy="468.3" r="3.6" fill="url(#gni)"/>
<circle cx="370.05" cy="468.3" r="3.6" fill="url(#gni)"/>
<circle cx="317.3" cy="483" r="3.6" fill="url(#gni)"/>
<circle cx="338.4" cy="483" r="3.6" fill="url(#gni)"/>
<circle cx="359.5" cy="483" r="3.6" fill="url(#gni)"/>
<circle cx="380.6" cy="483" r="3.6" fill="url(#gni)"/>
<line x1="413.5" y1="453.3" x2="418.79" y2="453.3" stroke="#9a9ade" stroke-width="1.5" />
<line x1="418.79" y1="453.3" x2="424.08" y2="453.3" stroke="#dcb0dc" stroke-width="1.5" />
<line x1="413.5" y1="453.3" x2="413.5" y2="460.8" stroke="#a2a6ea" stroke-width="2.3" />
<line x1="413.5" y1="460.8" x2="413.5" y2="468.3" stroke="#f0cdee" stroke-width="2.3" />
<line x1="424.08" y1="453.3" x2="429.37" y2="453.3" stroke="#dcb0dc" stroke-width="1.5" />
<line x1="429.37" y1="453.3" x2="434.66" y2="453.3" stroke="#9a9ade" stroke-width="1.5" />
<line x1="424.08" y1="453.3" x2="424.08" y2="460.8" stroke="#f0cdee" stroke-width="2.3" />
<line x1="424.08" y1="460.8" x2="424.08" y2="468.3" stroke="#a2a6ea" stroke-width="2.3" />
<line x1="434.66" y1="453.3" x2="439.95" y2="453.3" stroke="#9a9ade" stroke-width="1.5" />
<line x1="439.95" y1="453.3" x2="445.24" y2="453.3" stroke="#dcb0dc" stroke-width="1.5" />
<line x1="434.66" y1="453.3" x2="434.66" y2="460.8" stroke="#a2a6ea" stroke-width="2.3" />
<line x1="434.66" y1="460.8" x2="434.66" y2="468.3" stroke="#f0cdee" stroke-width="2.3" />
<line x1="445.24" y1="453.3" x2="450.53" y2="453.3" stroke="#dcb0dc" stroke-width="1.5" />
<line x1="450.53" y1="453.3" x2="455.82" y2="453.3" stroke="#9a9ade" stroke-width="1.5" />
<line x1="445.24" y1="453.3" x2="445.24" y2="460.8" stroke="#f0cdee" stroke-width="2.3" />
<line x1="445.24" y1="460.8" x2="445.24" y2="468.3" stroke="#a2a6ea" stroke-width="2.3" />
<line x1="455.82" y1="453.3" x2="461.11" y2="453.3" stroke="#9a9ade" stroke-width="1.5" />
<line x1="461.11" y1="453.3" x2="466.4" y2="453.3" stroke="#dcb0dc" stroke-width="1.5" />
<line x1="455.82" y1="453.3" x2="455.82" y2="460.8" stroke="#a2a6ea" stroke-width="2.3" />
<line x1="455.82" y1="460.8" x2="455.82" y2="468.3" stroke="#f0cdee" stroke-width="2.3" />
<line x1="466.4" y1="453.3" x2="471.69" y2="453.3" stroke="#dcb0dc" stroke-width="1.5" />
<line x1="471.69" y1="453.3" x2="476.98" y2="453.3" stroke="#9a9ade" stroke-width="1.5" />
<line x1="466.4" y1="453.3" x2="466.4" y2="460.8" stroke="#f0cdee" stroke-width="2.3" />
<line x1="466.4" y1="460.8" x2="466.4" y2="468.3" stroke="#a2a6ea" stroke-width="2.3" />
<line x1="476.98" y1="453.3" x2="476.98" y2="460.8" stroke="#a2a6ea" stroke-width="2.3" />
<line x1="476.98" y1="460.8" x2="476.98" y2="468.3" stroke="#f0cdee" stroke-width="2.3" />
<line x1="413.5" y1="468.3" x2="418.79" y2="468.3" stroke="#dcb0dc" stroke-width="1.5" />
<line x1="418.79" y1="468.3" x2="424.08" y2="468.3" stroke="#9a9ade" stroke-width="1.5" />
<line x1="413.5" y1="468.3" x2="413.5" y2="475.65" stroke="#f0cdee" stroke-width="2.3" />
<line x1="413.5" y1="475.65" x2="413.5" y2="483" stroke="#a2a6ea" stroke-width="2.3" />
<line x1="424.08" y1="468.3" x2="429.37" y2="468.3" stroke="#9a9ade" stroke-width="1.5" />
<line x1="429.37" y1="468.3" x2="434.66" y2="468.3" stroke="#dcb0dc" stroke-width="1.5" />
<line x1="424.08" y1="468.3" x2="424.08" y2="475.65" stroke="#a2a6ea" stroke-width="2.3" />
<line x1="424.08" y1="475.65" x2="424.08" y2="483" stroke="#f0cdee" stroke-width="2.3" />
<line x1="434.66" y1="468.3" x2="439.95" y2="468.3" stroke="#dcb0dc" stroke-width="1.5" />
<line x1="439.95" y1="468.3" x2="445.24" y2="468.3" stroke="#9a9ade" stroke-width="1.5" />
<line x1="434.66" y1="468.3" x2="434.66" y2="475.65" stroke="#f0cdee" stroke-width="2.3" />
<line x1="434.66" y1="475.65" x2="434.66" y2="483" stroke="#a2a6ea" stroke-width="2.3" />
<line x1="445.24" y1="468.3" x2="450.53" y2="468.3" stroke="#9a9ade" stroke-width="1.5" />
<line x1="450.53" y1="468.3" x2="455.82" y2="468.3" stroke="#dcb0dc" stroke-width="1.5" />
<line x1="445.24" y1="468.3" x2="445.24" y2="475.65" stroke="#a2a6ea" stroke-width="2.3" />
<line x1="445.24" y1="475.65" x2="445.24" y2="483" stroke="#f0cdee" stroke-width="2.3" />
<line x1="455.82" y1="468.3" x2="461.11" y2="468.3" stroke="#dcb0dc" stroke-width="1.5" />
<line x1="461.11" y1="468.3" x2="466.4" y2="468.3" stroke="#9a9ade" stroke-width="1.5" />
<line x1="455.82" y1="468.3" x2="455.82" y2="475.65" stroke="#f0cdee" stroke-width="2.3" />
<line x1="455.82" y1="475.65" x2="455.82" y2="483" stroke="#a2a6ea" stroke-width="2.3" />
<line x1="466.4" y1="468.3" x2="471.69" y2="468.3" stroke="#9a9ade" stroke-width="1.5" />
<line x1="471.69" y1="468.3" x2="476.98" y2="468.3" stroke="#dcb0dc" stroke-width="1.5" />
<line x1="466.4" y1="468.3" x2="466.4" y2="475.65" stroke="#a2a6ea" stroke-width="2.3" />
<line x1="466.4" y1="475.65" x2="466.4" y2="483" stroke="#f0cdee" stroke-width="2.3" />
<line x1="476.98" y1="468.3" x2="476.98" y2="475.65" stroke="#f0cdee" stroke-width="2.3" />
<line x1="476.98" y1="475.65" x2="476.98" y2="483" stroke="#a2a6ea" stroke-width="2.3" />
<line x1="413.5" y1="483" x2="418.79" y2="483" stroke="#9a9ade" stroke-width="1.5" />
<line x1="418.79" y1="483" x2="424.08" y2="483" stroke="#dcb0dc" stroke-width="1.5" />
<line x1="424.08" y1="483" x2="429.37" y2="483" stroke="#dcb0dc" stroke-width="1.5" />
<line x1="429.37" y1="483" x2="434.66" y2="483" stroke="#9a9ade" stroke-width="1.5" />
<line x1="434.66" y1="483" x2="439.95" y2="483" stroke="#9a9ade" stroke-width="1.5" />
<line x1="439.95" y1="483" x2="445.24" y2="483" stroke="#dcb0dc" stroke-width="1.5" />
<line x1="445.24" y1="483" x2="450.53" y2="483" stroke="#dcb0dc" stroke-width="1.5" />
<line x1="450.53" y1="483" x2="455.82" y2="483" stroke="#9a9ade" stroke-width="1.5" />
<line x1="455.82" y1="483" x2="461.11" y2="483" stroke="#9a9ade" stroke-width="1.5" />
<line x1="461.11" y1="483" x2="466.4" y2="483" stroke="#dcb0dc" stroke-width="1.5" />
<line x1="466.4" y1="483" x2="471.69" y2="483" stroke="#dcb0dc" stroke-width="1.5" />
<line x1="471.69" y1="483" x2="476.98" y2="483" stroke="#9a9ade" stroke-width="1.5" />
<circle cx="422.78" cy="453.6" r="2.0" fill="#fbf0fb" stroke="#c994c9" stroke-width="1"/>
<circle cx="425.38" cy="453.1" r="2.0" fill="#fbf0fb" stroke="#c994c9" stroke-width="1"/>
<circle cx="443.94" cy="453.6" r="2.0" fill="#fbf0fb" stroke="#c994c9" stroke-width="1"/>
<circle cx="446.54" cy="453.1" r="2.0" fill="#fbf0fb" stroke="#c994c9" stroke-width="1"/>
<circle cx="465.1" cy="453.6" r="2.0" fill="#fbf0fb" stroke="#c994c9" stroke-width="1"/>
<circle cx="467.7" cy="453.1" r="2.0" fill="#fbf0fb" stroke="#c994c9" stroke-width="1"/>
<circle cx="413.5" cy="468.3" r="2.0" fill="#fbf0fb" stroke="#c994c9" stroke-width="1"/>
<circle cx="434.66" cy="468.3" r="2.0" fill="#fbf0fb" stroke="#c994c9" stroke-width="1"/>
<circle cx="455.82" cy="468.3" r="2.0" fill="#fbf0fb" stroke="#c994c9" stroke-width="1"/>
<circle cx="476.98" cy="468.3" r="2.0" fill="#fbf0fb" stroke="#c994c9" stroke-width="1"/>
<circle cx="424.08" cy="483" r="2.0" fill="#fbf0fb" stroke="#c994c9" stroke-width="1"/>
<circle cx="445.24" cy="483" r="2.0" fill="#fbf0fb" stroke="#c994c9" stroke-width="1"/>
<circle cx="466.4" cy="483" r="2.0" fill="#fbf0fb" stroke="#c994c9" stroke-width="1"/>
<circle cx="413.5" cy="453.3" r="3.6" fill="url(#gni)"/>
<circle cx="434.66" cy="453.3" r="3.6" fill="url(#gni)"/>
<circle cx="455.82" cy="453.3" r="3.6" fill="url(#gni)"/>
<circle cx="476.98" cy="453.3" r="3.6" fill="url(#gni)"/>
<circle cx="424.08" cy="468.3" r="3.6" fill="url(#gni)"/>
<circle cx="445.24" cy="468.3" r="3.6" fill="url(#gni)"/>
<circle cx="466.4" cy="468.3" r="3.6" fill="url(#gni)"/>
<circle cx="413.5" cy="483" r="3.6" fill="url(#gni)"/>
<circle cx="434.66" cy="483" r="3.6" fill="url(#gni)"/>
<circle cx="455.82" cy="483" r="3.6" fill="url(#gni)"/>
<circle cx="476.98" cy="483" r="3.6" fill="url(#gni)"/>
<line x1="510" y1="453.3" x2="515.23" y2="453.3" stroke="#9a9ade" stroke-width="1.5" />
<line x1="515.23" y1="453.3" x2="520.45" y2="453.3" stroke="#dcb0dc" stroke-width="1.5" />
<line x1="510" y1="453.3" x2="510" y2="460.8" stroke="#a2a6ea" stroke-width="2.3" />
<line x1="510" y1="460.8" x2="510" y2="468.3" stroke="#f0cdee" stroke-width="2.3" />
<line x1="520.45" y1="453.3" x2="525.68" y2="453.3" stroke="#dcb0dc" stroke-width="1.5" />
<line x1="525.68" y1="453.3" x2="530.9" y2="453.3" stroke="#9a9ade" stroke-width="1.5" />
<line x1="520.45" y1="453.3" x2="520.45" y2="460.8" stroke="#f0cdee" stroke-width="2.3" />
<line x1="520.45" y1="460.8" x2="520.45" y2="468.3" stroke="#a2a6ea" stroke-width="2.3" />
<line x1="530.9" y1="453.3" x2="536.12" y2="453.3" stroke="#9a9ade" stroke-width="1.5" />
<line x1="536.12" y1="453.3" x2="541.35" y2="453.3" stroke="#dcb0dc" stroke-width="1.5" />
<line x1="530.9" y1="453.3" x2="530.9" y2="460.8" stroke="#a2a6ea" stroke-width="2.3" />
<line x1="530.9" y1="460.8" x2="530.9" y2="468.3" stroke="#f0cdee" stroke-width="2.3" />
<line x1="541.35" y1="453.3" x2="546.58" y2="453.3" stroke="#dcb0dc" stroke-width="1.5" />
<line x1="546.58" y1="453.3" x2="551.8" y2="453.3" stroke="#9a9ade" stroke-width="1.5" />
<line x1="541.35" y1="453.3" x2="541.35" y2="460.8" stroke="#f0cdee" stroke-width="2.3" />
<line x1="541.35" y1="460.8" x2="541.35" y2="468.3" stroke="#a2a6ea" stroke-width="2.3" />
<line x1="551.8" y1="453.3" x2="557.02" y2="453.3" stroke="#9a9ade" stroke-width="1.5" />
<line x1="557.02" y1="453.3" x2="562.25" y2="453.3" stroke="#dcb0dc" stroke-width="1.5" />
<line x1="551.8" y1="453.3" x2="551.8" y2="460.8" stroke="#a2a6ea" stroke-width="2.3" />
<line x1="551.8" y1="460.8" x2="551.8" y2="468.3" stroke="#f0cdee" stroke-width="2.3" />
<line x1="562.25" y1="453.3" x2="567.48" y2="453.3" stroke="#dcb0dc" stroke-width="1.5" />
<line x1="567.48" y1="453.3" x2="572.7" y2="453.3" stroke="#9a9ade" stroke-width="1.5" />
<line x1="562.25" y1="453.3" x2="562.25" y2="460.8" stroke="#f0cdee" stroke-width="2.3" />
<line x1="562.25" y1="460.8" x2="562.25" y2="468.3" stroke="#a2a6ea" stroke-width="2.3" />
<line x1="572.7" y1="453.3" x2="572.7" y2="460.8" stroke="#a2a6ea" stroke-width="2.3" />
<line x1="572.7" y1="460.8" x2="572.7" y2="468.3" stroke="#f0cdee" stroke-width="2.3" />
<line x1="510" y1="468.3" x2="515.23" y2="468.3" stroke="#dcb0dc" stroke-width="1.5" />
<line x1="515.23" y1="468.3" x2="520.45" y2="468.3" stroke="#9a9ade" stroke-width="1.5" />
<line x1="510" y1="468.3" x2="510" y2="475.65" stroke="#f0cdee" stroke-width="2.3" />
<line x1="510" y1="475.65" x2="510" y2="483" stroke="#a2a6ea" stroke-width="2.3" />
<line x1="520.45" y1="468.3" x2="525.68" y2="468.3" stroke="#9a9ade" stroke-width="1.5" />
<line x1="525.68" y1="468.3" x2="530.9" y2="468.3" stroke="#dcb0dc" stroke-width="1.5" />
<line x1="520.45" y1="468.3" x2="520.45" y2="475.65" stroke="#a2a6ea" stroke-width="2.3" />
<line x1="520.45" y1="475.65" x2="520.45" y2="483" stroke="#f0cdee" stroke-width="2.3" />
<line x1="530.9" y1="468.3" x2="536.12" y2="468.3" stroke="#dcb0dc" stroke-width="1.5" />
<line x1="536.12" y1="468.3" x2="541.35" y2="468.3" stroke="#9a9ade" stroke-width="1.5" />
<line x1="530.9" y1="468.3" x2="530.9" y2="475.65" stroke="#f0cdee" stroke-width="2.3" />
<line x1="530.9" y1="475.65" x2="530.9" y2="483" stroke="#a2a6ea" stroke-width="2.3" />
<line x1="541.35" y1="468.3" x2="546.58" y2="468.3" stroke="#9a9ade" stroke-width="1.5" />
<line x1="546.58" y1="468.3" x2="551.8" y2="468.3" stroke="#dcb0dc" stroke-width="1.5" />
<line x1="541.35" y1="468.3" x2="541.35" y2="475.65" stroke="#a2a6ea" stroke-width="2.3" />
<line x1="541.35" y1="475.65" x2="541.35" y2="483" stroke="#f0cdee" stroke-width="2.3" />
<line x1="551.8" y1="468.3" x2="557.02" y2="468.3" stroke="#dcb0dc" stroke-width="1.5" />
<line x1="557.02" y1="468.3" x2="562.25" y2="468.3" stroke="#9a9ade" stroke-width="1.5" />
<line x1="551.8" y1="468.3" x2="551.8" y2="475.65" stroke="#f0cdee" stroke-width="2.3" />
<line x1="551.8" y1="475.65" x2="551.8" y2="483" stroke="#a2a6ea" stroke-width="2.3" />
<line x1="562.25" y1="468.3" x2="567.48" y2="468.3" stroke="#9a9ade" stroke-width="1.5" />
<line x1="567.48" y1="468.3" x2="572.7" y2="468.3" stroke="#dcb0dc" stroke-width="1.5" />
<line x1="562.25" y1="468.3" x2="562.25" y2="475.65" stroke="#a2a6ea" stroke-width="2.3" />
<line x1="562.25" y1="475.65" x2="562.25" y2="483" stroke="#f0cdee" stroke-width="2.3" />
<line x1="572.7" y1="468.3" x2="572.7" y2="475.65" stroke="#f0cdee" stroke-width="2.3" />
<line x1="572.7" y1="475.65" x2="572.7" y2="483" stroke="#a2a6ea" stroke-width="2.3" />
<line x1="510" y1="483" x2="515.23" y2="483" stroke="#9a9ade" stroke-width="1.5" />
<line x1="515.23" y1="483" x2="520.45" y2="483" stroke="#dcb0dc" stroke-width="1.5" />
<line x1="520.45" y1="483" x2="525.68" y2="483" stroke="#dcb0dc" stroke-width="1.5" />
<line x1="525.68" y1="483" x2="530.9" y2="483" stroke="#9a9ade" stroke-width="1.5" />
<line x1="530.9" y1="483" x2="536.12" y2="483" stroke="#9a9ade" stroke-width="1.5" />
<line x1="536.12" y1="483" x2="541.35" y2="483" stroke="#dcb0dc" stroke-width="1.5" />
<line x1="541.35" y1="483" x2="546.58" y2="483" stroke="#dcb0dc" stroke-width="1.5" />
<line x1="546.58" y1="483" x2="551.8" y2="483" stroke="#9a9ade" stroke-width="1.5" />
<line x1="551.8" y1="483" x2="557.02" y2="483" stroke="#9a9ade" stroke-width="1.5" />
<line x1="557.02" y1="483" x2="562.25" y2="483" stroke="#dcb0dc" stroke-width="1.5" />
<line x1="562.25" y1="483" x2="567.48" y2="483" stroke="#dcb0dc" stroke-width="1.5" />
<line x1="567.48" y1="483" x2="572.7" y2="483" stroke="#9a9ade" stroke-width="1.5" />
<circle cx="519.15" cy="453.6" r="2.0" fill="#fbf0fb" stroke="#c994c9" stroke-width="1"/>
<circle cx="521.75" cy="453.1" r="2.0" fill="#fbf0fb" stroke="#c994c9" stroke-width="1"/>
<circle cx="540.05" cy="453.6" r="2.0" fill="#fbf0fb" stroke="#c994c9" stroke-width="1"/>
<circle cx="542.65" cy="453.1" r="2.0" fill="#fbf0fb" stroke="#c994c9" stroke-width="1"/>
<circle cx="560.95" cy="453.6" r="2.0" fill="#fbf0fb" stroke="#c994c9" stroke-width="1"/>
<circle cx="563.55" cy="453.1" r="2.0" fill="#fbf0fb" stroke="#c994c9" stroke-width="1"/>
<circle cx="510" cy="468.3" r="2.0" fill="#fbf0fb" stroke="#c994c9" stroke-width="1"/>
<circle cx="530.9" cy="468.3" r="2.0" fill="#fbf0fb" stroke="#c994c9" stroke-width="1"/>
<circle cx="551.8" cy="468.3" r="2.0" fill="#fbf0fb" stroke="#c994c9" stroke-width="1"/>
<circle cx="572.7" cy="468.3" r="2.0" fill="#fbf0fb" stroke="#c994c9" stroke-width="1"/>
<circle cx="520.45" cy="483" r="2.0" fill="#fbf0fb" stroke="#c994c9" stroke-width="1"/>
<circle cx="541.35" cy="483" r="2.0" fill="#fbf0fb" stroke="#c994c9" stroke-width="1"/>
<circle cx="562.25" cy="483" r="2.0" fill="#fbf0fb" stroke="#c994c9" stroke-width="1"/>
<circle cx="510" cy="453.3" r="3.6" fill="url(#gni)"/>
<circle cx="530.9" cy="453.3" r="3.6" fill="url(#gni)"/>
<circle cx="551.8" cy="453.3" r="3.6" fill="url(#gni)"/>
<circle cx="572.7" cy="453.3" r="3.6" fill="url(#gni)"/>
<circle cx="520.45" cy="468.3" r="3.6" fill="url(#gni)"/>
<circle cx="541.35" cy="468.3" r="3.6" fill="url(#gni)"/>
<circle cx="562.25" cy="468.3" r="3.6" fill="url(#gni)"/>
<circle cx="510" cy="483" r="3.6" fill="url(#gni)"/>
<circle cx="530.9" cy="483" r="3.6" fill="url(#gni)"/>
<circle cx="551.8" cy="483" r="3.6" fill="url(#gni)"/>
<circle cx="572.7" cy="483" r="3.6" fill="url(#gni)"/>
<line x1="601.2" y1="453.3" x2="606.59" y2="453.3" stroke="#9a9ade" stroke-width="1.5" />
<line x1="606.59" y1="453.3" x2="611.98" y2="453.3" stroke="#dcb0dc" stroke-width="1.5" />
<line x1="601.2" y1="453.3" x2="601.2" y2="460.8" stroke="#a2a6ea" stroke-width="2.3" />
<line x1="601.2" y1="460.8" x2="601.2" y2="468.3" stroke="#f0cdee" stroke-width="2.3" />
<line x1="611.98" y1="453.3" x2="617.37" y2="453.3" stroke="#dcb0dc" stroke-width="1.5" />
<line x1="617.37" y1="453.3" x2="622.76" y2="453.3" stroke="#9a9ade" stroke-width="1.5" />
<line x1="611.98" y1="453.3" x2="611.98" y2="460.8" stroke="#f0cdee" stroke-width="2.3" />
<line x1="611.98" y1="460.8" x2="611.98" y2="468.3" stroke="#a2a6ea" stroke-width="2.3" />
<line x1="622.76" y1="453.3" x2="628.15" y2="453.3" stroke="#9a9ade" stroke-width="1.5" />
<line x1="628.15" y1="453.3" x2="633.54" y2="453.3" stroke="#dcb0dc" stroke-width="1.5" />
<line x1="622.76" y1="453.3" x2="622.76" y2="460.8" stroke="#a2a6ea" stroke-width="2.3" />
<line x1="622.76" y1="460.8" x2="622.76" y2="468.3" stroke="#f0cdee" stroke-width="2.3" />
<line x1="633.54" y1="453.3" x2="638.93" y2="453.3" stroke="#dcb0dc" stroke-width="1.5" />
<line x1="638.93" y1="453.3" x2="644.32" y2="453.3" stroke="#9a9ade" stroke-width="1.5" />
<line x1="633.54" y1="453.3" x2="633.54" y2="460.8" stroke="#f0cdee" stroke-width="2.3" />
<line x1="633.54" y1="460.8" x2="633.54" y2="468.3" stroke="#a2a6ea" stroke-width="2.3" />
<line x1="644.32" y1="453.3" x2="649.71" y2="453.3" stroke="#9a9ade" stroke-width="1.5" />
<line x1="649.71" y1="453.3" x2="655.1" y2="453.3" stroke="#dcb0dc" stroke-width="1.5" />
<line x1="644.32" y1="453.3" x2="644.32" y2="460.8" stroke="#a2a6ea" stroke-width="2.3" />
<line x1="644.32" y1="460.8" x2="644.32" y2="468.3" stroke="#f0cdee" stroke-width="2.3" />
<line x1="655.1" y1="453.3" x2="660.49" y2="453.3" stroke="#dcb0dc" stroke-width="1.5" />
<line x1="660.49" y1="453.3" x2="665.88" y2="453.3" stroke="#9a9ade" stroke-width="1.5" />
<line x1="655.1" y1="453.3" x2="655.1" y2="460.8" stroke="#f0cdee" stroke-width="2.3" />
<line x1="655.1" y1="460.8" x2="655.1" y2="468.3" stroke="#a2a6ea" stroke-width="2.3" />
<line x1="665.88" y1="453.3" x2="665.88" y2="460.8" stroke="#a2a6ea" stroke-width="2.3" />
<line x1="665.88" y1="460.8" x2="665.88" y2="468.3" stroke="#f0cdee" stroke-width="2.3" />
<line x1="601.2" y1="468.3" x2="606.59" y2="468.3" stroke="#dcb0dc" stroke-width="1.5" />
<line x1="606.59" y1="468.3" x2="611.98" y2="468.3" stroke="#9a9ade" stroke-width="1.5" />
<line x1="601.2" y1="468.3" x2="601.2" y2="475.65" stroke="#f0cdee" stroke-width="2.3" />
<line x1="601.2" y1="475.65" x2="601.2" y2="483" stroke="#a2a6ea" stroke-width="2.3" />
<line x1="611.98" y1="468.3" x2="617.37" y2="468.3" stroke="#9a9ade" stroke-width="1.5" />
<line x1="617.37" y1="468.3" x2="622.76" y2="468.3" stroke="#dcb0dc" stroke-width="1.5" />
<line x1="611.98" y1="468.3" x2="611.98" y2="475.65" stroke="#a2a6ea" stroke-width="2.3" />
<line x1="611.98" y1="475.65" x2="611.98" y2="483" stroke="#f0cdee" stroke-width="2.3" />
<line x1="622.76" y1="468.3" x2="628.15" y2="468.3" stroke="#dcb0dc" stroke-width="1.5" />
<line x1="628.15" y1="468.3" x2="633.54" y2="468.3" stroke="#9a9ade" stroke-width="1.5" />
<line x1="622.76" y1="468.3" x2="622.76" y2="475.65" stroke="#f0cdee" stroke-width="2.3" />
<line x1="622.76" y1="475.65" x2="622.76" y2="483" stroke="#a2a6ea" stroke-width="2.3" />
<line x1="633.54" y1="468.3" x2="638.93" y2="468.3" stroke="#9a9ade" stroke-width="1.5" />
<line x1="638.93" y1="468.3" x2="644.32" y2="468.3" stroke="#dcb0dc" stroke-width="1.5" />
<line x1="633.54" y1="468.3" x2="633.54" y2="475.65" stroke="#a2a6ea" stroke-width="2.3" />
<line x1="633.54" y1="475.65" x2="633.54" y2="483" stroke="#f0cdee" stroke-width="2.3" />
<line x1="644.32" y1="468.3" x2="649.71" y2="468.3" stroke="#dcb0dc" stroke-width="1.5" />
<line x1="649.71" y1="468.3" x2="655.1" y2="468.3" stroke="#9a9ade" stroke-width="1.5" />
<line x1="644.32" y1="468.3" x2="644.32" y2="475.65" stroke="#f0cdee" stroke-width="2.3" />
<line x1="644.32" y1="475.65" x2="644.32" y2="483" stroke="#a2a6ea" stroke-width="2.3" />
<line x1="655.1" y1="468.3" x2="660.49" y2="468.3" stroke="#9a9ade" stroke-width="1.5" />
<line x1="660.49" y1="468.3" x2="665.88" y2="468.3" stroke="#dcb0dc" stroke-width="1.5" />
<line x1="655.1" y1="468.3" x2="655.1" y2="475.65" stroke="#a2a6ea" stroke-width="2.3" />
<line x1="655.1" y1="475.65" x2="655.1" y2="483" stroke="#f0cdee" stroke-width="2.3" />
<line x1="665.88" y1="468.3" x2="665.88" y2="475.65" stroke="#f0cdee" stroke-width="2.3" />
<line x1="665.88" y1="475.65" x2="665.88" y2="483" stroke="#a2a6ea" stroke-width="2.3" />
<line x1="601.2" y1="483" x2="606.59" y2="483" stroke="#9a9ade" stroke-width="1.5" />
<line x1="606.59" y1="483" x2="611.98" y2="483" stroke="#dcb0dc" stroke-width="1.5" />
<line x1="611.98" y1="483" x2="617.37" y2="483" stroke="#dcb0dc" stroke-width="1.5" />
<line x1="617.37" y1="483" x2="622.76" y2="483" stroke="#9a9ade" stroke-width="1.5" />
<line x1="622.76" y1="483" x2="628.15" y2="483" stroke="#9a9ade" stroke-width="1.5" />
<line x1="628.15" y1="483" x2="633.54" y2="483" stroke="#dcb0dc" stroke-width="1.5" />
<line x1="633.54" y1="483" x2="638.93" y2="483" stroke="#dcb0dc" stroke-width="1.5" />
<line x1="638.93" y1="483" x2="644.32" y2="483" stroke="#9a9ade" stroke-width="1.5" />
<line x1="644.32" y1="483" x2="649.71" y2="483" stroke="#9a9ade" stroke-width="1.5" />
<line x1="649.71" y1="483" x2="655.1" y2="483" stroke="#dcb0dc" stroke-width="1.5" />
<line x1="655.1" y1="483" x2="660.49" y2="483" stroke="#dcb0dc" stroke-width="1.5" />
<line x1="660.49" y1="483" x2="665.88" y2="483" stroke="#9a9ade" stroke-width="1.5" />
<circle cx="610.68" cy="453.6" r="2.0" fill="#fbf0fb" stroke="#c994c9" stroke-width="1"/>
<circle cx="613.28" cy="453.1" r="2.0" fill="#fbf0fb" stroke="#c994c9" stroke-width="1"/>
<circle cx="632.24" cy="453.6" r="2.0" fill="#fbf0fb" stroke="#c994c9" stroke-width="1"/>
<circle cx="634.84" cy="453.1" r="2.0" fill="#fbf0fb" stroke="#c994c9" stroke-width="1"/>
<circle cx="653.8" cy="453.6" r="2.0" fill="#fbf0fb" stroke="#c994c9" stroke-width="1"/>
<circle cx="656.4" cy="453.1" r="2.0" fill="#fbf0fb" stroke="#c994c9" stroke-width="1"/>
<circle cx="601.2" cy="468.3" r="2.0" fill="#fbf0fb" stroke="#c994c9" stroke-width="1"/>
<circle cx="622.76" cy="468.3" r="2.0" fill="#fbf0fb" stroke="#c994c9" stroke-width="1"/>
<circle cx="644.32" cy="468.3" r="2.0" fill="#fbf0fb" stroke="#c994c9" stroke-width="1"/>
<circle cx="665.88" cy="468.3" r="2.0" fill="#fbf0fb" stroke="#c994c9" stroke-width="1"/>
<circle cx="611.98" cy="483" r="2.0" fill="#fbf0fb" stroke="#c994c9" stroke-width="1"/>
<circle cx="633.54" cy="483" r="2.0" fill="#fbf0fb" stroke="#c994c9" stroke-width="1"/>
<circle cx="655.1" cy="483" r="2.0" fill="#fbf0fb" stroke="#c994c9" stroke-width="1"/>
<circle cx="601.2" cy="453.3" r="3.6" fill="url(#gni)"/>
<circle cx="622.76" cy="453.3" r="3.6" fill="url(#gni)"/>
<circle cx="644.32" cy="453.3" r="3.6" fill="url(#gni)"/>
<circle cx="665.88" cy="453.3" r="3.6" fill="url(#gni)"/>
<circle cx="611.98" cy="468.3" r="3.6" fill="url(#gni)"/>
<circle cx="633.54" cy="468.3" r="3.6" fill="url(#gni)"/>
<circle cx="655.1" cy="468.3" r="3.6" fill="url(#gni)"/>
<circle cx="601.2" cy="483" r="3.6" fill="url(#gni)"/>
<circle cx="622.76" cy="483" r="3.6" fill="url(#gni)"/>
<circle cx="644.32" cy="483" r="3.6" fill="url(#gni)"/>
<circle cx="665.88" cy="483" r="3.6" fill="url(#gni)"/>
<line x1="32" y1="543.5" x2="37.19" y2="543.5" stroke="#9a9ade" stroke-width="1.5" />
<line x1="37.19" y1="543.5" x2="42.37" y2="543.5" stroke="#dcb0dc" stroke-width="1.5" />
<line x1="32" y1="543.5" x2="32" y2="551" stroke="#a2a6ea" stroke-width="2.3" />
<line x1="32" y1="551" x2="32" y2="558.5" stroke="#f0cdee" stroke-width="2.3" />
<line x1="42.37" y1="543.5" x2="47.55" y2="543.5" stroke="#dcb0dc" stroke-width="1.5" />
<line x1="47.55" y1="543.5" x2="52.74" y2="543.5" stroke="#9a9ade" stroke-width="1.5" />
<line x1="42.37" y1="543.5" x2="42.37" y2="551" stroke="#f0cdee" stroke-width="2.3" />
<line x1="42.37" y1="551" x2="42.37" y2="558.5" stroke="#a2a6ea" stroke-width="2.3" />
<line x1="52.74" y1="543.5" x2="57.92" y2="543.5" stroke="#9a9ade" stroke-width="1.5" />
<line x1="57.92" y1="543.5" x2="63.11" y2="543.5" stroke="#dcb0dc" stroke-width="1.5" />
<line x1="52.74" y1="543.5" x2="52.74" y2="551" stroke="#a2a6ea" stroke-width="2.3" />
<line x1="52.74" y1="551" x2="52.74" y2="558.5" stroke="#f0cdee" stroke-width="2.3" />
<line x1="63.11" y1="543.5" x2="68.3" y2="543.5" stroke="#dcb0dc" stroke-width="1.5" />
<line x1="68.3" y1="543.5" x2="73.48" y2="543.5" stroke="#9a9ade" stroke-width="1.5" />
<line x1="63.11" y1="543.5" x2="63.11" y2="551" stroke="#f0cdee" stroke-width="2.3" />
<line x1="63.11" y1="551" x2="63.11" y2="558.5" stroke="#a2a6ea" stroke-width="2.3" />
<line x1="73.48" y1="543.5" x2="78.66" y2="543.5" stroke="#9a9ade" stroke-width="1.5" />
<line x1="78.66" y1="543.5" x2="83.85" y2="543.5" stroke="#dcb0dc" stroke-width="1.5" />
<line x1="73.48" y1="543.5" x2="73.48" y2="551" stroke="#a2a6ea" stroke-width="2.3" />
<line x1="73.48" y1="551" x2="73.48" y2="558.5" stroke="#f0cdee" stroke-width="2.3" />
<line x1="83.85" y1="543.5" x2="89.03" y2="543.5" stroke="#dcb0dc" stroke-width="1.5" />
<line x1="89.03" y1="543.5" x2="94.22" y2="543.5" stroke="#9a9ade" stroke-width="1.5" />
<line x1="83.85" y1="543.5" x2="83.85" y2="551" stroke="#f0cdee" stroke-width="2.3" />
<line x1="83.85" y1="551" x2="83.85" y2="558.5" stroke="#a2a6ea" stroke-width="2.3" />
<line x1="94.22" y1="543.5" x2="94.22" y2="551" stroke="#a2a6ea" stroke-width="2.3" />
<line x1="94.22" y1="551" x2="94.22" y2="558.5" stroke="#f0cdee" stroke-width="2.3" />
<line x1="32" y1="558.5" x2="37.19" y2="558.5" stroke="#dcb0dc" stroke-width="1.5" />
<line x1="37.19" y1="558.5" x2="42.37" y2="558.5" stroke="#9a9ade" stroke-width="1.5" />
<line x1="32" y1="558.5" x2="32" y2="565.85" stroke="#f0cdee" stroke-width="2.3" />
<line x1="32" y1="565.85" x2="32" y2="573.2" stroke="#a2a6ea" stroke-width="2.3" />
<line x1="42.37" y1="558.5" x2="47.55" y2="558.5" stroke="#9a9ade" stroke-width="1.5" />
<line x1="47.55" y1="558.5" x2="52.74" y2="558.5" stroke="#dcb0dc" stroke-width="1.5" />
<line x1="42.37" y1="558.5" x2="42.37" y2="565.85" stroke="#a2a6ea" stroke-width="2.3" />
<line x1="42.37" y1="565.85" x2="42.37" y2="573.2" stroke="#f0cdee" stroke-width="2.3" />
<line x1="52.74" y1="558.5" x2="57.92" y2="558.5" stroke="#dcb0dc" stroke-width="1.5" />
<line x1="57.92" y1="558.5" x2="63.11" y2="558.5" stroke="#9a9ade" stroke-width="1.5" />
<line x1="52.74" y1="558.5" x2="52.74" y2="565.85" stroke="#f0cdee" stroke-width="2.3" />
<line x1="52.74" y1="565.85" x2="52.74" y2="573.2" stroke="#a2a6ea" stroke-width="2.3" />
<line x1="63.11" y1="558.5" x2="68.3" y2="558.5" stroke="#9a9ade" stroke-width="1.5" />
<line x1="68.3" y1="558.5" x2="73.48" y2="558.5" stroke="#dcb0dc" stroke-width="1.5" />
<line x1="63.11" y1="558.5" x2="63.11" y2="565.85" stroke="#a2a6ea" stroke-width="2.3" />
<line x1="63.11" y1="565.85" x2="63.11" y2="573.2" stroke="#f0cdee" stroke-width="2.3" />
<line x1="73.48" y1="558.5" x2="78.66" y2="558.5" stroke="#dcb0dc" stroke-width="1.5" />
<line x1="78.66" y1="558.5" x2="83.85" y2="558.5" stroke="#9a9ade" stroke-width="1.5" />
<line x1="73.48" y1="558.5" x2="73.48" y2="565.85" stroke="#f0cdee" stroke-width="2.3" />
<line x1="73.48" y1="565.85" x2="73.48" y2="573.2" stroke="#a2a6ea" stroke-width="2.3" />
<line x1="83.85" y1="558.5" x2="89.03" y2="558.5" stroke="#9a9ade" stroke-width="1.5" />
<line x1="89.03" y1="558.5" x2="94.22" y2="558.5" stroke="#dcb0dc" stroke-width="1.5" />
<line x1="83.85" y1="558.5" x2="83.85" y2="565.85" stroke="#a2a6ea" stroke-width="2.3" />
<line x1="83.85" y1="565.85" x2="83.85" y2="573.2" stroke="#f0cdee" stroke-width="2.3" />
<line x1="94.22" y1="558.5" x2="94.22" y2="565.85" stroke="#f0cdee" stroke-width="2.3" />
<line x1="94.22" y1="565.85" x2="94.22" y2="573.2" stroke="#a2a6ea" stroke-width="2.3" />
<line x1="32" y1="573.2" x2="37.19" y2="573.2" stroke="#9a9ade" stroke-width="1.5" />
<line x1="37.19" y1="573.2" x2="42.37" y2="573.2" stroke="#dcb0dc" stroke-width="1.5" />
<line x1="42.37" y1="573.2" x2="47.55" y2="573.2" stroke="#dcb0dc" stroke-width="1.5" />
<line x1="47.55" y1="573.2" x2="52.74" y2="573.2" stroke="#9a9ade" stroke-width="1.5" />
<line x1="52.74" y1="573.2" x2="57.92" y2="573.2" stroke="#9a9ade" stroke-width="1.5" />
<line x1="57.92" y1="573.2" x2="63.11" y2="573.2" stroke="#dcb0dc" stroke-width="1.5" />
<line x1="63.11" y1="573.2" x2="68.3" y2="573.2" stroke="#dcb0dc" stroke-width="1.5" />
<line x1="68.3" y1="573.2" x2="73.48" y2="573.2" stroke="#9a9ade" stroke-width="1.5" />
<line x1="73.48" y1="573.2" x2="78.66" y2="573.2" stroke="#9a9ade" stroke-width="1.5" />
<line x1="78.66" y1="573.2" x2="83.85" y2="573.2" stroke="#dcb0dc" stroke-width="1.5" />
<line x1="83.85" y1="573.2" x2="89.03" y2="573.2" stroke="#dcb0dc" stroke-width="1.5" />
<line x1="89.03" y1="573.2" x2="94.22" y2="573.2" stroke="#9a9ade" stroke-width="1.5" />
<circle cx="41.07" cy="543.8" r="2.0" fill="#fbf0fb" stroke="#c994c9" stroke-width="1"/>
<circle cx="43.67" cy="543.3" r="2.0" fill="#fbf0fb" stroke="#c994c9" stroke-width="1"/>
<circle cx="61.81" cy="543.8" r="2.0" fill="#fbf0fb" stroke="#c994c9" stroke-width="1"/>
<circle cx="64.41" cy="543.3" r="2.0" fill="#fbf0fb" stroke="#c994c9" stroke-width="1"/>
<circle cx="82.55" cy="543.8" r="2.0" fill="#fbf0fb" stroke="#c994c9" stroke-width="1"/>
<circle cx="85.15" cy="543.3" r="2.0" fill="#fbf0fb" stroke="#c994c9" stroke-width="1"/>
<circle cx="32" cy="558.5" r="2.0" fill="#fbf0fb" stroke="#c994c9" stroke-width="1"/>
<circle cx="52.74" cy="558.5" r="2.0" fill="#fbf0fb" stroke="#c994c9" stroke-width="1"/>
<circle cx="73.48" cy="558.5" r="2.0" fill="#fbf0fb" stroke="#c994c9" stroke-width="1"/>
<circle cx="94.22" cy="558.5" r="2.0" fill="#fbf0fb" stroke="#c994c9" stroke-width="1"/>
<circle cx="42.37" cy="573.2" r="2.0" fill="#fbf0fb" stroke="#c994c9" stroke-width="1"/>
<circle cx="63.11" cy="573.2" r="2.0" fill="#fbf0fb" stroke="#c994c9" stroke-width="1"/>
<circle cx="83.85" cy="573.2" r="2.0" fill="#fbf0fb" stroke="#c994c9" stroke-width="1"/>
<circle cx="32" cy="543.5" r="3.6" fill="url(#gni)"/>
<circle cx="52.74" cy="543.5" r="3.6" fill="url(#gni)"/>
<circle cx="73.48" cy="543.5" r="3.6" fill="url(#gni)"/>
<circle cx="94.22" cy="543.5" r="3.6" fill="url(#gni)"/>
<circle cx="42.37" cy="558.5" r="3.6" fill="url(#gni)"/>
<circle cx="63.11" cy="558.5" r="3.6" fill="url(#gni)"/>
<circle cx="83.85" cy="558.5" r="3.6" fill="url(#gni)"/>
<circle cx="32" cy="573.2" r="3.6" fill="url(#gni)"/>
<circle cx="52.74" cy="573.2" r="3.6" fill="url(#gni)"/>
<circle cx="73.48" cy="573.2" r="3.6" fill="url(#gni)"/>
<circle cx="94.22" cy="573.2" r="3.6" fill="url(#gni)"/>
<line x1="126" y1="543.5" x2="131.26" y2="543.5" stroke="#9a9ade" stroke-width="1.5" />
<line x1="131.26" y1="543.5" x2="136.53" y2="543.5" stroke="#dcb0dc" stroke-width="1.5" />
<line x1="126" y1="543.5" x2="126" y2="551" stroke="#a2a6ea" stroke-width="2.3" />
<line x1="126" y1="551" x2="126" y2="558.5" stroke="#f0cdee" stroke-width="2.3" />
<line x1="136.53" y1="543.5" x2="141.8" y2="543.5" stroke="#dcb0dc" stroke-width="1.5" />
<line x1="141.8" y1="543.5" x2="147.06" y2="543.5" stroke="#9a9ade" stroke-width="1.5" />
<line x1="136.53" y1="543.5" x2="136.53" y2="551" stroke="#f0cdee" stroke-width="2.3" />
<line x1="136.53" y1="551" x2="136.53" y2="558.5" stroke="#a2a6ea" stroke-width="2.3" />
<line x1="147.06" y1="543.5" x2="152.32" y2="543.5" stroke="#9a9ade" stroke-width="1.5" />
<line x1="152.32" y1="543.5" x2="157.59" y2="543.5" stroke="#dcb0dc" stroke-width="1.5" />
<line x1="147.06" y1="543.5" x2="147.06" y2="551" stroke="#a2a6ea" stroke-width="2.3" />
<line x1="147.06" y1="551" x2="147.06" y2="558.5" stroke="#f0cdee" stroke-width="2.3" />
<line x1="157.59" y1="543.5" x2="162.86" y2="543.5" stroke="#dcb0dc" stroke-width="1.5" />
<line x1="162.86" y1="543.5" x2="168.12" y2="543.5" stroke="#9a9ade" stroke-width="1.5" />
<line x1="157.59" y1="543.5" x2="157.59" y2="551" stroke="#f0cdee" stroke-width="2.3" />
<line x1="157.59" y1="551" x2="157.59" y2="558.5" stroke="#a2a6ea" stroke-width="2.3" />
<line x1="168.12" y1="543.5" x2="173.38" y2="543.5" stroke="#9a9ade" stroke-width="1.5" />
<line x1="173.38" y1="543.5" x2="178.65" y2="543.5" stroke="#dcb0dc" stroke-width="1.5" />
<line x1="168.12" y1="543.5" x2="168.12" y2="551" stroke="#a2a6ea" stroke-width="2.3" />
<line x1="168.12" y1="551" x2="168.12" y2="558.5" stroke="#f0cdee" stroke-width="2.3" />
<line x1="178.65" y1="543.5" x2="183.92" y2="543.5" stroke="#dcb0dc" stroke-width="1.5" />
<line x1="183.92" y1="543.5" x2="189.18" y2="543.5" stroke="#9a9ade" stroke-width="1.5" />
<line x1="178.65" y1="543.5" x2="178.65" y2="551" stroke="#f0cdee" stroke-width="2.3" />
<line x1="178.65" y1="551" x2="178.65" y2="558.5" stroke="#a2a6ea" stroke-width="2.3" />
<line x1="189.18" y1="543.5" x2="189.18" y2="551" stroke="#a2a6ea" stroke-width="2.3" />
<line x1="189.18" y1="551" x2="189.18" y2="558.5" stroke="#f0cdee" stroke-width="2.3" />
<line x1="126" y1="558.5" x2="131.26" y2="558.5" stroke="#dcb0dc" stroke-width="1.5" />
<line x1="131.26" y1="558.5" x2="136.53" y2="558.5" stroke="#9a9ade" stroke-width="1.5" />
<line x1="126" y1="558.5" x2="126" y2="565.85" stroke="#f0cdee" stroke-width="2.3" />
<line x1="126" y1="565.85" x2="126" y2="573.2" stroke="#a2a6ea" stroke-width="2.3" />
<line x1="136.53" y1="558.5" x2="141.8" y2="558.5" stroke="#9a9ade" stroke-width="1.5" />
<line x1="141.8" y1="558.5" x2="147.06" y2="558.5" stroke="#dcb0dc" stroke-width="1.5" />
<line x1="136.53" y1="558.5" x2="136.53" y2="565.85" stroke="#a2a6ea" stroke-width="2.3" />
<line x1="136.53" y1="565.85" x2="136.53" y2="573.2" stroke="#f0cdee" stroke-width="2.3" />
<line x1="147.06" y1="558.5" x2="152.32" y2="558.5" stroke="#dcb0dc" stroke-width="1.5" />
<line x1="152.32" y1="558.5" x2="157.59" y2="558.5" stroke="#9a9ade" stroke-width="1.5" />
<line x1="147.06" y1="558.5" x2="147.06" y2="565.85" stroke="#f0cdee" stroke-width="2.3" />
<line x1="147.06" y1="565.85" x2="147.06" y2="573.2" stroke="#a2a6ea" stroke-width="2.3" />
<line x1="157.59" y1="558.5" x2="162.86" y2="558.5" stroke="#9a9ade" stroke-width="1.5" />
<line x1="162.86" y1="558.5" x2="168.12" y2="558.5" stroke="#dcb0dc" stroke-width="1.5" />
<line x1="157.59" y1="558.5" x2="157.59" y2="565.85" stroke="#a2a6ea" stroke-width="2.3" />
<line x1="157.59" y1="565.85" x2="157.59" y2="573.2" stroke="#f0cdee" stroke-width="2.3" />
<line x1="168.12" y1="558.5" x2="173.38" y2="558.5" stroke="#dcb0dc" stroke-width="1.5" />
<line x1="173.38" y1="558.5" x2="178.65" y2="558.5" stroke="#9a9ade" stroke-width="1.5" />
<line x1="168.12" y1="558.5" x2="168.12" y2="565.85" stroke="#f0cdee" stroke-width="2.3" />
<line x1="168.12" y1="565.85" x2="168.12" y2="573.2" stroke="#a2a6ea" stroke-width="2.3" />
<line x1="178.65" y1="558.5" x2="183.92" y2="558.5" stroke="#9a9ade" stroke-width="1.5" />
<line x1="183.92" y1="558.5" x2="189.18" y2="558.5" stroke="#dcb0dc" stroke-width="1.5" />
<line x1="178.65" y1="558.5" x2="178.65" y2="565.85" stroke="#a2a6ea" stroke-width="2.3" />
<line x1="178.65" y1="565.85" x2="178.65" y2="573.2" stroke="#f0cdee" stroke-width="2.3" />
<line x1="189.18" y1="558.5" x2="189.18" y2="565.85" stroke="#f0cdee" stroke-width="2.3" />
<line x1="189.18" y1="565.85" x2="189.18" y2="573.2" stroke="#a2a6ea" stroke-width="2.3" />
<line x1="126" y1="573.2" x2="131.26" y2="573.2" stroke="#9a9ade" stroke-width="1.5" />
<line x1="131.26" y1="573.2" x2="136.53" y2="573.2" stroke="#dcb0dc" stroke-width="1.5" />
<line x1="136.53" y1="573.2" x2="141.8" y2="573.2" stroke="#dcb0dc" stroke-width="1.5" />
<line x1="141.8" y1="573.2" x2="147.06" y2="573.2" stroke="#9a9ade" stroke-width="1.5" />
<line x1="147.06" y1="573.2" x2="152.32" y2="573.2" stroke="#9a9ade" stroke-width="1.5" />
<line x1="152.32" y1="573.2" x2="157.59" y2="573.2" stroke="#dcb0dc" stroke-width="1.5" />
<line x1="157.59" y1="573.2" x2="162.86" y2="573.2" stroke="#dcb0dc" stroke-width="1.5" />
<line x1="162.86" y1="573.2" x2="168.12" y2="573.2" stroke="#9a9ade" stroke-width="1.5" />
<line x1="168.12" y1="573.2" x2="173.38" y2="573.2" stroke="#9a9ade" stroke-width="1.5" />
<line x1="173.38" y1="573.2" x2="178.65" y2="573.2" stroke="#dcb0dc" stroke-width="1.5" />
<line x1="178.65" y1="573.2" x2="183.92" y2="573.2" stroke="#dcb0dc" stroke-width="1.5" />
<line x1="183.92" y1="573.2" x2="189.18" y2="573.2" stroke="#9a9ade" stroke-width="1.5" />
<circle cx="135.23" cy="543.8" r="2.0" fill="#fbf0fb" stroke="#c994c9" stroke-width="1"/>
<circle cx="137.83" cy="543.3" r="2.0" fill="#fbf0fb" stroke="#c994c9" stroke-width="1"/>
<circle cx="156.29" cy="543.8" r="2.0" fill="#fbf0fb" stroke="#c994c9" stroke-width="1"/>
<circle cx="158.89" cy="543.3" r="2.0" fill="#fbf0fb" stroke="#c994c9" stroke-width="1"/>
<circle cx="177.35" cy="543.8" r="2.0" fill="#fbf0fb" stroke="#c994c9" stroke-width="1"/>
<circle cx="179.95" cy="543.3" r="2.0" fill="#fbf0fb" stroke="#c994c9" stroke-width="1"/>
<circle cx="126" cy="558.5" r="2.0" fill="#fbf0fb" stroke="#c994c9" stroke-width="1"/>
<circle cx="147.06" cy="558.5" r="2.0" fill="#fbf0fb" stroke="#c994c9" stroke-width="1"/>
<circle cx="168.12" cy="558.5" r="2.0" fill="#fbf0fb" stroke="#c994c9" stroke-width="1"/>
<circle cx="189.18" cy="558.5" r="2.0" fill="#fbf0fb" stroke="#c994c9" stroke-width="1"/>
<circle cx="136.53" cy="573.2" r="2.0" fill="#fbf0fb" stroke="#c994c9" stroke-width="1"/>
<circle cx="157.59" cy="573.2" r="2.0" fill="#fbf0fb" stroke="#c994c9" stroke-width="1"/>
<circle cx="178.65" cy="573.2" r="2.0" fill="#fbf0fb" stroke="#c994c9" stroke-width="1"/>
<circle cx="126" cy="543.5" r="3.6" fill="url(#gni)"/>
<circle cx="147.06" cy="543.5" r="3.6" fill="url(#gni)"/>
<circle cx="168.12" cy="543.5" r="3.6" fill="url(#gni)"/>
<circle cx="189.18" cy="543.5" r="3.6" fill="url(#gni)"/>
<circle cx="136.53" cy="558.5" r="3.6" fill="url(#gni)"/>
<circle cx="157.59" cy="558.5" r="3.6" fill="url(#gni)"/>
<circle cx="178.65" cy="558.5" r="3.6" fill="url(#gni)"/>
<circle cx="126" cy="573.2" r="3.6" fill="url(#gni)"/>
<circle cx="147.06" cy="573.2" r="3.6" fill="url(#gni)"/>
<circle cx="168.12" cy="573.2" r="3.6" fill="url(#gni)"/>
<circle cx="189.18" cy="573.2" r="3.6" fill="url(#gni)"/>
<line x1="220.5" y1="543.5" x2="225.59" y2="543.5" stroke="#9a9ade" stroke-width="1.5" />
<line x1="225.59" y1="543.5" x2="230.68" y2="543.5" stroke="#dcb0dc" stroke-width="1.5" />
<line x1="220.5" y1="543.5" x2="220.5" y2="551" stroke="#a2a6ea" stroke-width="2.3" />
<line x1="220.5" y1="551" x2="220.5" y2="558.5" stroke="#f0cdee" stroke-width="2.3" />
<line x1="230.68" y1="543.5" x2="235.77" y2="543.5" stroke="#dcb0dc" stroke-width="1.5" />
<line x1="235.77" y1="543.5" x2="240.86" y2="543.5" stroke="#9a9ade" stroke-width="1.5" />
<line x1="230.68" y1="543.5" x2="230.68" y2="551" stroke="#f0cdee" stroke-width="2.3" />
<line x1="230.68" y1="551" x2="230.68" y2="558.5" stroke="#a2a6ea" stroke-width="2.3" />
<line x1="240.86" y1="543.5" x2="245.95" y2="543.5" stroke="#9a9ade" stroke-width="1.5" />
<line x1="245.95" y1="543.5" x2="251.04" y2="543.5" stroke="#dcb0dc" stroke-width="1.5" />
<line x1="240.86" y1="543.5" x2="240.86" y2="551" stroke="#a2a6ea" stroke-width="2.3" />
<line x1="240.86" y1="551" x2="240.86" y2="558.5" stroke="#f0cdee" stroke-width="2.3" />
<line x1="251.04" y1="543.5" x2="256.13" y2="543.5" stroke="#dcb0dc" stroke-width="1.5" />
<line x1="256.13" y1="543.5" x2="261.22" y2="543.5" stroke="#9a9ade" stroke-width="1.5" />
<line x1="251.04" y1="543.5" x2="251.04" y2="551" stroke="#f0cdee" stroke-width="2.3" />
<line x1="251.04" y1="551" x2="251.04" y2="558.5" stroke="#a2a6ea" stroke-width="2.3" />
<line x1="261.22" y1="543.5" x2="266.31" y2="543.5" stroke="#9a9ade" stroke-width="1.5" />
<line x1="266.31" y1="543.5" x2="271.4" y2="543.5" stroke="#dcb0dc" stroke-width="1.5" />
<line x1="261.22" y1="543.5" x2="261.22" y2="551" stroke="#a2a6ea" stroke-width="2.3" />
<line x1="261.22" y1="551" x2="261.22" y2="558.5" stroke="#f0cdee" stroke-width="2.3" />
<line x1="271.4" y1="543.5" x2="276.49" y2="543.5" stroke="#dcb0dc" stroke-width="1.5" />
<line x1="276.49" y1="543.5" x2="281.58" y2="543.5" stroke="#9a9ade" stroke-width="1.5" />
<line x1="271.4" y1="543.5" x2="271.4" y2="551" stroke="#f0cdee" stroke-width="2.3" />
<line x1="271.4" y1="551" x2="271.4" y2="558.5" stroke="#a2a6ea" stroke-width="2.3" />
<line x1="281.58" y1="543.5" x2="281.58" y2="551" stroke="#a2a6ea" stroke-width="2.3" />
<line x1="281.58" y1="551" x2="281.58" y2="558.5" stroke="#f0cdee" stroke-width="2.3" />
<line x1="220.5" y1="558.5" x2="225.59" y2="558.5" stroke="#dcb0dc" stroke-width="1.5" />
<line x1="225.59" y1="558.5" x2="230.68" y2="558.5" stroke="#9a9ade" stroke-width="1.5" />
<line x1="220.5" y1="558.5" x2="220.5" y2="565.85" stroke="#f0cdee" stroke-width="2.3" />
<line x1="220.5" y1="565.85" x2="220.5" y2="573.2" stroke="#a2a6ea" stroke-width="2.3" />
<line x1="230.68" y1="558.5" x2="235.77" y2="558.5" stroke="#9a9ade" stroke-width="1.5" />
<line x1="235.77" y1="558.5" x2="240.86" y2="558.5" stroke="#dcb0dc" stroke-width="1.5" />
<line x1="230.68" y1="558.5" x2="230.68" y2="565.85" stroke="#a2a6ea" stroke-width="2.3" />
<line x1="230.68" y1="565.85" x2="230.68" y2="573.2" stroke="#f0cdee" stroke-width="2.3" />
<line x1="240.86" y1="558.5" x2="245.95" y2="558.5" stroke="#dcb0dc" stroke-width="1.5" />
<line x1="245.95" y1="558.5" x2="251.04" y2="558.5" stroke="#9a9ade" stroke-width="1.5" />
<line x1="240.86" y1="558.5" x2="240.86" y2="565.85" stroke="#f0cdee" stroke-width="2.3" />
<line x1="240.86" y1="565.85" x2="240.86" y2="573.2" stroke="#a2a6ea" stroke-width="2.3" />
<line x1="251.04" y1="558.5" x2="256.13" y2="558.5" stroke="#9a9ade" stroke-width="1.5" />
<line x1="256.13" y1="558.5" x2="261.22" y2="558.5" stroke="#dcb0dc" stroke-width="1.5" />
<line x1="251.04" y1="558.5" x2="251.04" y2="565.85" stroke="#a2a6ea" stroke-width="2.3" />
<line x1="251.04" y1="565.85" x2="251.04" y2="573.2" stroke="#f0cdee" stroke-width="2.3" />
<line x1="261.22" y1="558.5" x2="266.31" y2="558.5" stroke="#dcb0dc" stroke-width="1.5" />
<line x1="266.31" y1="558.5" x2="271.4" y2="558.5" stroke="#9a9ade" stroke-width="1.5" />
<line x1="261.22" y1="558.5" x2="261.22" y2="565.85" stroke="#f0cdee" stroke-width="2.3" />
<line x1="261.22" y1="565.85" x2="261.22" y2="573.2" stroke="#a2a6ea" stroke-width="2.3" />
<line x1="271.4" y1="558.5" x2="276.49" y2="558.5" stroke="#9a9ade" stroke-width="1.5" />
<line x1="276.49" y1="558.5" x2="281.58" y2="558.5" stroke="#dcb0dc" stroke-width="1.5" />
<line x1="271.4" y1="558.5" x2="271.4" y2="565.85" stroke="#a2a6ea" stroke-width="2.3" />
<line x1="271.4" y1="565.85" x2="271.4" y2="573.2" stroke="#f0cdee" stroke-width="2.3" />
<line x1="281.58" y1="558.5" x2="281.58" y2="565.85" stroke="#f0cdee" stroke-width="2.3" />
<line x1="281.58" y1="565.85" x2="281.58" y2="573.2" stroke="#a2a6ea" stroke-width="2.3" />
<line x1="220.5" y1="573.2" x2="225.59" y2="573.2" stroke="#9a9ade" stroke-width="1.5" />
<line x1="225.59" y1="573.2" x2="230.68" y2="573.2" stroke="#dcb0dc" stroke-width="1.5" />
<line x1="230.68" y1="573.2" x2="235.77" y2="573.2" stroke="#dcb0dc" stroke-width="1.5" />
<line x1="235.77" y1="573.2" x2="240.86" y2="573.2" stroke="#9a9ade" stroke-width="1.5" />
<line x1="240.86" y1="573.2" x2="245.95" y2="573.2" stroke="#9a9ade" stroke-width="1.5" />
<line x1="245.95" y1="573.2" x2="251.04" y2="573.2" stroke="#dcb0dc" stroke-width="1.5" />
<line x1="251.04" y1="573.2" x2="256.13" y2="573.2" stroke="#dcb0dc" stroke-width="1.5" />
<line x1="256.13" y1="573.2" x2="261.22" y2="573.2" stroke="#9a9ade" stroke-width="1.5" />
<line x1="261.22" y1="573.2" x2="266.31" y2="573.2" stroke="#9a9ade" stroke-width="1.5" />
<line x1="266.31" y1="573.2" x2="271.4" y2="573.2" stroke="#dcb0dc" stroke-width="1.5" />
<line x1="271.4" y1="573.2" x2="276.49" y2="573.2" stroke="#dcb0dc" stroke-width="1.5" />
<line x1="276.49" y1="573.2" x2="281.58" y2="573.2" stroke="#9a9ade" stroke-width="1.5" />
<circle cx="229.38" cy="543.8" r="2.0" fill="#fbf0fb" stroke="#c994c9" stroke-width="1"/>
<circle cx="231.98" cy="543.3" r="2.0" fill="#fbf0fb" stroke="#c994c9" stroke-width="1"/>
<circle cx="249.74" cy="543.8" r="2.0" fill="#fbf0fb" stroke="#c994c9" stroke-width="1"/>
<circle cx="252.34" cy="543.3" r="2.0" fill="#fbf0fb" stroke="#c994c9" stroke-width="1"/>
<circle cx="270.1" cy="543.8" r="2.0" fill="#fbf0fb" stroke="#c994c9" stroke-width="1"/>
<circle cx="272.7" cy="543.3" r="2.0" fill="#fbf0fb" stroke="#c994c9" stroke-width="1"/>
<circle cx="220.5" cy="558.5" r="2.0" fill="#fbf0fb" stroke="#c994c9" stroke-width="1"/>
<circle cx="240.86" cy="558.5" r="2.0" fill="#fbf0fb" stroke="#c994c9" stroke-width="1"/>
<circle cx="261.22" cy="558.5" r="2.0" fill="#fbf0fb" stroke="#c994c9" stroke-width="1"/>
<circle cx="281.58" cy="558.5" r="2.0" fill="#fbf0fb" stroke="#c994c9" stroke-width="1"/>
<circle cx="230.68" cy="573.2" r="2.0" fill="#fbf0fb" stroke="#c994c9" stroke-width="1"/>
<circle cx="251.04" cy="573.2" r="2.0" fill="#fbf0fb" stroke="#c994c9" stroke-width="1"/>
<circle cx="271.4" cy="573.2" r="2.0" fill="#fbf0fb" stroke="#c994c9" stroke-width="1"/>
<circle cx="220.5" cy="543.5" r="3.6" fill="url(#gni)"/>
<circle cx="240.86" cy="543.5" r="3.6" fill="url(#gni)"/>
<circle cx="261.22" cy="543.5" r="3.6" fill="url(#gni)"/>
<circle cx="281.58" cy="543.5" r="3.6" fill="url(#gni)"/>
<circle cx="230.68" cy="558.5" r="3.6" fill="url(#gni)"/>
<circle cx="251.04" cy="558.5" r="3.6" fill="url(#gni)"/>
<circle cx="271.4" cy="558.5" r="3.6" fill="url(#gni)"/>
<circle cx="220.5" cy="573.2" r="3.6" fill="url(#gni)"/>
<circle cx="240.86" cy="573.2" r="3.6" fill="url(#gni)"/>
<circle cx="261.22" cy="573.2" r="3.6" fill="url(#gni)"/>
<circle cx="281.58" cy="573.2" r="3.6" fill="url(#gni)"/>
<line x1="315.1" y1="543.5" x2="320.5" y2="543.5" stroke="#9a9ade" stroke-width="1.5" />
<line x1="320.5" y1="543.5" x2="325.9" y2="543.5" stroke="#dcb0dc" stroke-width="1.5" />
<line x1="315.1" y1="543.5" x2="315.1" y2="551" stroke="#a2a6ea" stroke-width="2.3" />
<line x1="315.1" y1="551" x2="315.1" y2="558.5" stroke="#f0cdee" stroke-width="2.3" />
<line x1="325.9" y1="543.5" x2="331.3" y2="543.5" stroke="#dcb0dc" stroke-width="1.5" />
<line x1="331.3" y1="543.5" x2="336.7" y2="543.5" stroke="#9a9ade" stroke-width="1.5" />
<line x1="325.9" y1="543.5" x2="325.9" y2="551" stroke="#f0cdee" stroke-width="2.3" />
<line x1="325.9" y1="551" x2="325.9" y2="558.5" stroke="#a2a6ea" stroke-width="2.3" />
<line x1="336.7" y1="543.5" x2="342.1" y2="543.5" stroke="#9a9ade" stroke-width="1.5" />
<line x1="342.1" y1="543.5" x2="347.5" y2="543.5" stroke="#dcb0dc" stroke-width="1.5" />
<line x1="336.7" y1="543.5" x2="336.7" y2="551" stroke="#a2a6ea" stroke-width="2.3" />
<line x1="336.7" y1="551" x2="336.7" y2="558.5" stroke="#f0cdee" stroke-width="2.3" />
<line x1="347.5" y1="543.5" x2="352.9" y2="543.5" stroke="#dcb0dc" stroke-width="1.5" />
<line x1="352.9" y1="543.5" x2="358.3" y2="543.5" stroke="#9a9ade" stroke-width="1.5" />
<line x1="347.5" y1="543.5" x2="347.5" y2="551" stroke="#f0cdee" stroke-width="2.3" />
<line x1="347.5" y1="551" x2="347.5" y2="558.5" stroke="#a2a6ea" stroke-width="2.3" />
<line x1="358.3" y1="543.5" x2="363.7" y2="543.5" stroke="#9a9ade" stroke-width="1.5" />
<line x1="363.7" y1="543.5" x2="369.1" y2="543.5" stroke="#dcb0dc" stroke-width="1.5" />
<line x1="358.3" y1="543.5" x2="358.3" y2="551" stroke="#a2a6ea" stroke-width="2.3" />
<line x1="358.3" y1="551" x2="358.3" y2="558.5" stroke="#f0cdee" stroke-width="2.3" />
<line x1="369.1" y1="543.5" x2="374.5" y2="543.5" stroke="#dcb0dc" stroke-width="1.5" />
<line x1="374.5" y1="543.5" x2="379.9" y2="543.5" stroke="#9a9ade" stroke-width="1.5" />
<line x1="369.1" y1="543.5" x2="369.1" y2="551" stroke="#f0cdee" stroke-width="2.3" />
<line x1="369.1" y1="551" x2="369.1" y2="558.5" stroke="#a2a6ea" stroke-width="2.3" />
<line x1="379.9" y1="543.5" x2="379.9" y2="551" stroke="#a2a6ea" stroke-width="2.3" />
<line x1="379.9" y1="551" x2="379.9" y2="558.5" stroke="#f0cdee" stroke-width="2.3" />
<line x1="315.1" y1="558.5" x2="320.5" y2="558.5" stroke="#dcb0dc" stroke-width="1.5" />
<line x1="320.5" y1="558.5" x2="325.9" y2="558.5" stroke="#9a9ade" stroke-width="1.5" />
<line x1="315.1" y1="558.5" x2="315.1" y2="565.85" stroke="#f0cdee" stroke-width="2.3" />
<line x1="315.1" y1="565.85" x2="315.1" y2="573.2" stroke="#a2a6ea" stroke-width="2.3" />
<line x1="325.9" y1="558.5" x2="331.3" y2="558.5" stroke="#9a9ade" stroke-width="1.5" />
<line x1="331.3" y1="558.5" x2="336.7" y2="558.5" stroke="#dcb0dc" stroke-width="1.5" />
<line x1="325.9" y1="558.5" x2="325.9" y2="565.85" stroke="#a2a6ea" stroke-width="2.3" />
<line x1="325.9" y1="565.85" x2="325.9" y2="573.2" stroke="#f0cdee" stroke-width="2.3" />
<line x1="336.7" y1="558.5" x2="342.1" y2="558.5" stroke="#dcb0dc" stroke-width="1.5" />
<line x1="342.1" y1="558.5" x2="347.5" y2="558.5" stroke="#9a9ade" stroke-width="1.5" />
<line x1="336.7" y1="558.5" x2="336.7" y2="565.85" stroke="#f0cdee" stroke-width="2.3" />
<line x1="336.7" y1="565.85" x2="336.7" y2="573.2" stroke="#a2a6ea" stroke-width="2.3" />
<line x1="347.5" y1="558.5" x2="352.9" y2="558.5" stroke="#9a9ade" stroke-width="1.5" />
<line x1="352.9" y1="558.5" x2="358.3" y2="558.5" stroke="#dcb0dc" stroke-width="1.5" />
<line x1="347.5" y1="558.5" x2="347.5" y2="565.85" stroke="#a2a6ea" stroke-width="2.3" />
<line x1="347.5" y1="565.85" x2="347.5" y2="573.2" stroke="#f0cdee" stroke-width="2.3" />
<line x1="358.3" y1="558.5" x2="363.7" y2="558.5" stroke="#dcb0dc" stroke-width="1.5" />
<line x1="363.7" y1="558.5" x2="369.1" y2="558.5" stroke="#9a9ade" stroke-width="1.5" />
<line x1="358.3" y1="558.5" x2="358.3" y2="565.85" stroke="#f0cdee" stroke-width="2.3" />
<line x1="358.3" y1="565.85" x2="358.3" y2="573.2" stroke="#a2a6ea" stroke-width="2.3" />
<line x1="369.1" y1="558.5" x2="374.5" y2="558.5" stroke="#9a9ade" stroke-width="1.5" />
<line x1="374.5" y1="558.5" x2="379.9" y2="558.5" stroke="#dcb0dc" stroke-width="1.5" />
<line x1="369.1" y1="558.5" x2="369.1" y2="565.85" stroke="#a2a6ea" stroke-width="2.3" />
<line x1="369.1" y1="565.85" x2="369.1" y2="573.2" stroke="#f0cdee" stroke-width="2.3" />
<line x1="379.9" y1="558.5" x2="379.9" y2="565.85" stroke="#f0cdee" stroke-width="2.3" />
<line x1="379.9" y1="565.85" x2="379.9" y2="573.2" stroke="#a2a6ea" stroke-width="2.3" />
<line x1="315.1" y1="573.2" x2="320.5" y2="573.2" stroke="#9a9ade" stroke-width="1.5" />
<line x1="320.5" y1="573.2" x2="325.9" y2="573.2" stroke="#dcb0dc" stroke-width="1.5" />
<line x1="325.9" y1="573.2" x2="331.3" y2="573.2" stroke="#dcb0dc" stroke-width="1.5" />
<line x1="331.3" y1="573.2" x2="336.7" y2="573.2" stroke="#9a9ade" stroke-width="1.5" />
<line x1="336.7" y1="573.2" x2="342.1" y2="573.2" stroke="#9a9ade" stroke-width="1.5" />
<line x1="342.1" y1="573.2" x2="347.5" y2="573.2" stroke="#dcb0dc" stroke-width="1.5" />
<line x1="347.5" y1="573.2" x2="352.9" y2="573.2" stroke="#dcb0dc" stroke-width="1.5" />
<line x1="352.9" y1="573.2" x2="358.3" y2="573.2" stroke="#9a9ade" stroke-width="1.5" />
<line x1="358.3" y1="573.2" x2="363.7" y2="573.2" stroke="#9a9ade" stroke-width="1.5" />
<line x1="363.7" y1="573.2" x2="369.1" y2="573.2" stroke="#dcb0dc" stroke-width="1.5" />
<line x1="369.1" y1="573.2" x2="374.5" y2="573.2" stroke="#dcb0dc" stroke-width="1.5" />
<line x1="374.5" y1="573.2" x2="379.9" y2="573.2" stroke="#9a9ade" stroke-width="1.5" />
<circle cx="324.6" cy="543.8" r="2.0" fill="#fbf0fb" stroke="#c994c9" stroke-width="1"/>
<circle cx="327.2" cy="543.3" r="2.0" fill="#fbf0fb" stroke="#c994c9" stroke-width="1"/>
<circle cx="346.2" cy="543.8" r="2.0" fill="#fbf0fb" stroke="#c994c9" stroke-width="1"/>
<circle cx="348.8" cy="543.3" r="2.0" fill="#fbf0fb" stroke="#c994c9" stroke-width="1"/>
<circle cx="367.8" cy="543.8" r="2.0" fill="#fbf0fb" stroke="#c994c9" stroke-width="1"/>
<circle cx="370.4" cy="543.3" r="2.0" fill="#fbf0fb" stroke="#c994c9" stroke-width="1"/>
<circle cx="315.1" cy="558.5" r="2.0" fill="#fbf0fb" stroke="#c994c9" stroke-width="1"/>
<circle cx="336.7" cy="558.5" r="2.0" fill="#fbf0fb" stroke="#c994c9" stroke-width="1"/>
<circle cx="358.3" cy="558.5" r="2.0" fill="#fbf0fb" stroke="#c994c9" stroke-width="1"/>
<circle cx="379.9" cy="558.5" r="2.0" fill="#fbf0fb" stroke="#c994c9" stroke-width="1"/>
<circle cx="325.9" cy="573.2" r="2.0" fill="#fbf0fb" stroke="#c994c9" stroke-width="1"/>
<circle cx="347.5" cy="573.2" r="2.0" fill="#fbf0fb" stroke="#c994c9" stroke-width="1"/>
<circle cx="369.1" cy="573.2" r="2.0" fill="#fbf0fb" stroke="#c994c9" stroke-width="1"/>
<circle cx="315.1" cy="543.5" r="3.6" fill="url(#gni)"/>
<circle cx="336.7" cy="543.5" r="3.6" fill="url(#gni)"/>
<circle cx="358.3" cy="543.5" r="3.6" fill="url(#gni)"/>
<circle cx="379.9" cy="543.5" r="3.6" fill="url(#gni)"/>
<circle cx="325.9" cy="558.5" r="3.6" fill="url(#gni)"/>
<circle cx="347.5" cy="558.5" r="3.6" fill="url(#gni)"/>
<circle cx="369.1" cy="558.5" r="3.6" fill="url(#gni)"/>
<circle cx="315.1" cy="573.2" r="3.6" fill="url(#gni)"/>
<circle cx="336.7" cy="573.2" r="3.6" fill="url(#gni)"/>
<circle cx="358.3" cy="573.2" r="3.6" fill="url(#gni)"/>
<circle cx="379.9" cy="573.2" r="3.6" fill="url(#gni)"/>
<line x1="414.8" y1="527.4" x2="420.26" y2="527.4" stroke="#dcb0dc" stroke-width="1.5" />
<line x1="420.26" y1="527.4" x2="425.73" y2="527.4" stroke="#9a9ade" stroke-width="1.5" />
<line x1="414.8" y1="527.4" x2="414.8" y2="535.45" stroke="#f0cdee" stroke-width="2.3" />
<line x1="414.8" y1="535.45" x2="414.8" y2="543.5" stroke="#a2a6ea" stroke-width="2.3" />
<line x1="425.73" y1="527.4" x2="431.2" y2="527.4" stroke="#9a9ade" stroke-width="1.5" />
<line x1="431.2" y1="527.4" x2="436.66" y2="527.4" stroke="#dcb0dc" stroke-width="1.5" />
<line x1="425.73" y1="527.4" x2="425.73" y2="535.45" stroke="#a2a6ea" stroke-width="2.3" />
<line x1="425.73" y1="535.45" x2="425.73" y2="543.5" stroke="#f0cdee" stroke-width="2.3" />
<line x1="436.66" y1="527.4" x2="442.12" y2="527.4" stroke="#dcb0dc" stroke-width="1.5" />
<line x1="442.12" y1="527.4" x2="447.59" y2="527.4" stroke="#9a9ade" stroke-width="1.5" />
<line x1="436.66" y1="527.4" x2="436.66" y2="535.45" stroke="#f0cdee" stroke-width="2.3" />
<line x1="436.66" y1="535.45" x2="436.66" y2="543.5" stroke="#a2a6ea" stroke-width="2.3" />
<line x1="447.59" y1="527.4" x2="453.06" y2="527.4" stroke="#9a9ade" stroke-width="1.5" />
<line x1="453.06" y1="527.4" x2="458.52" y2="527.4" stroke="#dcb0dc" stroke-width="1.5" />
<line x1="447.59" y1="527.4" x2="447.59" y2="535.45" stroke="#a2a6ea" stroke-width="2.3" />
<line x1="447.59" y1="535.45" x2="447.59" y2="543.5" stroke="#f0cdee" stroke-width="2.3" />
<line x1="458.52" y1="527.4" x2="463.99" y2="527.4" stroke="#dcb0dc" stroke-width="1.5" />
<line x1="463.99" y1="527.4" x2="469.45" y2="527.4" stroke="#9a9ade" stroke-width="1.5" />
<line x1="458.52" y1="527.4" x2="458.52" y2="535.45" stroke="#f0cdee" stroke-width="2.3" />
<line x1="458.52" y1="535.45" x2="458.52" y2="543.5" stroke="#a2a6ea" stroke-width="2.3" />
<line x1="469.45" y1="527.4" x2="474.91" y2="527.4" stroke="#9a9ade" stroke-width="1.5" />
<line x1="474.91" y1="527.4" x2="480.38" y2="527.4" stroke="#dcb0dc" stroke-width="1.5" />
<line x1="469.45" y1="527.4" x2="469.45" y2="535.45" stroke="#a2a6ea" stroke-width="2.3" />
<line x1="469.45" y1="535.45" x2="469.45" y2="543.5" stroke="#f0cdee" stroke-width="2.3" />
<line x1="480.38" y1="527.4" x2="480.38" y2="535.45" stroke="#f0cdee" stroke-width="2.3" />
<line x1="480.38" y1="535.45" x2="480.38" y2="543.5" stroke="#a2a6ea" stroke-width="2.3" />
<line x1="414.8" y1="543.5" x2="420.26" y2="543.5" stroke="#9a9ade" stroke-width="1.5" />
<line x1="420.26" y1="543.5" x2="425.73" y2="543.5" stroke="#dcb0dc" stroke-width="1.5" />
<line x1="414.8" y1="543.5" x2="414.8" y2="551" stroke="#a2a6ea" stroke-width="2.3" />
<line x1="414.8" y1="551" x2="414.8" y2="558.5" stroke="#f0cdee" stroke-width="2.3" />
<line x1="425.73" y1="543.5" x2="431.2" y2="543.5" stroke="#dcb0dc" stroke-width="1.5" />
<line x1="431.2" y1="543.5" x2="436.66" y2="543.5" stroke="#9a9ade" stroke-width="1.5" />
<line x1="425.73" y1="543.5" x2="425.73" y2="551" stroke="#f0cdee" stroke-width="2.3" />
<line x1="425.73" y1="551" x2="425.73" y2="558.5" stroke="#a2a6ea" stroke-width="2.3" />
<line x1="436.66" y1="543.5" x2="442.12" y2="543.5" stroke="#9a9ade" stroke-width="1.5" />
<line x1="442.12" y1="543.5" x2="447.59" y2="543.5" stroke="#dcb0dc" stroke-width="1.5" />
<line x1="436.66" y1="543.5" x2="436.66" y2="551" stroke="#a2a6ea" stroke-width="2.3" />
<line x1="436.66" y1="551" x2="436.66" y2="558.5" stroke="#f0cdee" stroke-width="2.3" />
<line x1="447.59" y1="543.5" x2="453.06" y2="543.5" stroke="#dcb0dc" stroke-width="1.5" />
<line x1="453.06" y1="543.5" x2="458.52" y2="543.5" stroke="#9a9ade" stroke-width="1.5" />
<line x1="447.59" y1="543.5" x2="447.59" y2="551" stroke="#f0cdee" stroke-width="2.3" />
<line x1="447.59" y1="551" x2="447.59" y2="558.5" stroke="#a2a6ea" stroke-width="2.3" />
<line x1="458.52" y1="543.5" x2="463.99" y2="543.5" stroke="#9a9ade" stroke-width="1.5" />
<line x1="463.99" y1="543.5" x2="469.45" y2="543.5" stroke="#dcb0dc" stroke-width="1.5" />
<line x1="458.52" y1="543.5" x2="458.52" y2="551" stroke="#a2a6ea" stroke-width="2.3" />
<line x1="458.52" y1="551" x2="458.52" y2="558.5" stroke="#f0cdee" stroke-width="2.3" />
<line x1="469.45" y1="543.5" x2="474.91" y2="543.5" stroke="#dcb0dc" stroke-width="1.5" />
<line x1="474.91" y1="543.5" x2="480.38" y2="543.5" stroke="#9a9ade" stroke-width="1.5" />
<line x1="469.45" y1="543.5" x2="469.45" y2="551" stroke="#f0cdee" stroke-width="2.3" />
<line x1="469.45" y1="551" x2="469.45" y2="558.5" stroke="#a2a6ea" stroke-width="2.3" />
<line x1="480.38" y1="543.5" x2="480.38" y2="551" stroke="#a2a6ea" stroke-width="2.3" />
<line x1="480.38" y1="551" x2="480.38" y2="558.5" stroke="#f0cdee" stroke-width="2.3" />
<line x1="414.8" y1="558.5" x2="420.26" y2="558.5" stroke="#dcb0dc" stroke-width="1.5" />
<line x1="420.26" y1="558.5" x2="425.73" y2="558.5" stroke="#9a9ade" stroke-width="1.5" />
<line x1="414.8" y1="558.5" x2="414.8" y2="565.85" stroke="#f0cdee" stroke-width="2.3" />
<line x1="414.8" y1="565.85" x2="414.8" y2="573.2" stroke="#a2a6ea" stroke-width="2.3" />
<line x1="425.73" y1="558.5" x2="431.2" y2="558.5" stroke="#9a9ade" stroke-width="1.5" />
<line x1="431.2" y1="558.5" x2="436.66" y2="558.5" stroke="#dcb0dc" stroke-width="1.5" />
<line x1="425.73" y1="558.5" x2="425.73" y2="565.85" stroke="#a2a6ea" stroke-width="2.3" />
<line x1="425.73" y1="565.85" x2="425.73" y2="573.2" stroke="#f0cdee" stroke-width="2.3" />
<line x1="436.66" y1="558.5" x2="442.12" y2="558.5" stroke="#dcb0dc" stroke-width="1.5" />
<line x1="442.12" y1="558.5" x2="447.59" y2="558.5" stroke="#9a9ade" stroke-width="1.5" />
<line x1="436.66" y1="558.5" x2="436.66" y2="565.85" stroke="#f0cdee" stroke-width="2.3" />
<line x1="436.66" y1="565.85" x2="436.66" y2="573.2" stroke="#a2a6ea" stroke-width="2.3" />
<line x1="447.59" y1="558.5" x2="453.06" y2="558.5" stroke="#9a9ade" stroke-width="1.5" />
<line x1="453.06" y1="558.5" x2="458.52" y2="558.5" stroke="#dcb0dc" stroke-width="1.5" />
<line x1="447.59" y1="558.5" x2="447.59" y2="565.85" stroke="#a2a6ea" stroke-width="2.3" />
<line x1="447.59" y1="565.85" x2="447.59" y2="573.2" stroke="#f0cdee" stroke-width="2.3" />
<line x1="458.52" y1="558.5" x2="463.99" y2="558.5" stroke="#dcb0dc" stroke-width="1.5" />
<line x1="463.99" y1="558.5" x2="469.45" y2="558.5" stroke="#9a9ade" stroke-width="1.5" />
<line x1="458.52" y1="558.5" x2="458.52" y2="565.85" stroke="#f0cdee" stroke-width="2.3" />
<line x1="458.52" y1="565.85" x2="458.52" y2="573.2" stroke="#a2a6ea" stroke-width="2.3" />
<line x1="469.45" y1="558.5" x2="474.91" y2="558.5" stroke="#9a9ade" stroke-width="1.5" />
<line x1="474.91" y1="558.5" x2="480.38" y2="558.5" stroke="#dcb0dc" stroke-width="1.5" />
<line x1="469.45" y1="558.5" x2="469.45" y2="565.85" stroke="#a2a6ea" stroke-width="2.3" />
<line x1="469.45" y1="565.85" x2="469.45" y2="573.2" stroke="#f0cdee" stroke-width="2.3" />
<line x1="480.38" y1="558.5" x2="480.38" y2="565.85" stroke="#f0cdee" stroke-width="2.3" />
<line x1="480.38" y1="565.85" x2="480.38" y2="573.2" stroke="#a2a6ea" stroke-width="2.3" />
<line x1="414.8" y1="573.2" x2="420.26" y2="573.2" stroke="#9a9ade" stroke-width="1.5" />
<line x1="420.26" y1="573.2" x2="425.73" y2="573.2" stroke="#dcb0dc" stroke-width="1.5" />
<line x1="425.73" y1="573.2" x2="431.2" y2="573.2" stroke="#dcb0dc" stroke-width="1.5" />
<line x1="431.2" y1="573.2" x2="436.66" y2="573.2" stroke="#9a9ade" stroke-width="1.5" />
<line x1="436.66" y1="573.2" x2="442.12" y2="573.2" stroke="#9a9ade" stroke-width="1.5" />
<line x1="442.12" y1="573.2" x2="447.59" y2="573.2" stroke="#dcb0dc" stroke-width="1.5" />
<line x1="447.59" y1="573.2" x2="453.06" y2="573.2" stroke="#dcb0dc" stroke-width="1.5" />
<line x1="453.06" y1="573.2" x2="458.52" y2="573.2" stroke="#9a9ade" stroke-width="1.5" />
<line x1="458.52" y1="573.2" x2="463.99" y2="573.2" stroke="#9a9ade" stroke-width="1.5" />
<line x1="463.99" y1="573.2" x2="469.45" y2="573.2" stroke="#dcb0dc" stroke-width="1.5" />
<line x1="469.45" y1="573.2" x2="474.91" y2="573.2" stroke="#dcb0dc" stroke-width="1.5" />
<line x1="474.91" y1="573.2" x2="480.38" y2="573.2" stroke="#9a9ade" stroke-width="1.5" />
<circle cx="414.8" cy="527.4" r="2.0" fill="#fbf0fb" stroke="#c994c9" stroke-width="1"/>
<circle cx="436.66" cy="527.4" r="2.0" fill="#fbf0fb" stroke="#c994c9" stroke-width="1"/>
<circle cx="458.52" cy="527.4" r="2.0" fill="#fbf0fb" stroke="#c994c9" stroke-width="1"/>
<circle cx="480.38" cy="527.4" r="2.0" fill="#fbf0fb" stroke="#c994c9" stroke-width="1"/>
<circle cx="425.73" cy="543.5" r="2.0" fill="#fbf0fb" stroke="#c994c9" stroke-width="1"/>
<circle cx="447.59" cy="543.5" r="2.0" fill="#fbf0fb" stroke="#c994c9" stroke-width="1"/>
<circle cx="469.45" cy="543.5" r="2.0" fill="#fbf0fb" stroke="#c994c9" stroke-width="1"/>
<circle cx="414.8" cy="558.5" r="2.0" fill="#fbf0fb" stroke="#c994c9" stroke-width="1"/>
<circle cx="436.66" cy="558.5" r="2.0" fill="#fbf0fb" stroke="#c994c9" stroke-width="1"/>
<circle cx="458.52" cy="558.5" r="2.0" fill="#fbf0fb" stroke="#c994c9" stroke-width="1"/>
<circle cx="480.38" cy="558.5" r="2.0" fill="#fbf0fb" stroke="#c994c9" stroke-width="1"/>
<circle cx="425.73" cy="573.2" r="2.0" fill="#fbf0fb" stroke="#c994c9" stroke-width="1"/>
<circle cx="447.59" cy="573.2" r="2.0" fill="#fbf0fb" stroke="#c994c9" stroke-width="1"/>
<circle cx="469.45" cy="573.2" r="2.0" fill="#fbf0fb" stroke="#c994c9" stroke-width="1"/>
<circle cx="425.73" cy="527.4" r="3.6" fill="url(#gni)"/>
<circle cx="447.59" cy="527.4" r="3.6" fill="url(#gni)"/>
<circle cx="469.45" cy="527.4" r="3.6" fill="url(#gni)"/>
<circle cx="414.8" cy="543.5" r="3.6" fill="url(#gni)"/>
<circle cx="436.66" cy="543.5" r="3.6" fill="url(#gni)"/>
<circle cx="458.52" cy="543.5" r="3.6" fill="url(#gni)"/>
<circle cx="480.38" cy="543.5" r="3.6" fill="url(#gni)"/>
<circle cx="425.73" cy="558.5" r="3.6" fill="url(#gni)"/>
<circle cx="447.59" cy="558.5" r="3.6" fill="url(#gni)"/>
<circle cx="469.45" cy="558.5" r="3.6" fill="url(#gni)"/>
<circle cx="414.8" cy="573.2" r="3.6" fill="url(#gni)"/>
<circle cx="436.66" cy="573.2" r="3.6" fill="url(#gni)"/>
<circle cx="458.52" cy="573.2" r="3.6" fill="url(#gni)"/>
<circle cx="480.38" cy="573.2" r="3.6" fill="url(#gni)"/>
<line x1="510.1" y1="527.4" x2="515.63" y2="527.4" stroke="#dcb0dc" stroke-width="1.5" />
<line x1="515.63" y1="527.4" x2="521.17" y2="527.4" stroke="#9a9ade" stroke-width="1.5" />
<line x1="510.1" y1="527.4" x2="510.1" y2="535.45" stroke="#f0cdee" stroke-width="2.3" />
<line x1="510.1" y1="535.45" x2="510.1" y2="543.5" stroke="#a2a6ea" stroke-width="2.3" />
<line x1="521.17" y1="527.4" x2="526.71" y2="527.4" stroke="#9a9ade" stroke-width="1.5" />
<line x1="526.71" y1="527.4" x2="532.24" y2="527.4" stroke="#dcb0dc" stroke-width="1.5" />
<line x1="521.17" y1="527.4" x2="521.17" y2="535.45" stroke="#a2a6ea" stroke-width="2.3" />
<line x1="521.17" y1="535.45" x2="521.17" y2="543.5" stroke="#f0cdee" stroke-width="2.3" />
<line x1="532.24" y1="527.4" x2="537.78" y2="527.4" stroke="#dcb0dc" stroke-width="1.5" />
<line x1="537.78" y1="527.4" x2="543.31" y2="527.4" stroke="#9a9ade" stroke-width="1.5" />
<line x1="532.24" y1="527.4" x2="532.24" y2="535.45" stroke="#f0cdee" stroke-width="2.3" />
<line x1="532.24" y1="535.45" x2="532.24" y2="543.5" stroke="#a2a6ea" stroke-width="2.3" />
<line x1="543.31" y1="527.4" x2="548.85" y2="527.4" stroke="#9a9ade" stroke-width="1.5" />
<line x1="548.85" y1="527.4" x2="554.38" y2="527.4" stroke="#dcb0dc" stroke-width="1.5" />
<line x1="543.31" y1="527.4" x2="543.31" y2="535.45" stroke="#a2a6ea" stroke-width="2.3" />
<line x1="543.31" y1="535.45" x2="543.31" y2="543.5" stroke="#f0cdee" stroke-width="2.3" />
<line x1="554.38" y1="527.4" x2="559.91" y2="527.4" stroke="#dcb0dc" stroke-width="1.5" />
<line x1="559.91" y1="527.4" x2="565.45" y2="527.4" stroke="#9a9ade" stroke-width="1.5" />
<line x1="554.38" y1="527.4" x2="554.38" y2="535.45" stroke="#f0cdee" stroke-width="2.3" />
<line x1="554.38" y1="535.45" x2="554.38" y2="543.5" stroke="#a2a6ea" stroke-width="2.3" />
<line x1="565.45" y1="527.4" x2="570.99" y2="527.4" stroke="#9a9ade" stroke-width="1.5" />
<line x1="570.99" y1="527.4" x2="576.52" y2="527.4" stroke="#dcb0dc" stroke-width="1.5" />
<line x1="565.45" y1="527.4" x2="565.45" y2="535.45" stroke="#a2a6ea" stroke-width="2.3" />
<line x1="565.45" y1="535.45" x2="565.45" y2="543.5" stroke="#f0cdee" stroke-width="2.3" />
<line x1="576.52" y1="527.4" x2="576.52" y2="535.45" stroke="#f0cdee" stroke-width="2.3" />
<line x1="576.52" y1="535.45" x2="576.52" y2="543.5" stroke="#a2a6ea" stroke-width="2.3" />
<line x1="510.1" y1="543.5" x2="515.63" y2="543.5" stroke="#9a9ade" stroke-width="1.5" />
<line x1="515.63" y1="543.5" x2="521.17" y2="543.5" stroke="#dcb0dc" stroke-width="1.5" />
<line x1="510.1" y1="543.5" x2="510.1" y2="551" stroke="#a2a6ea" stroke-width="2.3" />
<line x1="510.1" y1="551" x2="510.1" y2="558.5" stroke="#f0cdee" stroke-width="2.3" />
<line x1="521.17" y1="543.5" x2="526.71" y2="543.5" stroke="#dcb0dc" stroke-width="1.5" />
<line x1="526.71" y1="543.5" x2="532.24" y2="543.5" stroke="#9a9ade" stroke-width="1.5" />
<line x1="521.17" y1="543.5" x2="521.17" y2="551" stroke="#f0cdee" stroke-width="2.3" />
<line x1="521.17" y1="551" x2="521.17" y2="558.5" stroke="#a2a6ea" stroke-width="2.3" />
<line x1="532.24" y1="543.5" x2="537.78" y2="543.5" stroke="#9a9ade" stroke-width="1.5" />
<line x1="537.78" y1="543.5" x2="543.31" y2="543.5" stroke="#dcb0dc" stroke-width="1.5" />
<line x1="532.24" y1="543.5" x2="532.24" y2="551" stroke="#a2a6ea" stroke-width="2.3" />
<line x1="532.24" y1="551" x2="532.24" y2="558.5" stroke="#f0cdee" stroke-width="2.3" />
<line x1="543.31" y1="543.5" x2="548.85" y2="543.5" stroke="#dcb0dc" stroke-width="1.5" />
<line x1="548.85" y1="543.5" x2="554.38" y2="543.5" stroke="#9a9ade" stroke-width="1.5" />
<line x1="543.31" y1="543.5" x2="543.31" y2="551" stroke="#f0cdee" stroke-width="2.3" />
<line x1="543.31" y1="551" x2="543.31" y2="558.5" stroke="#a2a6ea" stroke-width="2.3" />
<line x1="554.38" y1="543.5" x2="559.91" y2="543.5" stroke="#9a9ade" stroke-width="1.5" />
<line x1="559.91" y1="543.5" x2="565.45" y2="543.5" stroke="#dcb0dc" stroke-width="1.5" />
<line x1="554.38" y1="543.5" x2="554.38" y2="551" stroke="#a2a6ea" stroke-width="2.3" />
<line x1="554.38" y1="551" x2="554.38" y2="558.5" stroke="#f0cdee" stroke-width="2.3" />
<line x1="565.45" y1="543.5" x2="570.99" y2="543.5" stroke="#dcb0dc" stroke-width="1.5" />
<line x1="570.99" y1="543.5" x2="576.52" y2="543.5" stroke="#9a9ade" stroke-width="1.5" />
<line x1="565.45" y1="543.5" x2="565.45" y2="551" stroke="#f0cdee" stroke-width="2.3" />
<line x1="565.45" y1="551" x2="565.45" y2="558.5" stroke="#a2a6ea" stroke-width="2.3" />
<line x1="576.52" y1="543.5" x2="576.52" y2="551" stroke="#a2a6ea" stroke-width="2.3" />
<line x1="576.52" y1="551" x2="576.52" y2="558.5" stroke="#f0cdee" stroke-width="2.3" />
<line x1="510.1" y1="558.5" x2="515.63" y2="558.5" stroke="#dcb0dc" stroke-width="1.5" />
<line x1="515.63" y1="558.5" x2="521.17" y2="558.5" stroke="#9a9ade" stroke-width="1.5" />
<line x1="510.1" y1="558.5" x2="510.1" y2="565.85" stroke="#f0cdee" stroke-width="2.3" />
<line x1="510.1" y1="565.85" x2="510.1" y2="573.2" stroke="#a2a6ea" stroke-width="2.3" />
<line x1="521.17" y1="558.5" x2="526.71" y2="558.5" stroke="#9a9ade" stroke-width="1.5" />
<line x1="526.71" y1="558.5" x2="532.24" y2="558.5" stroke="#dcb0dc" stroke-width="1.5" />
<line x1="521.17" y1="558.5" x2="521.17" y2="565.85" stroke="#a2a6ea" stroke-width="2.3" />
<line x1="521.17" y1="565.85" x2="521.17" y2="573.2" stroke="#f0cdee" stroke-width="2.3" />
<line x1="532.24" y1="558.5" x2="537.78" y2="558.5" stroke="#dcb0dc" stroke-width="1.5" />
<line x1="537.78" y1="558.5" x2="543.31" y2="558.5" stroke="#9a9ade" stroke-width="1.5" />
<line x1="532.24" y1="558.5" x2="532.24" y2="565.85" stroke="#f0cdee" stroke-width="2.3" />
<line x1="532.24" y1="565.85" x2="532.24" y2="573.2" stroke="#a2a6ea" stroke-width="2.3" />
<line x1="543.31" y1="558.5" x2="548.85" y2="558.5" stroke="#9a9ade" stroke-width="1.5" />
<line x1="548.85" y1="558.5" x2="554.38" y2="558.5" stroke="#dcb0dc" stroke-width="1.5" />
<line x1="543.31" y1="558.5" x2="543.31" y2="565.85" stroke="#a2a6ea" stroke-width="2.3" />
<line x1="543.31" y1="565.85" x2="543.31" y2="573.2" stroke="#f0cdee" stroke-width="2.3" />
<line x1="554.38" y1="558.5" x2="559.91" y2="558.5" stroke="#dcb0dc" stroke-width="1.5" />
<line x1="559.91" y1="558.5" x2="565.45" y2="558.5" stroke="#9a9ade" stroke-width="1.5" />
<line x1="554.38" y1="558.5" x2="554.38" y2="565.85" stroke="#f0cdee" stroke-width="2.3" />
<line x1="554.38" y1="565.85" x2="554.38" y2="573.2" stroke="#a2a6ea" stroke-width="2.3" />
<line x1="565.45" y1="558.5" x2="570.99" y2="558.5" stroke="#9a9ade" stroke-width="1.5" />
<line x1="570.99" y1="558.5" x2="576.52" y2="558.5" stroke="#dcb0dc" stroke-width="1.5" />
<line x1="565.45" y1="558.5" x2="565.45" y2="565.85" stroke="#a2a6ea" stroke-width="2.3" />
<line x1="565.45" y1="565.85" x2="565.45" y2="573.2" stroke="#f0cdee" stroke-width="2.3" />
<line x1="576.52" y1="558.5" x2="576.52" y2="565.85" stroke="#f0cdee" stroke-width="2.3" />
<line x1="576.52" y1="565.85" x2="576.52" y2="573.2" stroke="#a2a6ea" stroke-width="2.3" />
<line x1="510.1" y1="573.2" x2="515.63" y2="573.2" stroke="#9a9ade" stroke-width="1.5" />
<line x1="515.63" y1="573.2" x2="521.17" y2="573.2" stroke="#dcb0dc" stroke-width="1.5" />
<line x1="521.17" y1="573.2" x2="526.71" y2="573.2" stroke="#dcb0dc" stroke-width="1.5" />
<line x1="526.71" y1="573.2" x2="532.24" y2="573.2" stroke="#9a9ade" stroke-width="1.5" />
<line x1="532.24" y1="573.2" x2="537.78" y2="573.2" stroke="#9a9ade" stroke-width="1.5" />
<line x1="537.78" y1="573.2" x2="543.31" y2="573.2" stroke="#dcb0dc" stroke-width="1.5" />
<line x1="543.31" y1="573.2" x2="548.85" y2="573.2" stroke="#dcb0dc" stroke-width="1.5" />
<line x1="548.85" y1="573.2" x2="554.38" y2="573.2" stroke="#9a9ade" stroke-width="1.5" />
<line x1="554.38" y1="573.2" x2="559.91" y2="573.2" stroke="#9a9ade" stroke-width="1.5" />
<line x1="559.91" y1="573.2" x2="565.45" y2="573.2" stroke="#dcb0dc" stroke-width="1.5" />
<line x1="565.45" y1="573.2" x2="570.99" y2="573.2" stroke="#dcb0dc" stroke-width="1.5" />
<line x1="570.99" y1="573.2" x2="576.52" y2="573.2" stroke="#9a9ade" stroke-width="1.5" />
<circle cx="510.1" cy="527.4" r="2.0" fill="#fbf0fb" stroke="#c994c9" stroke-width="1"/>
<circle cx="532.24" cy="527.4" r="2.0" fill="#fbf0fb" stroke="#c994c9" stroke-width="1"/>
<circle cx="554.38" cy="527.4" r="2.0" fill="#fbf0fb" stroke="#c994c9" stroke-width="1"/>
<circle cx="576.52" cy="527.4" r="2.0" fill="#fbf0fb" stroke="#c994c9" stroke-width="1"/>
<circle cx="521.17" cy="543.5" r="2.0" fill="#fbf0fb" stroke="#c994c9" stroke-width="1"/>
<circle cx="543.31" cy="543.5" r="2.0" fill="#fbf0fb" stroke="#c994c9" stroke-width="1"/>
<circle cx="565.45" cy="543.5" r="2.0" fill="#fbf0fb" stroke="#c994c9" stroke-width="1"/>
<circle cx="510.1" cy="558.5" r="2.0" fill="#fbf0fb" stroke="#c994c9" stroke-width="1"/>
<circle cx="532.24" cy="558.5" r="2.0" fill="#fbf0fb" stroke="#c994c9" stroke-width="1"/>
<circle cx="554.38" cy="558.5" r="2.0" fill="#fbf0fb" stroke="#c994c9" stroke-width="1"/>
<circle cx="576.52" cy="558.5" r="2.0" fill="#fbf0fb" stroke="#c994c9" stroke-width="1"/>
<circle cx="521.17" cy="573.2" r="2.0" fill="#fbf0fb" stroke="#c994c9" stroke-width="1"/>
<circle cx="543.31" cy="573.2" r="2.0" fill="#fbf0fb" stroke="#c994c9" stroke-width="1"/>
<circle cx="565.45" cy="573.2" r="2.0" fill="#fbf0fb" stroke="#c994c9" stroke-width="1"/>
<circle cx="521.17" cy="527.4" r="3.6" fill="url(#gni)"/>
<circle cx="543.31" cy="527.4" r="3.6" fill="url(#gni)"/>
<circle cx="565.45" cy="527.4" r="3.6" fill="url(#gni)"/>
<circle cx="510.1" cy="543.5" r="3.6" fill="url(#gni)"/>
<circle cx="532.24" cy="543.5" r="3.6" fill="url(#gni)"/>
<circle cx="554.38" cy="543.5" r="3.6" fill="url(#gni)"/>
<circle cx="576.52" cy="543.5" r="3.6" fill="url(#gni)"/>
<circle cx="521.17" cy="558.5" r="3.6" fill="url(#gni)"/>
<circle cx="543.31" cy="558.5" r="3.6" fill="url(#gni)"/>
<circle cx="565.45" cy="558.5" r="3.6" fill="url(#gni)"/>
<circle cx="510.1" cy="573.2" r="3.6" fill="url(#gni)"/>
<circle cx="532.24" cy="573.2" r="3.6" fill="url(#gni)"/>
<circle cx="554.38" cy="573.2" r="3.6" fill="url(#gni)"/>
<circle cx="576.52" cy="573.2" r="3.6" fill="url(#gni)"/>
<line x1="220.8" y1="437.7" x2="218.91" y2="453.3" stroke="#aab0ec" stroke-width="1.7" />
<line x1="220.8" y1="437.7" x2="230.08" y2="453.3" stroke="#c6c8f2" stroke-width="0.9" />
<line x1="226.8" y1="437.7" x2="231.33" y2="453.3" stroke="#aab0ec" stroke-width="1.7" />
<line x1="226.8" y1="437.7" x2="219.7" y2="453.3" stroke="#c6c8f2" stroke-width="0.9" />
<line x1="249.5" y1="437.7" x2="251.16" y2="453.3" stroke="#aab0ec" stroke-width="1.7" />
<line x1="267.3" y1="437.7" x2="271.51" y2="453.3" stroke="#aab0ec" stroke-width="1.7" />
<line x1="267.3" y1="437.7" x2="261.22" y2="453.3" stroke="#c6c8f2" stroke-width="0.9" />
<line x1="269.4" y1="438.3" x2="273.09" y2="453.3" stroke="#aab0ec" stroke-width="1.7" />
<line x1="269.4" y1="438.3" x2="281.98" y2="453.3" stroke="#c6c8f2" stroke-width="0.9" />
<line x1="282.9" y1="437.7" x2="281.67" y2="453.3" stroke="#aab0ec" stroke-width="1.7" />
<line x1="219.8" y1="440.9" x2="219.7" y2="453.3" stroke="#f0cdee" stroke-width="1.6" />
<line x1="237" y1="440.9" x2="240.46" y2="453.3" stroke="#f0cdee" stroke-width="1.6" />
<line x1="240.8" y1="440.9" x2="240.46" y2="453.3" stroke="#f0cdee" stroke-width="1.6" />
<line x1="260.8" y1="440.9" x2="261.22" y2="453.3" stroke="#f0cdee" stroke-width="1.6" />
<line x1="281.3" y1="440.9" x2="281.98" y2="453.3" stroke="#f0cdee" stroke-width="1.6" />
<line x1="216.5" y1="433.4" x2="219.7" y2="453.3" stroke="#f0cdee" stroke-width="1.6" />
<line x1="219.8" y1="433.4" x2="219.7" y2="453.3" stroke="#f0cdee" stroke-width="1.6" />
<line x1="278.1" y1="433.4" x2="281.98" y2="453.3" stroke="#f0cdee" stroke-width="1.6" />
<line x1="281.3" y1="433.4" x2="281.98" y2="453.3" stroke="#f0cdee" stroke-width="1.6" />
<line x1="219.8" y1="440.9" x2="220.8" y2="437.7" stroke="#c0b0e4" stroke-width="1.3" />
<line x1="220.8" y1="437.7" x2="226.8" y2="437.7" stroke="#c0b0e4" stroke-width="1.3" />
<line x1="226.8" y1="437.7" x2="237" y2="440.9" stroke="#c0b0e4" stroke-width="1.3" />
<line x1="237" y1="440.9" x2="240.8" y2="440.9" stroke="#c0b0e4" stroke-width="1.3" />
<line x1="240.8" y1="440.9" x2="249.5" y2="437.7" stroke="#c0b0e4" stroke-width="1.3" />
<line x1="249.5" y1="437.7" x2="260.8" y2="440.9" stroke="#c0b0e4" stroke-width="1.3" />
<line x1="260.8" y1="440.9" x2="267.3" y2="437.7" stroke="#c0b0e4" stroke-width="1.3" />
<line x1="267.3" y1="437.7" x2="269.4" y2="438.3" stroke="#c0b0e4" stroke-width="1.3" />
<line x1="269.4" y1="438.3" x2="281.3" y2="440.9" stroke="#c0b0e4" stroke-width="1.3" />
<line x1="281.3" y1="440.9" x2="282.9" y2="437.7" stroke="#c0b0e4" stroke-width="1.3" />
<circle cx="219.8" cy="440.9" r="1.9" fill="#fbf0fb" stroke="#c994c9" stroke-width="1"/>
<circle cx="237" cy="440.9" r="1.9" fill="#fbf0fb" stroke="#c994c9" stroke-width="1"/>
<circle cx="240.8" cy="440.9" r="1.9" fill="#fbf0fb" stroke="#c994c9" stroke-width="1"/>
<circle cx="260.8" cy="440.9" r="1.9" fill="#fbf0fb" stroke="#c994c9" stroke-width="1"/>
<circle cx="281.3" cy="440.9" r="1.9" fill="#fbf0fb" stroke="#c994c9" stroke-width="1"/>
<circle cx="216.5" cy="433.4" r="1.6" fill="#fbf0fb" stroke="#c994c9" stroke-width="1"/>
<circle cx="219.8" cy="433.4" r="1.6" fill="#fbf0fb" stroke="#c994c9" stroke-width="1"/>
<circle cx="278.1" cy="433.4" r="1.6" fill="#fbf0fb" stroke="#c994c9" stroke-width="1"/>
<circle cx="281.3" cy="433.4" r="1.6" fill="#fbf0fb" stroke="#c994c9" stroke-width="1"/>
<circle cx="220.8" cy="437.7" r="3.5" fill="url(#gni)"/>
<circle cx="226.8" cy="437.7" r="3.5" fill="url(#gni)"/>
<circle cx="249.5" cy="437.7" r="3.5" fill="url(#gni)"/>
<circle cx="267.3" cy="437.7" r="3.5" fill="url(#gni)"/>
<circle cx="269.4" cy="438.3" r="3.5" fill="url(#gni)"/>
<circle cx="282.9" cy="437.7" r="3.5" fill="url(#gni)"/>
<line x1="320.1" y1="436.2" x2="316.51" y2="453.3" stroke="#aab0ec" stroke-width="1.7" />
<line x1="320.1" y1="436.2" x2="327.85" y2="453.3" stroke="#c6c8f2" stroke-width="0.9" />
<line x1="326.7" y1="436.2" x2="327.79" y2="453.3" stroke="#aab0ec" stroke-width="1.7" />
<line x1="326.7" y1="436.2" x2="317.3" y2="453.3" stroke="#c6c8f2" stroke-width="0.9" />
<line x1="348.3" y1="433.4" x2="348.65" y2="453.3" stroke="#aab0ec" stroke-width="1.7" />
<line x1="348.8" y1="438.2" x2="349.85" y2="453.3" stroke="#aab0ec" stroke-width="1.7" />
<line x1="368.7" y1="435.6" x2="369.22" y2="453.3" stroke="#aab0ec" stroke-width="1.7" />
<line x1="368.7" y1="435.6" x2="380.6" y2="453.3" stroke="#c6c8f2" stroke-width="0.9" />
<line x1="370.7" y1="437.2" x2="370.89" y2="453.3" stroke="#aab0ec" stroke-width="1.7" />
<line x1="372.7" y1="442.5" x2="369.34" y2="453.3" stroke="#aab0ec" stroke-width="1.7" />
<line x1="382.5" y1="436.2" x2="379.18" y2="453.3" stroke="#aab0ec" stroke-width="1.7" />
<line x1="382.5" y1="436.2" x2="380.6" y2="453.3" stroke="#c6c8f2" stroke-width="0.9" />
<line x1="317.9" y1="440.1" x2="317.3" y2="453.3" stroke="#f0cdee" stroke-width="1.6" />
<line x1="336.7" y1="440.1" x2="338.4" y2="453.3" stroke="#f0cdee" stroke-width="1.6" />
<line x1="357.9" y1="440.1" x2="359.5" y2="453.3" stroke="#f0cdee" stroke-width="1.6" />
<line x1="380.7" y1="440.1" x2="380.6" y2="453.3" stroke="#f0cdee" stroke-width="1.6" />
<line x1="316.7" y1="432.3" x2="317.3" y2="453.3" stroke="#f0cdee" stroke-width="1.6" />
<line x1="319.7" y1="432.1" x2="317.3" y2="453.3" stroke="#f0cdee" stroke-width="1.6" />
<line x1="379.1" y1="432.1" x2="380.6" y2="453.3" stroke="#f0cdee" stroke-width="1.6" />
<line x1="382.1" y1="432.7" x2="380.6" y2="453.3" stroke="#f0cdee" stroke-width="1.6" />
<line x1="317.9" y1="440.1" x2="320.1" y2="436.2" stroke="#c0b0e4" stroke-width="1.3" />
<line x1="320.1" y1="436.2" x2="326.7" y2="436.2" stroke="#c0b0e4" stroke-width="1.3" />
<line x1="326.7" y1="436.2" x2="336.7" y2="440.1" stroke="#c0b0e4" stroke-width="1.3" />
<line x1="336.7" y1="440.1" x2="348.3" y2="433.4" stroke="#c0b0e4" stroke-width="1.3" />
<line x1="348.3" y1="433.4" x2="348.8" y2="438.2" stroke="#c0b0e4" stroke-width="1.3" />
<line x1="348.8" y1="438.2" x2="357.9" y2="440.1" stroke="#c0b0e4" stroke-width="1.3" />
<line x1="357.9" y1="440.1" x2="368.7" y2="435.6" stroke="#c0b0e4" stroke-width="1.3" />
<line x1="368.7" y1="435.6" x2="370.7" y2="437.2" stroke="#c0b0e4" stroke-width="1.3" />
<line x1="370.7" y1="437.2" x2="372.7" y2="442.5" stroke="#c0b0e4" stroke-width="1.3" />
<line x1="372.7" y1="442.5" x2="380.7" y2="440.1" stroke="#c0b0e4" stroke-width="1.3" />
<line x1="380.7" y1="440.1" x2="382.5" y2="436.2" stroke="#c0b0e4" stroke-width="1.3" />
<circle cx="317.9" cy="440.1" r="1.9" fill="#fbf0fb" stroke="#c994c9" stroke-width="1"/>
<circle cx="336.7" cy="440.1" r="1.9" fill="#fbf0fb" stroke="#c994c9" stroke-width="1"/>
<circle cx="357.9" cy="440.1" r="1.9" fill="#fbf0fb" stroke="#c994c9" stroke-width="1"/>
<circle cx="380.7" cy="440.1" r="1.9" fill="#fbf0fb" stroke="#c994c9" stroke-width="1"/>
<circle cx="316.7" cy="432.3" r="1.6" fill="#fbf0fb" stroke="#c994c9" stroke-width="1"/>
<circle cx="319.7" cy="432.1" r="1.6" fill="#fbf0fb" stroke="#c994c9" stroke-width="1"/>
<circle cx="379.1" cy="432.1" r="1.6" fill="#fbf0fb" stroke="#c994c9" stroke-width="1"/>
<circle cx="382.1" cy="432.7" r="1.6" fill="#fbf0fb" stroke="#c994c9" stroke-width="1"/>
<circle cx="320.1" cy="436.2" r="3.5" fill="url(#gni)"/>
<circle cx="326.7" cy="436.2" r="3.5" fill="url(#gni)"/>
<circle cx="348.3" cy="433.4" r="3.5" fill="url(#gni)"/>
<circle cx="348.8" cy="438.2" r="3.5" fill="url(#gni)"/>
<circle cx="368.7" cy="435.6" r="3.5" fill="url(#gni)"/>
<circle cx="370.7" cy="437.2" r="3.5" fill="url(#gni)"/>
<circle cx="372.7" cy="442.5" r="3.5" fill="url(#gni)"/>
<circle cx="382.5" cy="436.2" r="3.5" fill="url(#gni)"/>
<line x1="416.3" y1="436.2" x2="413.87" y2="453.3" stroke="#aab0ec" stroke-width="1.7" />
<line x1="422.9" y1="436.2" x2="424.97" y2="453.3" stroke="#aab0ec" stroke-width="1.7" />
<line x1="444.5" y1="433.4" x2="445.96" y2="453.3" stroke="#aab0ec" stroke-width="1.7" />
<line x1="445" y1="438.2" x2="443.83" y2="453.3" stroke="#aab0ec" stroke-width="1.7" />
<line x1="445" y1="438.2" x2="434.66" y2="453.3" stroke="#c6c8f2" stroke-width="0.9" />
<line x1="464.9" y1="435.6" x2="466.85" y2="453.3" stroke="#aab0ec" stroke-width="1.7" />
<line x1="466.9" y1="437.2" x2="465.24" y2="453.3" stroke="#aab0ec" stroke-width="1.7" />
<line x1="466.9" y1="437.2" x2="455.82" y2="453.3" stroke="#c6c8f2" stroke-width="0.9" />
<line x1="468.9" y1="442.5" x2="466.04" y2="453.3" stroke="#aab0ec" stroke-width="1.7" />
<line x1="468.9" y1="442.5" x2="455.82" y2="453.3" stroke="#c6c8f2" stroke-width="0.9" />
<line x1="478.7" y1="436.2" x2="475.52" y2="453.3" stroke="#aab0ec" stroke-width="1.7" />
<line x1="478.7" y1="436.2" x2="476.98" y2="453.3" stroke="#c6c8f2" stroke-width="0.9" />
<line x1="414.1" y1="440.1" x2="413.5" y2="453.3" stroke="#f0cdee" stroke-width="1.6" />
<line x1="432.9" y1="440.1" x2="434.66" y2="453.3" stroke="#f0cdee" stroke-width="1.6" />
<line x1="454.1" y1="440.1" x2="455.82" y2="453.3" stroke="#f0cdee" stroke-width="1.6" />
<line x1="476.9" y1="440.1" x2="476.98" y2="453.3" stroke="#f0cdee" stroke-width="1.6" />
<line x1="412.9" y1="432.3" x2="413.5" y2="453.3" stroke="#f0cdee" stroke-width="1.6" />
<line x1="415.9" y1="432.1" x2="413.5" y2="453.3" stroke="#f0cdee" stroke-width="1.6" />
<line x1="475.3" y1="432.1" x2="476.98" y2="453.3" stroke="#f0cdee" stroke-width="1.6" />
<line x1="478.3" y1="432.7" x2="476.98" y2="453.3" stroke="#f0cdee" stroke-width="1.6" />
<line x1="414.1" y1="440.1" x2="416.3" y2="436.2" stroke="#c0b0e4" stroke-width="1.3" />
<line x1="416.3" y1="436.2" x2="422.9" y2="436.2" stroke="#c0b0e4" stroke-width="1.3" />
<line x1="422.9" y1="436.2" x2="432.9" y2="440.1" stroke="#c0b0e4" stroke-width="1.3" />
<line x1="432.9" y1="440.1" x2="444.5" y2="433.4" stroke="#c0b0e4" stroke-width="1.3" />
<line x1="444.5" y1="433.4" x2="445" y2="438.2" stroke="#c0b0e4" stroke-width="1.3" />
<line x1="445" y1="438.2" x2="454.1" y2="440.1" stroke="#c0b0e4" stroke-width="1.3" />
<line x1="454.1" y1="440.1" x2="464.9" y2="435.6" stroke="#c0b0e4" stroke-width="1.3" />
<line x1="464.9" y1="435.6" x2="466.9" y2="437.2" stroke="#c0b0e4" stroke-width="1.3" />
<line x1="466.9" y1="437.2" x2="468.9" y2="442.5" stroke="#c0b0e4" stroke-width="1.3" />
<line x1="468.9" y1="442.5" x2="476.9" y2="440.1" stroke="#c0b0e4" stroke-width="1.3" />
<line x1="476.9" y1="440.1" x2="478.7" y2="436.2" stroke="#c0b0e4" stroke-width="1.3" />
<circle cx="414.1" cy="440.1" r="1.9" fill="#fbf0fb" stroke="#c994c9" stroke-width="1"/>
<circle cx="432.9" cy="440.1" r="1.9" fill="#fbf0fb" stroke="#c994c9" stroke-width="1"/>
<circle cx="454.1" cy="440.1" r="1.9" fill="#fbf0fb" stroke="#c994c9" stroke-width="1"/>
<circle cx="476.9" cy="440.1" r="1.9" fill="#fbf0fb" stroke="#c994c9" stroke-width="1"/>
<circle cx="412.9" cy="432.3" r="1.6" fill="#fbf0fb" stroke="#c994c9" stroke-width="1"/>
<circle cx="415.9" cy="432.1" r="1.6" fill="#fbf0fb" stroke="#c994c9" stroke-width="1"/>
<circle cx="475.3" cy="432.1" r="1.6" fill="#fbf0fb" stroke="#c994c9" stroke-width="1"/>
<circle cx="478.3" cy="432.7" r="1.6" fill="#fbf0fb" stroke="#c994c9" stroke-width="1"/>
<circle cx="416.3" cy="436.2" r="3.5" fill="url(#gni)"/>
<circle cx="422.9" cy="436.2" r="3.5" fill="url(#gni)"/>
<circle cx="444.5" cy="433.4" r="3.5" fill="url(#gni)"/>
<circle cx="445" cy="438.2" r="3.5" fill="url(#gni)"/>
<circle cx="464.9" cy="435.6" r="3.5" fill="url(#gni)"/>
<circle cx="466.9" cy="437.2" r="3.5" fill="url(#gni)"/>
<circle cx="468.9" cy="442.5" r="3.5" fill="url(#gni)"/>
<circle cx="478.7" cy="436.2" r="3.5" fill="url(#gni)"/>
<line x1="512.8" y1="436.2" x2="510.88" y2="453.3" stroke="#aab0ec" stroke-width="1.7" />
<line x1="519.4" y1="436.2" x2="520.41" y2="453.3" stroke="#aab0ec" stroke-width="1.7" />
<line x1="519.4" y1="436.2" x2="510" y2="453.3" stroke="#c6c8f2" stroke-width="0.9" />
<line x1="541" y1="433.4" x2="540.29" y2="453.3" stroke="#aab0ec" stroke-width="1.7" />
<line x1="541" y1="433.4" x2="551.8" y2="453.3" stroke="#c6c8f2" stroke-width="0.9" />
<line x1="541.5" y1="438.2" x2="540.81" y2="453.3" stroke="#aab0ec" stroke-width="1.7" />
<line x1="541.5" y1="438.2" x2="551.8" y2="453.3" stroke="#c6c8f2" stroke-width="0.9" />
<line x1="561.4" y1="435.6" x2="563.16" y2="453.3" stroke="#aab0ec" stroke-width="1.7" />
<line x1="563.4" y1="437.2" x2="561.99" y2="453.3" stroke="#aab0ec" stroke-width="1.7" />
<line x1="563.4" y1="437.2" x2="551.8" y2="453.3" stroke="#c6c8f2" stroke-width="0.9" />
<line x1="565.4" y1="442.5" x2="561.33" y2="453.3" stroke="#aab0ec" stroke-width="1.7" />
<line x1="565.4" y1="442.5" x2="572.7" y2="453.3" stroke="#c6c8f2" stroke-width="0.9" />
<line x1="575.2" y1="436.2" x2="573.19" y2="453.3" stroke="#aab0ec" stroke-width="1.7" />
<line x1="575.2" y1="436.2" x2="562.25" y2="453.3" stroke="#c6c8f2" stroke-width="0.9" />
<line x1="510.6" y1="440.1" x2="510" y2="453.3" stroke="#f0cdee" stroke-width="1.6" />
<line x1="529.4" y1="440.1" x2="530.9" y2="453.3" stroke="#f0cdee" stroke-width="1.6" />
<line x1="550.6" y1="440.1" x2="551.8" y2="453.3" stroke="#f0cdee" stroke-width="1.6" />
<line x1="573.4" y1="440.1" x2="572.7" y2="453.3" stroke="#f0cdee" stroke-width="1.6" />
<line x1="509.4" y1="432.3" x2="510" y2="453.3" stroke="#f0cdee" stroke-width="1.6" />
<line x1="512.4" y1="432.1" x2="510" y2="453.3" stroke="#f0cdee" stroke-width="1.6" />
<line x1="571.8" y1="432.1" x2="572.7" y2="453.3" stroke="#f0cdee" stroke-width="1.6" />
<line x1="574.8" y1="432.7" x2="572.7" y2="453.3" stroke="#f0cdee" stroke-width="1.6" />
<line x1="510.6" y1="440.1" x2="512.8" y2="436.2" stroke="#c0b0e4" stroke-width="1.3" />
<line x1="512.8" y1="436.2" x2="519.4" y2="436.2" stroke="#c0b0e4" stroke-width="1.3" />
<line x1="519.4" y1="436.2" x2="529.4" y2="440.1" stroke="#c0b0e4" stroke-width="1.3" />
<line x1="529.4" y1="440.1" x2="541" y2="433.4" stroke="#c0b0e4" stroke-width="1.3" />
<line x1="541" y1="433.4" x2="541.5" y2="438.2" stroke="#c0b0e4" stroke-width="1.3" />
<line x1="541.5" y1="438.2" x2="550.6" y2="440.1" stroke="#c0b0e4" stroke-width="1.3" />
<line x1="550.6" y1="440.1" x2="561.4" y2="435.6" stroke="#c0b0e4" stroke-width="1.3" />
<line x1="561.4" y1="435.6" x2="563.4" y2="437.2" stroke="#c0b0e4" stroke-width="1.3" />
<line x1="563.4" y1="437.2" x2="565.4" y2="442.5" stroke="#c0b0e4" stroke-width="1.3" />
<line x1="565.4" y1="442.5" x2="573.4" y2="440.1" stroke="#c0b0e4" stroke-width="1.3" />
<line x1="573.4" y1="440.1" x2="575.2" y2="436.2" stroke="#c0b0e4" stroke-width="1.3" />
<circle cx="510.6" cy="440.1" r="1.9" fill="#fbf0fb" stroke="#c994c9" stroke-width="1"/>
<circle cx="529.4" cy="440.1" r="1.9" fill="#fbf0fb" stroke="#c994c9" stroke-width="1"/>
<circle cx="550.6" cy="440.1" r="1.9" fill="#fbf0fb" stroke="#c994c9" stroke-width="1"/>
<circle cx="573.4" cy="440.1" r="1.9" fill="#fbf0fb" stroke="#c994c9" stroke-width="1"/>
<circle cx="509.4" cy="432.3" r="1.6" fill="#fbf0fb" stroke="#c994c9" stroke-width="1"/>
<circle cx="512.4" cy="432.1" r="1.6" fill="#fbf0fb" stroke="#c994c9" stroke-width="1"/>
<circle cx="571.8" cy="432.1" r="1.6" fill="#fbf0fb" stroke="#c994c9" stroke-width="1"/>
<circle cx="574.8" cy="432.7" r="1.6" fill="#fbf0fb" stroke="#c994c9" stroke-width="1"/>
<circle cx="512.8" cy="436.2" r="3.5" fill="url(#gni)"/>
<circle cx="519.4" cy="436.2" r="3.5" fill="url(#gni)"/>
<circle cx="541" cy="433.4" r="3.5" fill="url(#gni)"/>
<circle cx="541.5" cy="438.2" r="3.5" fill="url(#gni)"/>
<circle cx="561.4" cy="435.6" r="3.5" fill="url(#gni)"/>
<circle cx="563.4" cy="437.2" r="3.5" fill="url(#gni)"/>
<circle cx="565.4" cy="442.5" r="3.5" fill="url(#gni)"/>
<circle cx="575.2" cy="436.2" r="3.5" fill="url(#gni)"/>
<line x1="604" y1="436.2" x2="600.67" y2="453.3" stroke="#aab0ec" stroke-width="1.7" />
<line x1="604" y1="436.2" x2="601.2" y2="453.3" stroke="#c6c8f2" stroke-width="0.9" />
<line x1="610.6" y1="436.2" x2="610.7" y2="453.3" stroke="#aab0ec" stroke-width="1.7" />
<line x1="610.6" y1="436.2" x2="622.76" y2="453.3" stroke="#c6c8f2" stroke-width="0.9" />
<line x1="632.2" y1="433.4" x2="633.79" y2="453.3" stroke="#aab0ec" stroke-width="1.7" />
<line x1="632.7" y1="438.2" x2="632.68" y2="453.3" stroke="#aab0ec" stroke-width="1.7" />
<line x1="632.7" y1="438.2" x2="644.32" y2="453.3" stroke="#c6c8f2" stroke-width="0.9" />
<line x1="652.6" y1="435.6" x2="653.81" y2="453.3" stroke="#aab0ec" stroke-width="1.7" />
<line x1="652.6" y1="435.6" x2="665.88" y2="453.3" stroke="#c6c8f2" stroke-width="0.9" />
<line x1="654.6" y1="437.2" x2="653.78" y2="453.3" stroke="#aab0ec" stroke-width="1.7" />
<line x1="654.6" y1="437.2" x2="644.32" y2="453.3" stroke="#c6c8f2" stroke-width="0.9" />
<line x1="656.6" y1="442.5" x2="655.49" y2="453.3" stroke="#aab0ec" stroke-width="1.7" />
<line x1="656.6" y1="442.5" x2="644.32" y2="453.3" stroke="#c6c8f2" stroke-width="0.9" />
<line x1="666.4" y1="436.2" x2="666.11" y2="453.3" stroke="#aab0ec" stroke-width="1.7" />
<line x1="666.4" y1="436.2" x2="655.1" y2="453.3" stroke="#c6c8f2" stroke-width="0.9" />
<line x1="601.8" y1="440.1" x2="601.2" y2="453.3" stroke="#f0cdee" stroke-width="1.6" />
<line x1="620.6" y1="440.1" x2="622.76" y2="453.3" stroke="#f0cdee" stroke-width="1.6" />
<line x1="641.8" y1="440.1" x2="644.32" y2="453.3" stroke="#f0cdee" stroke-width="1.6" />
<line x1="664.6" y1="440.1" x2="665.88" y2="453.3" stroke="#f0cdee" stroke-width="1.6" />
<line x1="600.6" y1="432.3" x2="601.2" y2="453.3" stroke="#f0cdee" stroke-width="1.6" />
<line x1="603.6" y1="432.1" x2="601.2" y2="453.3" stroke="#f0cdee" stroke-width="1.6" />
<line x1="663" y1="432.1" x2="665.88" y2="453.3" stroke="#f0cdee" stroke-width="1.6" />
<line x1="666" y1="432.7" x2="665.88" y2="453.3" stroke="#f0cdee" stroke-width="1.6" />
<line x1="601.8" y1="440.1" x2="604" y2="436.2" stroke="#c0b0e4" stroke-width="1.3" />
<line x1="604" y1="436.2" x2="610.6" y2="436.2" stroke="#c0b0e4" stroke-width="1.3" />
<line x1="610.6" y1="436.2" x2="620.6" y2="440.1" stroke="#c0b0e4" stroke-width="1.3" />
<line x1="620.6" y1="440.1" x2="632.2" y2="433.4" stroke="#c0b0e4" stroke-width="1.3" />
<line x1="632.2" y1="433.4" x2="632.7" y2="438.2" stroke="#c0b0e4" stroke-width="1.3" />
<line x1="632.7" y1="438.2" x2="641.8" y2="440.1" stroke="#c0b0e4" stroke-width="1.3" />
<line x1="641.8" y1="440.1" x2="652.6" y2="435.6" stroke="#c0b0e4" stroke-width="1.3" />
<line x1="652.6" y1="435.6" x2="654.6" y2="437.2" stroke="#c0b0e4" stroke-width="1.3" />
<line x1="654.6" y1="437.2" x2="656.6" y2="442.5" stroke="#c0b0e4" stroke-width="1.3" />
<line x1="656.6" y1="442.5" x2="664.6" y2="440.1" stroke="#c0b0e4" stroke-width="1.3" />
<line x1="664.6" y1="440.1" x2="666.4" y2="436.2" stroke="#c0b0e4" stroke-width="1.3" />
<circle cx="601.8" cy="440.1" r="1.9" fill="#fbf0fb" stroke="#c994c9" stroke-width="1"/>
<circle cx="620.6" cy="440.1" r="1.9" fill="#fbf0fb" stroke="#c994c9" stroke-width="1"/>
<circle cx="641.8" cy="440.1" r="1.9" fill="#fbf0fb" stroke="#c994c9" stroke-width="1"/>
<circle cx="664.6" cy="440.1" r="1.9" fill="#fbf0fb" stroke="#c994c9" stroke-width="1"/>
<circle cx="600.6" cy="432.3" r="1.6" fill="#fbf0fb" stroke="#c994c9" stroke-width="1"/>
<circle cx="603.6" cy="432.1" r="1.6" fill="#fbf0fb" stroke="#c994c9" stroke-width="1"/>
<circle cx="663" cy="432.1" r="1.6" fill="#fbf0fb" stroke="#c994c9" stroke-width="1"/>
<circle cx="666" cy="432.7" r="1.6" fill="#fbf0fb" stroke="#c994c9" stroke-width="1"/>
<circle cx="604" cy="436.2" r="3.5" fill="url(#gni)"/>
<circle cx="610.6" cy="436.2" r="3.5" fill="url(#gni)"/>
<circle cx="632.2" cy="433.4" r="3.5" fill="url(#gni)"/>
<circle cx="632.7" cy="438.2" r="3.5" fill="url(#gni)"/>
<circle cx="652.6" cy="435.6" r="3.5" fill="url(#gni)"/>
<circle cx="654.6" cy="437.2" r="3.5" fill="url(#gni)"/>
<circle cx="656.6" cy="442.5" r="3.5" fill="url(#gni)"/>
<circle cx="666.4" cy="436.2" r="3.5" fill="url(#gni)"/>
<line x1="34.8" y1="526.4" x2="31.18" y2="543.5" stroke="#aab0ec" stroke-width="1.7" />
<line x1="41.4" y1="526.4" x2="41.25" y2="543.5" stroke="#aab0ec" stroke-width="1.7" />
<line x1="63" y1="523.6" x2="61.87" y2="543.5" stroke="#aab0ec" stroke-width="1.7" />
<line x1="63" y1="523.6" x2="52.74" y2="543.5" stroke="#c6c8f2" stroke-width="0.9" />
<line x1="63.5" y1="528.4" x2="62.81" y2="543.5" stroke="#aab0ec" stroke-width="1.7" />
<line x1="63.5" y1="528.4" x2="73.48" y2="543.5" stroke="#c6c8f2" stroke-width="0.9" />
<line x1="83.4" y1="525.8" x2="83.71" y2="543.5" stroke="#aab0ec" stroke-width="1.7" />
<line x1="83.4" y1="525.8" x2="73.48" y2="543.5" stroke="#c6c8f2" stroke-width="0.9" />
<line x1="85.4" y1="527.4" x2="85.04" y2="543.5" stroke="#aab0ec" stroke-width="1.7" />
<line x1="85.4" y1="527.4" x2="94.22" y2="543.5" stroke="#c6c8f2" stroke-width="0.9" />
<line x1="87.4" y1="532.7" x2="83.05" y2="543.5" stroke="#aab0ec" stroke-width="1.7" />
<line x1="87.4" y1="532.7" x2="94.22" y2="543.5" stroke="#c6c8f2" stroke-width="0.9" />
<line x1="97.2" y1="526.4" x2="94.28" y2="543.5" stroke="#aab0ec" stroke-width="1.7" />
<line x1="97.2" y1="526.4" x2="94.22" y2="543.5" stroke="#c6c8f2" stroke-width="0.9" />
<line x1="32.6" y1="530.3" x2="32" y2="543.5" stroke="#f0cdee" stroke-width="1.6" />
<line x1="51.4" y1="530.3" x2="52.74" y2="543.5" stroke="#f0cdee" stroke-width="1.6" />
<line x1="72.6" y1="530.3" x2="73.48" y2="543.5" stroke="#f0cdee" stroke-width="1.6" />
<line x1="95.4" y1="530.3" x2="94.22" y2="543.5" stroke="#f0cdee" stroke-width="1.6" />
<line x1="31.4" y1="522.5" x2="32" y2="543.5" stroke="#f0cdee" stroke-width="1.6" />
<line x1="34.4" y1="522.3" x2="32" y2="543.5" stroke="#f0cdee" stroke-width="1.6" />
<line x1="93.8" y1="522.3" x2="94.22" y2="543.5" stroke="#f0cdee" stroke-width="1.6" />
<line x1="96.8" y1="522.9" x2="94.22" y2="543.5" stroke="#f0cdee" stroke-width="1.6" />
<line x1="32.6" y1="530.3" x2="34.8" y2="526.4" stroke="#c0b0e4" stroke-width="1.3" />
<line x1="34.8" y1="526.4" x2="41.4" y2="526.4" stroke="#c0b0e4" stroke-width="1.3" />
<line x1="41.4" y1="526.4" x2="51.4" y2="530.3" stroke="#c0b0e4" stroke-width="1.3" />
<line x1="51.4" y1="530.3" x2="63" y2="523.6" stroke="#c0b0e4" stroke-width="1.3" />
<line x1="63" y1="523.6" x2="63.5" y2="528.4" stroke="#c0b0e4" stroke-width="1.3" />
<line x1="63.5" y1="528.4" x2="72.6" y2="530.3" stroke="#c0b0e4" stroke-width="1.3" />
<line x1="72.6" y1="530.3" x2="83.4" y2="525.8" stroke="#c0b0e4" stroke-width="1.3" />
<line x1="83.4" y1="525.8" x2="85.4" y2="527.4" stroke="#c0b0e4" stroke-width="1.3" />
<line x1="85.4" y1="527.4" x2="87.4" y2="532.7" stroke="#c0b0e4" stroke-width="1.3" />
<line x1="87.4" y1="532.7" x2="95.4" y2="530.3" stroke="#c0b0e4" stroke-width="1.3" />
<line x1="95.4" y1="530.3" x2="97.2" y2="526.4" stroke="#c0b0e4" stroke-width="1.3" />
<circle cx="32.6" cy="530.3" r="1.9" fill="#fbf0fb" stroke="#c994c9" stroke-width="1"/>
<circle cx="51.4" cy="530.3" r="1.9" fill="#fbf0fb" stroke="#c994c9" stroke-width="1"/>
<circle cx="72.6" cy="530.3" r="1.9" fill="#fbf0fb" stroke="#c994c9" stroke-width="1"/>
<circle cx="95.4" cy="530.3" r="1.9" fill="#fbf0fb" stroke="#c994c9" stroke-width="1"/>
<circle cx="31.4" cy="522.5" r="1.6" fill="#fbf0fb" stroke="#c994c9" stroke-width="1"/>
<circle cx="34.4" cy="522.3" r="1.6" fill="#fbf0fb" stroke="#c994c9" stroke-width="1"/>
<circle cx="93.8" cy="522.3" r="1.6" fill="#fbf0fb" stroke="#c994c9" stroke-width="1"/>
<circle cx="96.8" cy="522.9" r="1.6" fill="#fbf0fb" stroke="#c994c9" stroke-width="1"/>
<circle cx="34.8" cy="526.4" r="3.5" fill="url(#gni)"/>
<circle cx="41.4" cy="526.4" r="3.5" fill="url(#gni)"/>
<circle cx="63" cy="523.6" r="3.5" fill="url(#gni)"/>
<circle cx="63.5" cy="528.4" r="3.5" fill="url(#gni)"/>
<circle cx="83.4" cy="525.8" r="3.5" fill="url(#gni)"/>
<circle cx="85.4" cy="527.4" r="3.5" fill="url(#gni)"/>
<circle cx="87.4" cy="532.7" r="3.5" fill="url(#gni)"/>
<circle cx="97.2" cy="526.4" r="3.5" fill="url(#gni)"/>
<line x1="126.5" y1="528.5" x2="125.89" y2="543.5" stroke="#aab0ec" stroke-width="1.7" />
<line x1="126.5" y1="528.5" x2="126" y2="543.5" stroke="#c6c8f2" stroke-width="0.9" />
<line x1="131" y1="526.5" x2="125.06" y2="543.5" stroke="#aab0ec" stroke-width="1.7" />
<line x1="131" y1="526.5" x2="136.53" y2="543.5" stroke="#c6c8f2" stroke-width="0.9" />
<line x1="135" y1="529.5" x2="136.54" y2="543.5" stroke="#aab0ec" stroke-width="1.7" />
<line x1="157.5" y1="522.5" x2="156.33" y2="543.5" stroke="#aab0ec" stroke-width="1.7" />
<line x1="157.5" y1="522.5" x2="147.06" y2="543.5" stroke="#c6c8f2" stroke-width="0.9" />
<line x1="158" y1="527.5" x2="158.27" y2="543.5" stroke="#aab0ec" stroke-width="1.7" />
<line x1="158" y1="527.5" x2="168.12" y2="543.5" stroke="#c6c8f2" stroke-width="0.9" />
<line x1="178" y1="527.5" x2="180" y2="543.5" stroke="#aab0ec" stroke-width="1.7" />
<line x1="178" y1="527.5" x2="168.12" y2="543.5" stroke="#c6c8f2" stroke-width="0.9" />
<line x1="179.5" y1="533.5" x2="177.86" y2="543.5" stroke="#aab0ec" stroke-width="1.7" />
<line x1="179.5" y1="533.5" x2="168.12" y2="543.5" stroke="#c6c8f2" stroke-width="0.9" />
<line x1="189.2" y1="527.5" x2="190" y2="543.5" stroke="#aab0ec" stroke-width="1.7" />
<line x1="189.2" y1="527.5" x2="178.65" y2="543.5" stroke="#c6c8f2" stroke-width="0.9" />
<line x1="126.6" y1="530.3" x2="126" y2="543.5" stroke="#f0cdee" stroke-width="1.6" />
<line x1="145.4" y1="530.3" x2="147.06" y2="543.5" stroke="#f0cdee" stroke-width="1.6" />
<line x1="166.6" y1="530.3" x2="168.12" y2="543.5" stroke="#f0cdee" stroke-width="1.6" />
<line x1="189.4" y1="530.3" x2="189.18" y2="543.5" stroke="#f0cdee" stroke-width="1.6" />
<line x1="125.4" y1="522.5" x2="126" y2="543.5" stroke="#f0cdee" stroke-width="1.6" />
<line x1="128.4" y1="522.3" x2="126" y2="543.5" stroke="#f0cdee" stroke-width="1.6" />
<line x1="187.8" y1="522.3" x2="189.18" y2="543.5" stroke="#f0cdee" stroke-width="1.6" />
<line x1="190.8" y1="522.9" x2="189.18" y2="543.5" stroke="#f0cdee" stroke-width="1.6" />
<line x1="126.5" y1="528.5" x2="126.6" y2="530.3" stroke="#c0b0e4" stroke-width="1.3" />
<line x1="126.6" y1="530.3" x2="131" y2="526.5" stroke="#c0b0e4" stroke-width="1.3" />
<line x1="131" y1="526.5" x2="135" y2="529.5" stroke="#c0b0e4" stroke-width="1.3" />
<line x1="135" y1="529.5" x2="145.4" y2="530.3" stroke="#c0b0e4" stroke-width="1.3" />
<line x1="145.4" y1="530.3" x2="157.5" y2="522.5" stroke="#c0b0e4" stroke-width="1.3" />
<line x1="157.5" y1="522.5" x2="158" y2="527.5" stroke="#c0b0e4" stroke-width="1.3" />
<line x1="158" y1="527.5" x2="166.6" y2="530.3" stroke="#c0b0e4" stroke-width="1.3" />
<line x1="166.6" y1="530.3" x2="178" y2="527.5" stroke="#c0b0e4" stroke-width="1.3" />
<line x1="178" y1="527.5" x2="179.5" y2="533.5" stroke="#c0b0e4" stroke-width="1.3" />
<line x1="179.5" y1="533.5" x2="189.2" y2="527.5" stroke="#c0b0e4" stroke-width="1.3" />
<line x1="189.2" y1="527.5" x2="189.4" y2="530.3" stroke="#c0b0e4" stroke-width="1.3" />
<circle cx="126.6" cy="530.3" r="1.9" fill="#fbf0fb" stroke="#c994c9" stroke-width="1"/>
<circle cx="145.4" cy="530.3" r="1.9" fill="#fbf0fb" stroke="#c994c9" stroke-width="1"/>
<circle cx="166.6" cy="530.3" r="1.9" fill="#fbf0fb" stroke="#c994c9" stroke-width="1"/>
<circle cx="189.4" cy="530.3" r="1.9" fill="#fbf0fb" stroke="#c994c9" stroke-width="1"/>
<circle cx="125.4" cy="522.5" r="1.6" fill="#fbf0fb" stroke="#c994c9" stroke-width="1"/>
<circle cx="128.4" cy="522.3" r="1.6" fill="#fbf0fb" stroke="#c994c9" stroke-width="1"/>
<circle cx="187.8" cy="522.3" r="1.6" fill="#fbf0fb" stroke="#c994c9" stroke-width="1"/>
<circle cx="190.8" cy="522.9" r="1.6" fill="#fbf0fb" stroke="#c994c9" stroke-width="1"/>
<circle cx="126.5" cy="528.5" r="3.5" fill="url(#gni)"/>
<circle cx="131" cy="526.5" r="3.5" fill="url(#gni)"/>
<circle cx="135" cy="529.5" r="3.5" fill="url(#gni)"/>
<circle cx="157.5" cy="522.5" r="3.5" fill="url(#gni)"/>
<circle cx="158" cy="527.5" r="3.5" fill="url(#gni)"/>
<circle cx="178" cy="527.5" r="3.5" fill="url(#gni)"/>
<circle cx="179.5" cy="533.5" r="3.5" fill="url(#gni)"/>
<circle cx="189.2" cy="527.5" r="3.5" fill="url(#gni)"/>
<line x1="221" y1="527.5" x2="220.71" y2="543.5" stroke="#aab0ec" stroke-width="1.7" />
<line x1="221" y1="527.5" x2="220.5" y2="543.5" stroke="#c6c8f2" stroke-width="0.9" />
<line x1="227" y1="529.5" x2="229.8" y2="543.5" stroke="#aab0ec" stroke-width="1.7" />
<line x1="249.5" y1="527.5" x2="252.01" y2="543.5" stroke="#aab0ec" stroke-width="1.7" />
<line x1="249.5" y1="527.5" x2="240.86" y2="543.5" stroke="#c6c8f2" stroke-width="0.9" />
<line x1="251" y1="530.5" x2="249.64" y2="543.5" stroke="#aab0ec" stroke-width="1.7" />
<line x1="251" y1="530.5" x2="240.86" y2="543.5" stroke="#c6c8f2" stroke-width="0.9" />
<line x1="271" y1="527" x2="270.65" y2="543.5" stroke="#aab0ec" stroke-width="1.7" />
<line x1="272.5" y1="531.5" x2="272.89" y2="543.5" stroke="#aab0ec" stroke-width="1.7" />
<line x1="272.5" y1="531.5" x2="261.22" y2="543.5" stroke="#c6c8f2" stroke-width="0.9" />
<line x1="281.5" y1="527.5" x2="281.89" y2="543.5" stroke="#aab0ec" stroke-width="1.7" />
<line x1="281.5" y1="527.5" x2="281.58" y2="543.5" stroke="#c6c8f2" stroke-width="0.9" />
<line x1="221.1" y1="530.3" x2="220.5" y2="543.5" stroke="#f0cdee" stroke-width="1.6" />
<line x1="239.9" y1="530.3" x2="240.86" y2="543.5" stroke="#f0cdee" stroke-width="1.6" />
<line x1="261.1" y1="530.3" x2="261.22" y2="543.5" stroke="#f0cdee" stroke-width="1.6" />
<line x1="283.9" y1="530.3" x2="281.58" y2="543.5" stroke="#f0cdee" stroke-width="1.6" />
<line x1="219.9" y1="522.5" x2="220.5" y2="543.5" stroke="#f0cdee" stroke-width="1.6" />
<line x1="222.9" y1="522.3" x2="220.5" y2="543.5" stroke="#f0cdee" stroke-width="1.6" />
<line x1="282.3" y1="522.3" x2="281.58" y2="543.5" stroke="#f0cdee" stroke-width="1.6" />
<line x1="285.3" y1="522.9" x2="281.58" y2="543.5" stroke="#f0cdee" stroke-width="1.6" />
<line x1="221" y1="527.5" x2="221.1" y2="530.3" stroke="#c0b0e4" stroke-width="1.3" />
<line x1="221.1" y1="530.3" x2="227" y2="529.5" stroke="#c0b0e4" stroke-width="1.3" />
<line x1="227" y1="529.5" x2="239.9" y2="530.3" stroke="#c0b0e4" stroke-width="1.3" />
<line x1="239.9" y1="530.3" x2="249.5" y2="527.5" stroke="#c0b0e4" stroke-width="1.3" />
<line x1="249.5" y1="527.5" x2="251" y2="530.5" stroke="#c0b0e4" stroke-width="1.3" />
<line x1="251" y1="530.5" x2="261.1" y2="530.3" stroke="#c0b0e4" stroke-width="1.3" />
<line x1="261.1" y1="530.3" x2="271" y2="527" stroke="#c0b0e4" stroke-width="1.3" />
<line x1="271" y1="527" x2="272.5" y2="531.5" stroke="#c0b0e4" stroke-width="1.3" />
<line x1="272.5" y1="531.5" x2="281.5" y2="527.5" stroke="#c0b0e4" stroke-width="1.3" />
<line x1="281.5" y1="527.5" x2="283.9" y2="530.3" stroke="#c0b0e4" stroke-width="1.3" />
<circle cx="221.1" cy="530.3" r="1.9" fill="#fbf0fb" stroke="#c994c9" stroke-width="1"/>
<circle cx="239.9" cy="530.3" r="1.9" fill="#fbf0fb" stroke="#c994c9" stroke-width="1"/>
<circle cx="261.1" cy="530.3" r="1.9" fill="#fbf0fb" stroke="#c994c9" stroke-width="1"/>
<circle cx="283.9" cy="530.3" r="1.9" fill="#fbf0fb" stroke="#c994c9" stroke-width="1"/>
<circle cx="219.9" cy="522.5" r="1.6" fill="#fbf0fb" stroke="#c994c9" stroke-width="1"/>
<circle cx="222.9" cy="522.3" r="1.6" fill="#fbf0fb" stroke="#c994c9" stroke-width="1"/>
<circle cx="282.3" cy="522.3" r="1.6" fill="#fbf0fb" stroke="#c994c9" stroke-width="1"/>
<circle cx="285.3" cy="522.9" r="1.6" fill="#fbf0fb" stroke="#c994c9" stroke-width="1"/>
<circle cx="221" cy="527.5" r="3.5" fill="url(#gni)"/>
<circle cx="227" cy="529.5" r="3.5" fill="url(#gni)"/>
<circle cx="249.5" cy="527.5" r="3.5" fill="url(#gni)"/>
<circle cx="251" cy="530.5" r="3.5" fill="url(#gni)"/>
<circle cx="271" cy="527" r="3.5" fill="url(#gni)"/>
<circle cx="272.5" cy="531.5" r="3.5" fill="url(#gni)"/>
<circle cx="281.5" cy="527.5" r="3.5" fill="url(#gni)"/>
<line x1="315.6" y1="527.5" x2="314.96" y2="543.5" stroke="#aab0ec" stroke-width="1.7" />
<line x1="315.6" y1="527.5" x2="325.9" y2="543.5" stroke="#c6c8f2" stroke-width="0.9" />
<line x1="321.6" y1="529.5" x2="325.76" y2="543.5" stroke="#aab0ec" stroke-width="1.7" />
<line x1="347.1" y1="527.5" x2="346.57" y2="543.5" stroke="#aab0ec" stroke-width="1.7" />
<line x1="349.1" y1="531.5" x2="347.43" y2="543.5" stroke="#aab0ec" stroke-width="1.7" />
<line x1="349.1" y1="531.5" x2="336.7" y2="543.5" stroke="#c6c8f2" stroke-width="0.9" />
<line x1="367.6" y1="527.5" x2="367.88" y2="543.5" stroke="#aab0ec" stroke-width="1.7" />
<line x1="367.6" y1="527.5" x2="358.3" y2="543.5" stroke="#c6c8f2" stroke-width="0.9" />
<line x1="369.6" y1="531.5" x2="369.22" y2="543.5" stroke="#aab0ec" stroke-width="1.7" />
<line x1="379.6" y1="527.5" x2="380.3" y2="543.5" stroke="#aab0ec" stroke-width="1.7" />
<line x1="379.6" y1="527.5" x2="379.9" y2="543.5" stroke="#c6c8f2" stroke-width="0.9" />
<line x1="315.7" y1="530.3" x2="315.1" y2="543.5" stroke="#f0cdee" stroke-width="1.6" />
<line x1="334.5" y1="530.3" x2="336.7" y2="543.5" stroke="#f0cdee" stroke-width="1.6" />
<line x1="355.7" y1="530.3" x2="358.3" y2="543.5" stroke="#f0cdee" stroke-width="1.6" />
<line x1="378.5" y1="530.3" x2="379.9" y2="543.5" stroke="#f0cdee" stroke-width="1.6" />
<line x1="314.5" y1="522.5" x2="315.1" y2="543.5" stroke="#f0cdee" stroke-width="1.6" />
<line x1="317.5" y1="522.3" x2="315.1" y2="543.5" stroke="#f0cdee" stroke-width="1.6" />
<line x1="376.9" y1="522.3" x2="379.9" y2="543.5" stroke="#f0cdee" stroke-width="1.6" />
<line x1="379.9" y1="522.9" x2="379.9" y2="543.5" stroke="#f0cdee" stroke-width="1.6" />
<line x1="315.6" y1="527.5" x2="315.7" y2="530.3" stroke="#c0b0e4" stroke-width="1.3" />
<line x1="315.7" y1="530.3" x2="321.6" y2="529.5" stroke="#c0b0e4" stroke-width="1.3" />
<line x1="321.6" y1="529.5" x2="334.5" y2="530.3" stroke="#c0b0e4" stroke-width="1.3" />
<line x1="334.5" y1="530.3" x2="347.1" y2="527.5" stroke="#c0b0e4" stroke-width="1.3" />
<line x1="347.1" y1="527.5" x2="349.1" y2="531.5" stroke="#c0b0e4" stroke-width="1.3" />
<line x1="349.1" y1="531.5" x2="355.7" y2="530.3" stroke="#c0b0e4" stroke-width="1.3" />
<line x1="355.7" y1="530.3" x2="367.6" y2="527.5" stroke="#c0b0e4" stroke-width="1.3" />
<line x1="367.6" y1="527.5" x2="369.6" y2="531.5" stroke="#c0b0e4" stroke-width="1.3" />
<line x1="369.6" y1="531.5" x2="378.5" y2="530.3" stroke="#c0b0e4" stroke-width="1.3" />
<line x1="378.5" y1="530.3" x2="379.6" y2="527.5" stroke="#c0b0e4" stroke-width="1.3" />
<circle cx="315.7" cy="530.3" r="1.9" fill="#fbf0fb" stroke="#c994c9" stroke-width="1"/>
<circle cx="334.5" cy="530.3" r="1.9" fill="#fbf0fb" stroke="#c994c9" stroke-width="1"/>
<circle cx="355.7" cy="530.3" r="1.9" fill="#fbf0fb" stroke="#c994c9" stroke-width="1"/>
<circle cx="378.5" cy="530.3" r="1.9" fill="#fbf0fb" stroke="#c994c9" stroke-width="1"/>
<circle cx="314.5" cy="522.5" r="1.6" fill="#fbf0fb" stroke="#c994c9" stroke-width="1"/>
<circle cx="317.5" cy="522.3" r="1.6" fill="#fbf0fb" stroke="#c994c9" stroke-width="1"/>
<circle cx="376.9" cy="522.3" r="1.6" fill="#fbf0fb" stroke="#c994c9" stroke-width="1"/>
<circle cx="379.9" cy="522.9" r="1.6" fill="#fbf0fb" stroke="#c994c9" stroke-width="1"/>
<circle cx="315.6" cy="527.5" r="3.5" fill="url(#gni)"/>
<circle cx="321.6" cy="529.5" r="3.5" fill="url(#gni)"/>
<circle cx="347.1" cy="527.5" r="3.5" fill="url(#gni)"/>
<circle cx="349.1" cy="531.5" r="3.5" fill="url(#gni)"/>
<circle cx="367.6" cy="527.5" r="3.5" fill="url(#gni)"/>
<circle cx="369.6" cy="531.5" r="3.5" fill="url(#gni)"/>
<circle cx="379.6" cy="527.5" r="3.5" fill="url(#gni)"/>
<circle cx="433.6" cy="520.6" r="1.8" fill="url(#ggr)"/>
<circle cx="440.4" cy="530.3" r="1.6" fill="url(#ggr)"/>
<line x1="433.6" y1="520.6" x2="440.4" y2="530.3" stroke="#58c020" stroke-width="1.4" />
<line x1="440.4" y1="530.3" x2="437.5" y2="537" stroke="#58c020" stroke-width="1.2" />
<circle cx="448.5" cy="527.6" r="3.5" fill="url(#gni)"/>
<circle cx="452" cy="527.3" r="3.3" fill="url(#gni)"/>
<circle cx="337" cy="513.2" r="1.9" fill="url(#ggr)"/>
<circle cx="344" cy="511.3" r="1.9" fill="url(#ggr)"/>
<line x1="337" y1="513.2" x2="344" y2="511.3" stroke="#58c020" stroke-width="1.4" />
<line x1="339" y1="518" x2="336.5" y2="526.5" stroke="#f08a30" stroke-width="0.7" />
<line x1="336.5" y1="526.5" x2="335.2" y2="524.5" stroke="#f08a30" stroke-width="0.7" />
<line x1="336.5" y1="526.5" x2="338.2" y2="524.8" stroke="#f08a30" stroke-width="0.7" />
<line x1="153.8" y1="415.5" x2="164.1" y2="414.6" stroke="#909090" stroke-width="1.2" />
<line x1="153.8" y1="415.5" x2="149.2" y2="412" stroke="#90d8d8" stroke-width="0.9" />
<line x1="153.8" y1="415.5" x2="151.4" y2="412.4" stroke="#90d8d8" stroke-width="0.9" />
<line x1="153.8" y1="415.5" x2="151.6" y2="423.1" stroke="#90d8d8" stroke-width="0.9" />
<line x1="164.1" y1="414.6" x2="166.5" y2="407.2" stroke="#90d8d8" stroke-width="0.9" />
<line x1="164.1" y1="414.6" x2="166" y2="417.9" stroke="#90d8d8" stroke-width="0.9" />
<line x1="164.1" y1="414.6" x2="168.7" y2="418.8" stroke="#90d8d8" stroke-width="0.9" />
<circle cx="149.2" cy="412" r="1.15" fill="#d8f8f8" stroke="#58c8c8" stroke-width="0.8"/>
<circle cx="151.4" cy="412.4" r="1.15" fill="#d8f8f8" stroke="#58c8c8" stroke-width="0.8"/>
<circle cx="151.6" cy="423.1" r="1.15" fill="#d8f8f8" stroke="#58c8c8" stroke-width="0.8"/>
<circle cx="166.5" cy="407.2" r="1.15" fill="#d8f8f8" stroke="#58c8c8" stroke-width="0.8"/>
<circle cx="166" cy="417.9" r="1.15" fill="#d8f8f8" stroke="#58c8c8" stroke-width="0.8"/>
<circle cx="168.7" cy="418.8" r="1.15" fill="#d8f8f8" stroke="#58c8c8" stroke-width="0.8"/>
<circle cx="153.8" cy="415.5" r="1.5" fill="#e8e8e8" stroke="#808080" stroke-width="0.9"/>
<circle cx="164.1" cy="414.6" r="1.5" fill="#e8e8e8" stroke="#808080" stroke-width="0.9"/>
<line x1="533.8" y1="417" x2="540.9" y2="411.8" stroke="#909090" stroke-width="1.2" />
<line x1="533.8" y1="417" x2="528.5" y2="416.5" stroke="#90d8d8" stroke-width="0.9" />
<line x1="533.8" y1="417" x2="535.5" y2="423.5" stroke="#90d8d8" stroke-width="0.9" />
<line x1="533.8" y1="417" x2="531" y2="420" stroke="#90d8d8" stroke-width="0.9" />
<line x1="540.9" y1="411.8" x2="541" y2="404.5" stroke="#90d8d8" stroke-width="0.9" />
<line x1="540.9" y1="411.8" x2="547.5" y2="413" stroke="#90d8d8" stroke-width="0.9" />
<line x1="540.9" y1="411.8" x2="545" y2="410.5" stroke="#90d8d8" stroke-width="0.9" />
<circle cx="528.5" cy="416.5" r="1.15" fill="#d8f8f8" stroke="#58c8c8" stroke-width="0.8"/>
<circle cx="535.5" cy="423.5" r="1.15" fill="#d8f8f8" stroke="#58c8c8" stroke-width="0.8"/>
<circle cx="531" cy="420" r="1.15" fill="#d8f8f8" stroke="#58c8c8" stroke-width="0.8"/>
<circle cx="541" cy="404.5" r="1.15" fill="#d8f8f8" stroke="#58c8c8" stroke-width="0.8"/>
<circle cx="547.5" cy="413" r="1.15" fill="#d8f8f8" stroke="#58c8c8" stroke-width="0.8"/>
<circle cx="545" cy="410.5" r="1.15" fill="#d8f8f8" stroke="#58c8c8" stroke-width="0.8"/>
<circle cx="533.8" cy="417" r="1.5" fill="#e8e8e8" stroke="#808080" stroke-width="0.9"/>
<circle cx="540.9" cy="411.8" r="1.5" fill="#e8e8e8" stroke="#808080" stroke-width="0.9"/>
<line x1="248.8" y1="425.9" x2="250.9" y2="437.7" stroke="#9898d8" stroke-width="1.1" />
<line x1="248.8" y1="425.9" x2="255" y2="421.1" stroke="#909090" stroke-width="1.2" />
<line x1="248.8" y1="425.9" x2="242.5" y2="425.5" stroke="#90d8d8" stroke-width="0.9" />
<line x1="248.8" y1="425.9" x2="246.5" y2="430" stroke="#90d8d8" stroke-width="0.9" />
<line x1="255" y1="421.1" x2="258.5" y2="412.5" stroke="#90d8d8" stroke-width="0.9" />
<line x1="255" y1="421.1" x2="261.5" y2="421.5" stroke="#90d8d8" stroke-width="0.9" />
<line x1="255" y1="421.1" x2="253.5" y2="414" stroke="#90d8d8" stroke-width="0.9" />
<circle cx="242.5" cy="425.5" r="1.15" fill="#d8f8f8" stroke="#58c8c8" stroke-width="0.8"/>
<circle cx="246.5" cy="430" r="1.15" fill="#d8f8f8" stroke="#58c8c8" stroke-width="0.8"/>
<circle cx="258.5" cy="412.5" r="1.15" fill="#d8f8f8" stroke="#58c8c8" stroke-width="0.8"/>
<circle cx="261.5" cy="421.5" r="1.15" fill="#d8f8f8" stroke="#58c8c8" stroke-width="0.8"/>
<circle cx="253.5" cy="414" r="1.15" fill="#d8f8f8" stroke="#58c8c8" stroke-width="0.8"/>
<circle cx="248.8" cy="425.9" r="1.5" fill="#e8e8e8" stroke="#808080" stroke-width="0.9"/>
<circle cx="255" cy="421.1" r="1.5" fill="#e8e8e8" stroke="#808080" stroke-width="0.9"/>
<line x1="346.2" y1="418.1" x2="350.3" y2="431.6" stroke="#9898d8" stroke-width="1.1" />
<line x1="341.5" y1="420.8" x2="346.2" y2="418.1" stroke="#909090" stroke-width="1.2" />
<line x1="341.5" y1="420.8" x2="335.1" y2="422.5" stroke="#90d8d8" stroke-width="0.9" />
<line x1="341.5" y1="420.8" x2="341.5" y2="417.8" stroke="#90d8d8" stroke-width="0.9" />
<line x1="346.2" y1="418.1" x2="352.6" y2="414.1" stroke="#90d8d8" stroke-width="0.9" />
<circle cx="335.1" cy="422.5" r="1.15" fill="#d8f8f8" stroke="#58c8c8" stroke-width="0.8"/>
<circle cx="341.5" cy="417.8" r="1.15" fill="#d8f8f8" stroke="#58c8c8" stroke-width="0.8"/>
<circle cx="352.6" cy="414.1" r="1.15" fill="#d8f8f8" stroke="#58c8c8" stroke-width="0.8"/>
<circle cx="341.5" cy="420.8" r="1.5" fill="#e8e8e8" stroke="#808080" stroke-width="0.9"/>
<circle cx="346.2" cy="418.1" r="1.5" fill="#e8e8e8" stroke="#808080" stroke-width="0.9"/>
<line x1="626" y1="422" x2="633.5" y2="432" stroke="#9898d8" stroke-width="1.1" />
<line x1="626" y1="422" x2="627.5" y2="413" stroke="#909090" stroke-width="1.2" />
<line x1="626" y1="422" x2="620" y2="423" stroke="#90d8d8" stroke-width="0.9" />
<line x1="626" y1="422" x2="624.5" y2="426" stroke="#90d8d8" stroke-width="0.9" />
<line x1="627.5" y1="413" x2="624" y2="407" stroke="#90d8d8" stroke-width="0.9" />
<line x1="627.5" y1="413" x2="633" y2="411.5" stroke="#90d8d8" stroke-width="0.9" />
<line x1="627.5" y1="413" x2="629" y2="407.5" stroke="#90d8d8" stroke-width="0.9" />
<circle cx="620" cy="423" r="1.15" fill="#d8f8f8" stroke="#58c8c8" stroke-width="0.8"/>
<circle cx="624.5" cy="426" r="1.15" fill="#d8f8f8" stroke="#58c8c8" stroke-width="0.8"/>
<circle cx="624" cy="407" r="1.15" fill="#d8f8f8" stroke="#58c8c8" stroke-width="0.8"/>
<circle cx="633" cy="411.5" r="1.15" fill="#d8f8f8" stroke="#58c8c8" stroke-width="0.8"/>
<circle cx="629" cy="407.5" r="1.15" fill="#d8f8f8" stroke="#58c8c8" stroke-width="0.8"/>
<circle cx="626" cy="422" r="1.5" fill="#e8e8e8" stroke="#808080" stroke-width="0.9"/>
<circle cx="627.5" cy="413" r="1.5" fill="#e8e8e8" stroke="#808080" stroke-width="0.9"/>
<line x1="53.5" y1="518.5" x2="62" y2="523.5" stroke="#9898d8" stroke-width="1.1" />
<line x1="53.5" y1="518.5" x2="54.5" y2="509" stroke="#909090" stroke-width="1.2" />
<line x1="53.5" y1="518.5" x2="47.5" y2="520.5" stroke="#90d8d8" stroke-width="0.9" />
<line x1="53.5" y1="518.5" x2="52" y2="521.5" stroke="#90d8d8" stroke-width="0.9" />
<line x1="54.5" y1="509" x2="50" y2="504" stroke="#90d8d8" stroke-width="0.9" />
<line x1="54.5" y1="509" x2="58.5" y2="503.5" stroke="#90d8d8" stroke-width="0.9" />
<line x1="54.5" y1="509" x2="59" y2="510" stroke="#90d8d8" stroke-width="0.9" />
<circle cx="47.5" cy="520.5" r="1.15" fill="#d8f8f8" stroke="#58c8c8" stroke-width="0.8"/>
<circle cx="52" cy="521.5" r="1.15" fill="#d8f8f8" stroke="#58c8c8" stroke-width="0.8"/>
<circle cx="50" cy="504" r="1.15" fill="#d8f8f8" stroke="#58c8c8" stroke-width="0.8"/>
<circle cx="58.5" cy="503.5" r="1.15" fill="#d8f8f8" stroke="#58c8c8" stroke-width="0.8"/>
<circle cx="59" cy="510" r="1.15" fill="#d8f8f8" stroke="#58c8c8" stroke-width="0.8"/>
<circle cx="53.5" cy="518.5" r="1.5" fill="#e8e8e8" stroke="#808080" stroke-width="0.9"/>
<circle cx="54.5" cy="509" r="1.5" fill="#e8e8e8" stroke="#808080" stroke-width="0.9"/>
<line x1="146.5" y1="516" x2="156.5" y2="522" stroke="#9898d8" stroke-width="1.1" />
<line x1="146.5" y1="516" x2="148" y2="509.5" stroke="#909090" stroke-width="1.2" />
<line x1="146.5" y1="516" x2="141" y2="520" stroke="#90d8d8" stroke-width="0.9" />
<line x1="148" y1="509.5" x2="150" y2="505" stroke="#90d8d8" stroke-width="0.9" />
<line x1="148" y1="509.5" x2="152" y2="518.5" stroke="#90d8d8" stroke-width="0.9" />
<circle cx="141" cy="520" r="1.15" fill="#d8f8f8" stroke="#58c8c8" stroke-width="0.8"/>
<circle cx="150" cy="505" r="1.15" fill="#d8f8f8" stroke="#58c8c8" stroke-width="0.8"/>
<circle cx="152" cy="518.5" r="1.15" fill="#d8f8f8" stroke="#58c8c8" stroke-width="0.8"/>
<circle cx="146.5" cy="516" r="1.5" fill="#e8e8e8" stroke="#808080" stroke-width="0.9"/>
<circle cx="148" cy="509.5" r="1.5" fill="#e8e8e8" stroke="#808080" stroke-width="0.9"/>
<line x1="235.6" y1="439.9" x2="239.9" y2="435.6" stroke="#e870b0" stroke-width="0.9" />
<circle cx="239.9" cy="435.6" r="1.1" fill="#d8f8f8" stroke="#58c8c8" stroke-width="0.8"/>
<line x1="235.6" y1="439.9" x2="227.6" y2="440.4" stroke="#d81878" stroke-width="1.5" />
<line x1="235.6" y1="439.9" x2="237.1" y2="444.4" stroke="#d81878" stroke-width="1.5" />
<circle cx="235.6" cy="439.9" r="2.2" fill="url(#gac)"/>
<line x1="334" y1="437.9" x2="338.6" y2="434.2" stroke="#e870b0" stroke-width="0.9" />
<circle cx="338.6" cy="434.2" r="1.1" fill="#d8f8f8" stroke="#58c8c8" stroke-width="0.8"/>
<line x1="334" y1="437.9" x2="327" y2="437.9" stroke="#d81878" stroke-width="1.5" />
<line x1="334" y1="437.9" x2="335.5" y2="443.4" stroke="#d81878" stroke-width="1.5" />
<circle cx="334" cy="437.9" r="2.2" fill="url(#gac)"/>
<line x1="360.8" y1="431.6" x2="362.6" y2="426" stroke="#e870b0" stroke-width="0.9" />
<circle cx="362.6" cy="426" r="1.1" fill="#d8f8f8" stroke="#58c8c8" stroke-width="0.8"/>
<line x1="360.8" y1="431.6" x2="356.8" y2="431.6" stroke="#d81878" stroke-width="1.5" />
<line x1="360.8" y1="431.6" x2="364.8" y2="433.1" stroke="#d81878" stroke-width="1.5" />
<circle cx="360.8" cy="431.6" r="2.2" fill="url(#gac)"/>
<line x1="430.5" y1="439.5" x2="436" y2="435" stroke="#e870b0" stroke-width="0.9" />
<circle cx="436" cy="435" r="1.1" fill="#d8f8f8" stroke="#58c8c8" stroke-width="0.8"/>
<line x1="430.5" y1="439.5" x2="423.5" y2="439.5" stroke="#d81878" stroke-width="1.5" />
<line x1="430.5" y1="439.5" x2="432" y2="444.5" stroke="#d81878" stroke-width="1.5" />
<circle cx="430.5" cy="439.5" r="2.2" fill="url(#gac)"/>
<line x1="457" y1="432" x2="458" y2="426.5" stroke="#e870b0" stroke-width="0.9" />
<circle cx="458" cy="426.5" r="1.1" fill="#d8f8f8" stroke="#58c8c8" stroke-width="0.8"/>
<line x1="457" y1="432" x2="453" y2="432" stroke="#d81878" stroke-width="1.5" />
<line x1="457" y1="432" x2="461" y2="433.5" stroke="#d81878" stroke-width="1.5" />
<circle cx="457" cy="432" r="2.2" fill="url(#gac)"/>
<line x1="526.7" y1="440" x2="532" y2="436" stroke="#e870b0" stroke-width="0.9" />
<circle cx="532" cy="436" r="1.1" fill="#d8f8f8" stroke="#58c8c8" stroke-width="0.8"/>
<line x1="526.7" y1="440" x2="519.7" y2="440" stroke="#d81878" stroke-width="1.5" />
<line x1="526.7" y1="440" x2="528.2" y2="445" stroke="#d81878" stroke-width="1.5" />
<circle cx="526.7" cy="440" r="2.2" fill="url(#gac)"/>
<line x1="552.5" y1="431.5" x2="552.3" y2="426" stroke="#e870b0" stroke-width="0.9" />
<circle cx="552.3" cy="426" r="1.1" fill="#d8f8f8" stroke="#58c8c8" stroke-width="0.8"/>
<line x1="552.5" y1="431.5" x2="548.5" y2="431.5" stroke="#d81878" stroke-width="1.5" />
<line x1="552.5" y1="431.5" x2="556.5" y2="433" stroke="#d81878" stroke-width="1.5" />
<line x1="552.5" y1="431.5" x2="552.5" y2="439.5" stroke="#d81878" stroke-width="1.5" />
<circle cx="552.5" cy="431.5" r="2.2" fill="url(#gac)"/>
<line x1="623.5" y1="436.5" x2="627" y2="433" stroke="#e870b0" stroke-width="0.9" />
<circle cx="627" cy="433" r="1.1" fill="#d8f8f8" stroke="#58c8c8" stroke-width="0.8"/>
<line x1="623.5" y1="436.5" x2="617.5" y2="436.5" stroke="#d81878" stroke-width="1.5" />
<line x1="623.5" y1="436.5" x2="624.5" y2="441.5" stroke="#d81878" stroke-width="1.5" />
<circle cx="623.5" cy="436.5" r="2.2" fill="url(#gac)"/>
<line x1="645" y1="430.5" x2="645.5" y2="425.2" stroke="#e870b0" stroke-width="0.9" />
<circle cx="645.5" cy="425.2" r="1.1" fill="#d8f8f8" stroke="#58c8c8" stroke-width="0.8"/>
<line x1="645" y1="430.5" x2="641" y2="430.5" stroke="#d81878" stroke-width="1.5" />
<line x1="645" y1="430.5" x2="649" y2="432" stroke="#d81878" stroke-width="1.5" />
<circle cx="645" cy="430.5" r="2.2" fill="url(#gac)"/>
<line x1="73" y1="522.5" x2="73.5" y2="517" stroke="#e870b0" stroke-width="0.9" />
<circle cx="73.5" cy="517" r="1.1" fill="#d8f8f8" stroke="#58c8c8" stroke-width="0.8"/>
<line x1="73" y1="522.5" x2="69" y2="522.5" stroke="#d81878" stroke-width="1.5" />
<line x1="73" y1="522.5" x2="77" y2="524" stroke="#d81878" stroke-width="1.5" />
<circle cx="73" cy="522.5" r="2.2" fill="url(#gac)"/>
<line x1="166.5" y1="517.5" x2="172.5" y2="518.5" stroke="#e870b0" stroke-width="0.9" />
<circle cx="172.5" cy="518.5" r="1.1" fill="#d8f8f8" stroke="#58c8c8" stroke-width="0.8"/>
<line x1="166.5" y1="517.5" x2="162.5" y2="519.5" stroke="#d81878" stroke-width="1.5" />
<circle cx="166.5" cy="517.5" r="2.2" fill="url(#gac)"/>
<line x1="255.5" y1="521" x2="261.5" y2="520.5" stroke="#e870b0" stroke-width="0.9" />
<circle cx="261.5" cy="520.5" r="1.1" fill="#d8f8f8" stroke="#58c8c8" stroke-width="0.8"/>
<line x1="255.5" y1="521" x2="252.5" y2="524" stroke="#d81878" stroke-width="1.5" />
<circle cx="255.5" cy="521" r="2.2" fill="url(#gac)"/>
<text x="32.3" y="421.8" font-size="9.6" text-anchor="middle" fill="#222"  stroke="#222">I</text>
<text x="129.1" y="421.8" font-size="9.6" text-anchor="middle" fill="#222"  stroke="#222">II</text>
<text x="229.4" y="421.8" font-size="9.6" text-anchor="middle" fill="#222"  stroke="#222">III</text>
<text x="319.7" y="421.8" font-size="9.6" text-anchor="middle" fill="#222"  stroke="#222">IV</text>
<text x="414.4" y="421.8" font-size="9.6" text-anchor="middle" fill="#222"  stroke="#222">V</text>
<text x="512.6" y="421.8" font-size="9.6" text-anchor="middle" fill="#222"  stroke="#222">VI</text>
<text x="603" y="421.8" font-size="9.6" text-anchor="middle" fill="#222"  stroke="#222">VII</text>
<text x="36.7" y="515.8" font-size="7.8" text-anchor="middle" fill="#222"  stroke="#222">VIII</text>
<text x="130.3" y="515.8" font-size="7.8" text-anchor="middle" fill="#222"  stroke="#222">IX</text>
<text x="228.3" y="515.8" font-size="7.8" text-anchor="middle" fill="#222"  stroke="#222">X</text>
<text x="319.3" y="515.8" font-size="7.8" text-anchor="middle" fill="#222"  stroke="#222">XI</text>
<text x="416" y="515.8" font-size="7.8" text-anchor="middle" fill="#222"  stroke="#222">XII</text>
<text x="513.8" y="515.8" font-size="7.8" text-anchor="middle" fill="#222"  stroke="#222">XIII</text>
<text x="62.6" y="496.5" font-size="8.3" text-anchor="middle" fill="#111" stroke="#111">*</text>
<text x="155.6" y="498.4" font-size="8.3" text-anchor="middle" fill="#111" stroke="#111"><tspan font-size="5.5" baseline-shift="2.5">*</tspan>C<tspan font-size="5.8" baseline-shift="-2.2">2</tspan>H<tspan font-size="5.8" baseline-shift="-2.2">6</tspan></text>
<text x="250.6" y="497.6" font-size="8.3" text-anchor="middle" fill="#111" stroke="#111">*C<tspan font-size="5.8" baseline-shift="-2.2">2</tspan>H<tspan font-size="5.8" baseline-shift="-2.2">5</tspan> + *<tspan fill="#f02020" stroke="#f02020">O</tspan><tspan font-size="5.8" baseline-shift="-2.2" fill="#f02020" stroke="#f02020">L</tspan>H</text>
<text x="348.8" y="497.6" font-size="8.3" text-anchor="middle" fill="#111" stroke="#111">*C<tspan font-size="5.8" baseline-shift="-2.2">2</tspan>H<tspan font-size="5.8" baseline-shift="-2.2">4</tspan> + 2*<tspan fill="#f02020" stroke="#f02020">O</tspan><tspan font-size="5.8" baseline-shift="-2.2" fill="#f02020" stroke="#f02020">L</tspan>H</text>
<text x="447.4" y="497.6" font-size="8.3" text-anchor="middle" fill="#111" stroke="#111">2*<tspan fill="#f02020" stroke="#f02020">O</tspan><tspan font-size="5.8" baseline-shift="-2.2" fill="#f02020" stroke="#f02020">L</tspan>H</text>
<text x="540.9" y="497.6" font-size="8.3" text-anchor="middle" fill="#111" stroke="#111">*C<tspan font-size="5.8" baseline-shift="-2.2">2</tspan>H<tspan font-size="5.8" baseline-shift="-2.2">6</tspan> + 2*<tspan fill="#f02020" stroke="#f02020">O</tspan><tspan font-size="5.8" baseline-shift="-2.2" fill="#f02020" stroke="#f02020">L</tspan>H</text>
<text x="633.6" y="497.6" font-size="8.3" text-anchor="middle" fill="#111" stroke="#111">*C<tspan font-size="5.8" baseline-shift="-2.2">2</tspan>H<tspan font-size="5.8" baseline-shift="-2.2">5</tspan> + *<tspan fill="#f02020" stroke="#f02020">O</tspan><tspan font-size="5.8" baseline-shift="-2.2" fill="#f02020" stroke="#f02020">L</tspan> H + *H<tspan font-size="5.8" baseline-shift="-2.2">2</tspan><tspan fill="#f02020" stroke="#f02020">O</tspan><tspan font-size="5.8" baseline-shift="-2.2" fill="#f02020" stroke="#f02020">L</tspan></text>
<text x="63.1" y="589.6" font-size="8.3" text-anchor="middle" fill="#111" stroke="#111">*C<tspan font-size="5.8" baseline-shift="-2.2">2</tspan>H<tspan font-size="5.8" baseline-shift="-2.2">5</tspan> + *<tspan fill="#f02020" stroke="#f02020">O</tspan><tspan font-size="5.8" baseline-shift="-2.2" fill="#f02020" stroke="#f02020">L</tspan>H</text>
<text x="156.3" y="589.6" font-size="8.3" text-anchor="middle" fill="#111" stroke="#111">*C<tspan font-size="5.8" baseline-shift="-2.2">2</tspan>H<tspan font-size="5.8" baseline-shift="-2.2">4</tspan> + *H<tspan font-size="5.8" baseline-shift="-2.2">2</tspan><tspan fill="#f02020" stroke="#f02020">O</tspan><tspan font-size="5.8" baseline-shift="-2.2" fill="#f02020" stroke="#f02020">L</tspan></text>
<text x="250.5" y="589.6" font-size="8.3" text-anchor="middle" fill="#111" stroke="#111">*H<tspan font-size="5.8" baseline-shift="-2.2">2</tspan><tspan fill="#f02020" stroke="#f02020">O</tspan><tspan font-size="5.8" baseline-shift="-2.2" fill="#f02020" stroke="#f02020">L</tspan></text>
<text x="349.1" y="589.6" font-size="8.3" text-anchor="middle" fill="#78d830" stroke="#78d830">O<tspan font-size="5.8" baseline-shift="-2.2">2</tspan> (g)</text>
<text x="447.9" y="589.6" font-size="8.3" text-anchor="middle" fill="#111" stroke="#111">*<tspan fill="#78d830" stroke="#78d830">O</tspan><tspan font-size="5.8" baseline-shift="-2.2" fill="#78d830" stroke="#78d830">2</tspan></text>
<text x="543.4" y="588.5" font-size="8.3" text-anchor="middle" fill="#111" stroke="#111">*</text>
<circle cx="613.6" cy="529.6" r="4.8" fill="url(#gni)"/>
<text x="621.9" y="532.6" font-size="8.8" text-anchor="start" fill="#8282c8"  stroke="#8282c8">Ni</text>
<circle cx="647" cy="529.4" r="3.8" fill="url(#gol)"/>
<text x="653.8" y="532.6" font-size="8.8" text-anchor="start" fill="#d4a4dc"  stroke="#d4a4dc">O</text>
<circle cx="614" cy="547" r="2.6" fill="#f4f4f4" stroke="#888" stroke-width="1.3"/>
<text x="621.9" y="550.2" font-size="8.8" text-anchor="start" fill="#b8b8b8"  stroke="#b8b8b8">C</text>
<circle cx="647.9" cy="547" r="2.6" fill="#f0ffff" stroke="#50b8b8" stroke-width="1.3"/>
<text x="653.8" y="550.2" font-size="8.8" text-anchor="start" fill="#a0dcdc"  stroke="#a0dcdc">H</text>
<circle cx="614" cy="563.6" r="3.6" fill="url(#gac)"/>
<text x="621" y="567" font-size="8.8" text-anchor="start" fill="#b0286e"  stroke="#b0286e">Active O</text>
<circle cx="614.2" cy="581.8" r="3.9" fill="url(#ggr)"/>
<text x="622.4" y="585.2" font-size="8.8" text-anchor="start" fill="#70d020"  stroke="#70d020">O from air</text>
<rect x="19.5" y="400.6" width="663.3" height="193.9" fill="none" stroke="#333" stroke-width="1"/>
</svg>
</body></html>
